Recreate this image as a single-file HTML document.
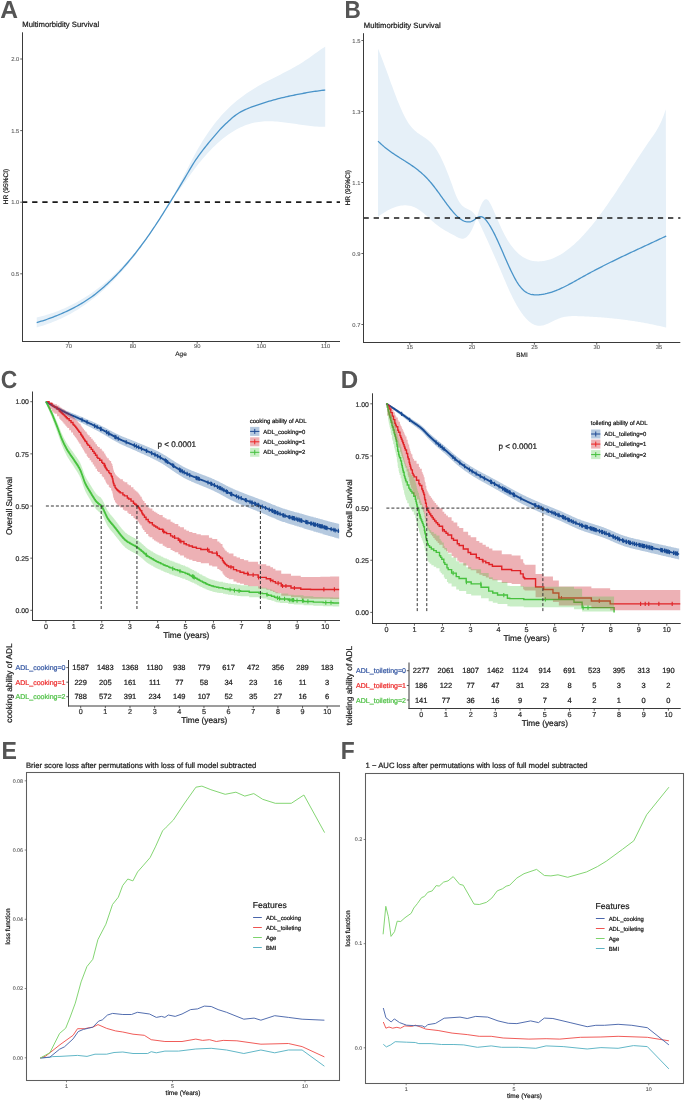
<!DOCTYPE html>
<html><head><meta charset="utf-8"><style>html,body{margin:0;padding:0;background:#fff;}svg{display:block;font-family:"Liberation Sans",sans-serif;text-rendering:geometricPrecision;will-change:transform;}</style></head><body>
<svg width="685" height="1100" viewBox="0 0 685 1100" font-family="Liberation Sans, sans-serif">
<text x="0" y="0" font-size="24.6" font-weight="bold" fill="#555555" transform="translate(0.27 18.1) scale(1 1)">A</text>
<text x="22.3" y="27.2" font-size="7.7" text-anchor="start" fill="#1a1a1a" stroke="#1a1a1a" stroke-width="0.22" >Multimorbidity Survival</text>
<path d="M36.7 317.62L38.7 317.12L40.7 316.6L42.7 316.04L44.7 315.47L46.7 314.86L48.7 314.23L50.7 313.57L52.7 312.89L54.7 312.17L56.7 311.43L58.7 310.65L60.7 309.85L62.7 309.01L64.7 308.14L66.7 307.24L68.7 306.3L70.7 305.33L72.7 304.33L74.7 303.29L76.7 302.22L78.7 301.11L80.7 299.96L82.7 298.77L84.7 297.55L86.7 296.29L88.7 294.98L90.7 293.64L92.7 292.26L94.7 290.84L96.7 289.37L98.7 287.86L100.7 286.31L102.7 284.72L104.7 283.08L106.7 281.39L108.7 279.66L110.7 277.88L112.7 276.06L114.7 274.19L116.7 272.27L118.7 270.3L120.7 268.28L122.7 266.22L124.7 264.1L126.7 261.93L128.7 259.71L130.7 257.43L132.7 255.11L134.7 252.72L136.7 250.29L138.7 247.8L140.7 245.25L142.7 242.65L144.7 239.99L146.7 237.28L148.7 234.5L150.7 231.67L152.7 228.78L154.7 225.82L156.7 222.81L158.7 219.74L160.7 216.6L162.7 213.41L164.7 210.15L166.7 206.83L168.7 203.44L170.7 200L172.7 196.48L174.7 192.91L176.7 189.27L178.7 185.57L180.7 181.8L182.7 177.96L184.7 174.07L186.7 170.15L188.7 166.23L190.7 162.34L192.7 158.5L194.7 154.74L196.7 151.08L198.7 147.55L200.7 144.14L202.7 140.86L204.7 137.7L206.7 134.66L208.7 131.73L210.7 128.91L212.7 126.2L214.7 123.59L216.7 121.08L218.7 118.67L220.7 116.35L222.7 114.12L224.7 111.98L226.7 109.93L228.7 107.95L230.7 106.06L232.7 104.24L234.7 102.48L236.7 100.8L238.7 99.18L240.7 97.63L242.7 96.13L244.7 94.68L246.7 93.29L248.7 91.95L250.7 90.65L252.7 89.39L254.7 88.17L256.7 86.99L258.7 85.84L260.7 84.72L262.7 83.62L264.7 82.55L266.7 81.49L268.7 80.46L270.7 79.43L272.7 78.41L274.7 77.41L276.7 76.4L278.7 75.39L280.7 74.38L282.7 73.37L284.7 72.34L286.7 71.31L288.7 70.25L290.7 69.18L292.7 68.08L294.7 66.96L296.7 65.81L298.7 64.63L300.7 63.41L302.7 62.15L304.7 60.85L306.7 59.51L308.7 58.13L310.7 56.72L312.7 55.29L314.7 53.86L316.7 52.43L318.7 51.01L320.7 49.61L322.7 48.25L324.7 46.94L325.2 46.62L325.2 126.67L324.7 126.69L322.7 126.71L320.7 126.69L318.7 126.63L316.7 126.53L314.7 126.39L312.7 126.22L310.7 126.03L308.7 125.8L306.7 125.56L304.7 125.3L302.7 125.02L300.7 124.73L298.7 124.43L296.7 124.12L294.7 123.82L292.7 123.52L290.7 123.22L288.7 122.93L286.7 122.65L284.7 122.39L282.7 122.14L280.7 121.92L278.7 121.73L276.7 121.56L274.7 121.43L272.7 121.33L270.7 121.27L268.7 121.25L266.7 121.28L264.7 121.36L262.7 121.49L260.7 121.67L258.7 121.92L256.7 122.23L254.7 122.6L252.7 123.05L250.7 123.56L248.7 124.16L246.7 124.83L244.7 125.58L242.7 126.4L240.7 127.3L238.7 128.28L236.7 129.34L234.7 130.47L232.7 131.67L230.7 132.96L228.7 134.32L226.7 135.75L224.7 137.26L222.7 138.84L220.7 140.5L218.7 142.23L216.7 144.04L214.7 145.92L212.7 147.87L210.7 149.9L208.7 152L206.7 154.18L204.7 156.43L202.7 158.75L200.7 161.14L198.7 163.6L196.7 166.14L194.7 168.75L192.7 171.41L190.7 174.13L188.7 176.88L186.7 179.64L184.7 182.42L182.7 185.19L180.7 187.94L178.7 190.68L176.7 193.43L174.7 196.21L172.7 199.04L170.7 201.93L168.7 204.91L166.7 207.98L164.7 211.1L162.7 214.28L160.7 217.49L158.7 220.7L156.7 223.91L154.7 227.1L152.7 230.24L150.7 233.33L148.7 236.36L146.7 239.33L144.7 242.24L142.7 245.09L140.7 247.89L138.7 250.62L136.7 253.3L134.7 255.93L132.7 258.5L130.7 261.01L128.7 263.47L126.7 265.87L124.7 268.23L122.7 270.53L120.7 272.77L118.7 274.97L116.7 277.11L114.7 279.21L112.7 281.25L110.7 283.25L108.7 285.19L106.7 287.09L104.7 288.94L102.7 290.74L100.7 292.5L98.7 294.21L96.7 295.88L94.7 297.5L92.7 299.07L90.7 300.6L88.7 302.09L86.7 303.54L84.7 304.94L82.7 306.3L80.7 307.62L78.7 308.9L76.7 310.14L74.7 311.34L72.7 312.5L70.7 313.63L68.7 314.71L66.7 315.76L64.7 316.77L62.7 317.75L60.7 318.69L58.7 319.59L56.7 320.46L54.7 321.3L52.7 322.1L50.7 322.88L48.7 323.61L46.7 324.32L44.7 325L42.7 325.64L40.7 326.26L38.7 326.84L36.7 327.4Z" fill="#e6f0f8"/>
<path d="M36.7 322.6L38.2 322.16L39.7 321.71L41.2 321.24L42.7 320.77L44.2 320.27L45.7 319.77L47.2 319.25L48.7 318.72L50.2 318.17L51.7 317.62L53.2 317.05L54.7 316.47L56.2 315.87L57.7 315.27L59.2 314.65L60.7 314.01L62.2 313.37L63.7 312.7L65.2 312.03L66.7 311.33L68.2 310.62L69.7 309.89L71.2 309.15L72.7 308.39L74.2 307.6L75.7 306.8L77.2 305.97L78.7 305.12L80.2 304.25L81.7 303.36L83.2 302.44L84.7 301.51L86.2 300.55L87.7 299.56L89.2 298.55L90.7 297.52L92.2 296.46L93.7 295.36L95.2 294.22L96.7 293.04L98.2 291.83L99.7 290.59L101.2 289.31L102.7 288.01L104.2 286.68L105.7 285.32L107.2 283.95L108.7 282.55L110.2 281.13L111.7 279.7L113.2 278.24L114.7 276.75L116.2 275.23L117.7 273.67L119.2 272.08L120.7 270.47L122.2 268.82L123.7 267.15L125.2 265.45L126.7 263.72L128.2 261.97L129.7 260.2L131.2 258.41L132.7 256.59L134.2 254.74L135.7 252.85L137.2 250.93L138.7 248.97L140.2 246.99L141.7 244.97L143.2 242.92L144.7 240.85L146.2 238.76L147.7 236.64L149.2 234.51L150.7 232.35L152.2 230.18L153.7 227.99L155.2 225.75L156.7 223.48L158.2 221.16L159.7 218.83L161.2 216.46L162.7 214.08L164.2 211.68L165.7 209.27L167.2 206.86L168.7 204.45L170.2 202.04L171.7 199.62L173.2 197.19L174.7 194.74L176.2 192.28L177.7 189.81L179.2 187.34L180.7 184.87L182.2 182.41L183.7 179.9L185.2 177.35L186.7 174.78L188.2 172.21L189.7 169.65L191.2 167.13L192.7 164.66L194.2 162.27L195.7 159.98L197.2 157.79L198.7 155.67L200.2 153.61L201.7 151.61L203.2 149.65L204.7 147.73L206.2 145.85L207.7 144L209.2 142.18L210.7 140.38L212.2 138.59L213.7 136.81L215.2 135.05L216.7 133.31L218.2 131.6L219.7 129.92L221.2 128.3L222.7 126.73L224.2 125.23L225.7 123.8L227.2 122.41L228.7 121.03L230.2 119.68L231.7 118.36L233.2 117.09L234.7 115.88L236.2 114.74L237.7 113.69L239.2 112.73L240.7 111.88L242.2 111.1L243.7 110.35L245.2 109.65L246.7 108.98L248.2 108.35L249.7 107.74L251.2 107.16L252.7 106.6L254.2 106.07L255.7 105.54L257.2 105.03L258.7 104.53L260.2 104.03L261.7 103.54L263.2 103.06L264.7 102.59L266.2 102.13L267.7 101.67L269.2 101.22L270.7 100.79L272.2 100.36L273.7 99.94L275.2 99.53L276.7 99.13L278.2 98.73L279.7 98.35L281.2 97.98L282.7 97.61L284.2 97.26L285.7 96.91L287.2 96.58L288.7 96.25L290.2 95.93L291.7 95.62L293.2 95.31L294.7 95L296.2 94.7L297.7 94.4L299.2 94.11L300.7 93.82L302.2 93.54L303.7 93.26L305.2 92.99L306.7 92.72L308.2 92.46L309.7 92.21L311.2 91.96L312.7 91.72L314.2 91.48L315.7 91.26L317.2 91.04L318.7 90.83L320.2 90.62L321.7 90.42L323.2 90.24L324.7 90.06L325.2 90" fill="none" stroke="#4a94c9" stroke-width="1.3" stroke-linejoin="round"/>
<line x1="22" y1="202.1" x2="340" y2="202.1" stroke="#1a1a1a" stroke-width="1.55" stroke-dasharray="5.3 4.85"/>
<line x1="22.5" y1="32.3" x2="22.5" y2="342" stroke="#3a3a3a" stroke-width="1" />
<line x1="22" y1="341.5" x2="340" y2="341.5" stroke="#3a3a3a" stroke-width="1" />
<line x1="20.2" y1="273.8" x2="22.5" y2="273.8" stroke="#3a3a3a" stroke-width="0.8" />
<text x="19.2" y="275.8" font-size="5.8" text-anchor="end" fill="#5a5a5a" stroke="#5a5a5a" stroke-width="0.1" >0.5</text>
<line x1="20.2" y1="202.2" x2="22.5" y2="202.2" stroke="#3a3a3a" stroke-width="0.8" />
<text x="19.2" y="204.2" font-size="5.8" text-anchor="end" fill="#5a5a5a" stroke="#5a5a5a" stroke-width="0.1" >1.0</text>
<line x1="20.2" y1="130.6" x2="22.5" y2="130.6" stroke="#3a3a3a" stroke-width="0.8" />
<text x="19.2" y="132.6" font-size="5.8" text-anchor="end" fill="#5a5a5a" stroke="#5a5a5a" stroke-width="0.1" >1.5</text>
<line x1="20.2" y1="59" x2="22.5" y2="59" stroke="#3a3a3a" stroke-width="0.8" />
<text x="19.2" y="61" font-size="5.8" text-anchor="end" fill="#5a5a5a" stroke="#5a5a5a" stroke-width="0.1" >2.0</text>
<line x1="68.7" y1="341.5" x2="68.7" y2="343.7" stroke="#3a3a3a" stroke-width="0.8" />
<text x="68.7" y="347.7" font-size="5.8" text-anchor="middle" fill="#5a5a5a" stroke="#5a5a5a" stroke-width="0.1" >70</text>
<line x1="132.95" y1="341.5" x2="132.95" y2="343.7" stroke="#3a3a3a" stroke-width="0.8" />
<text x="132.95" y="347.7" font-size="5.8" text-anchor="middle" fill="#5a5a5a" stroke="#5a5a5a" stroke-width="0.1" >80</text>
<line x1="197.2" y1="341.5" x2="197.2" y2="343.7" stroke="#3a3a3a" stroke-width="0.8" />
<text x="197.2" y="347.7" font-size="5.8" text-anchor="middle" fill="#5a5a5a" stroke="#5a5a5a" stroke-width="0.1" >90</text>
<line x1="261.45" y1="341.5" x2="261.45" y2="343.7" stroke="#3a3a3a" stroke-width="0.8" />
<text x="261.45" y="347.7" font-size="5.8" text-anchor="middle" fill="#5a5a5a" stroke="#5a5a5a" stroke-width="0.1" >100</text>
<line x1="325.7" y1="341.5" x2="325.7" y2="343.7" stroke="#3a3a3a" stroke-width="0.8" />
<text x="325.7" y="347.7" font-size="5.8" text-anchor="middle" fill="#5a5a5a" stroke="#5a5a5a" stroke-width="0.1" >110</text>
<text x="181" y="356.3" font-size="6.5" text-anchor="middle" fill="#1a1a1a" stroke="#1a1a1a" stroke-width="0.12" >Age</text>
<text x="0" y="0" font-size="6.6" text-anchor="middle" fill="#1a1a1a" stroke="#1a1a1a" stroke-width="0.22" transform="translate(8.35 186.5) rotate(-90)">HR (95%CI)</text>
<text x="0" y="0" font-size="24.6" font-weight="bold" fill="#555555" transform="translate(344.58 17.8) scale(0.92 1)">B</text>
<text x="363.8" y="27.8" font-size="7.7" text-anchor="start" fill="#1a1a1a" stroke="#1a1a1a" stroke-width="0.22" >Multimorbidity Survival</text>
<path d="M378 48.67L379 51.08L380 53.54L381 56.07L382 58.65L383 61.28L384 63.94L385 66.64L386 69.36L387 72.1L388 74.86L389 77.62L390 80.38L391 83.13L392 85.87L393 88.59L394 91.28L395 93.94L396 96.56L397 99.13L398 101.65L399 104.11L400 106.5L401 108.82L402 111.07L403 113.22L404 115.28L405 117.24L406 119.1L407 120.84L408 122.46L409 123.96L410 125.34L411 126.61L412 127.78L413 128.85L414 129.85L415 130.76L416 131.61L417 132.41L418 133.16L419 133.87L420 134.55L421 135.21L422 135.86L423 136.51L424 137.17L425 137.84L426 138.54L427 139.28L428 140.06L429 140.89L430 141.78L431 142.75L432 143.79L433 144.93L434 146.16L435 147.51L436 148.96L437 150.53L438 152.2L439 153.98L440 155.85L441 157.83L442 159.89L443 162.04L444 164.27L445 166.58L446 168.97L447 171.42L448 173.95L449 176.53L450 179.18L451 181.88L452 184.62L453 187.41L454 190.19L455 192.88L456 195.43L457 197.76L458 199.82L459 201.59L460 203.09L461 204.35L462 205.41L463 206.3L464 207.05L465 207.68L466 208.24L467 208.74L468 209.22L469 209.72L470 210.25L471 210.86L472 211.57L473 212.42L474 213.43L475 214.63L476 216.06L476.8 217.39L476.8 217.36L476 219.74L475 222.5L474 225.03L473 227.34L472 229.43L471 231.3L470 232.95L469 234.39L468 235.62L467 236.64L466 237.46L465 238.07L464 238.49L463 238.7L462 238.73L461 238.59L460 238.31L459 237.92L458 237.45L457 236.93L456 236.39L455 235.85L454 235.31L453 234.78L452 234.26L451 233.73L450 233.2L449 232.67L448 232.12L447 231.57L446 231.01L445 230.43L444 229.84L443 229.23L442 228.6L441 227.95L440 227.27L439 226.56L438 225.83L437 225.06L436 224.26L435 223.43L434 222.58L433 221.7L432 220.81L431 219.9L430 218.99L429 218.07L428 217.16L427 216.25L426 215.35L425 214.47L424 213.61L423 212.78L422 211.97L421 211.2L420 210.46L419 209.77L418 209.13L417 208.54L416 208L415 207.52L414 207.08L413 206.7L412 206.37L411 206.08L410 205.84L409 205.65L408 205.5L407 205.39L406 205.33L405 205.31L404 205.33L403 205.39L402 205.48L401 205.62L400 205.79L399 206L398 206.24L397 206.52L396 206.82L395 207.16L394 207.53L393 207.93L392 208.35L391 208.8L390 209.28L389 209.78L388 210.31L387 210.86L386 211.43L385 212.02L384 212.64L383 213.27L382 213.91L381 214.58L380 215.26L379 215.95L378 216.66Z" fill="#e6f0f8"/>
<path d="M476.8 217.73L477.8 214.32L478.8 211.16L479.8 208.29L480.8 205.74L481.8 203.56L482.8 201.77L483.8 200.41L484.8 199.53L485.8 199.14L486.8 199.3L487.8 199.99L488.8 201.12L489.8 202.63L490.8 204.44L491.8 206.47L492.8 208.64L493.8 210.88L494.8 213.18L495.8 215.52L496.8 217.87L497.8 220.22L498.8 222.55L499.8 224.84L500.8 227.07L501.8 229.22L502.8 231.29L503.8 233.27L504.8 235.17L505.8 236.99L506.8 238.73L507.8 240.38L508.8 241.97L509.8 243.47L510.8 244.91L511.8 246.27L512.8 247.56L513.8 248.78L514.8 249.93L515.8 251.02L516.8 252.04L517.8 253L518.8 253.9L519.8 254.74L520.8 255.52L521.8 256.24L522.8 256.91L523.8 257.52L524.8 258.09L525.8 258.6L526.8 259.06L527.8 259.48L528.8 259.85L529.8 260.18L530.8 260.46L531.8 260.71L532.8 260.91L533.8 261.08L534.8 261.2L535.8 261.3L536.8 261.36L537.8 261.39L538.8 261.39L539.8 261.36L540.8 261.3L541.8 261.22L542.8 261.1L543.8 260.95L544.8 260.78L545.8 260.58L546.8 260.35L547.8 260.1L548.8 259.81L549.8 259.5L550.8 259.17L551.8 258.8L552.8 258.41L553.8 258L554.8 257.56L555.8 257.09L556.8 256.6L557.8 256.08L558.8 255.54L559.8 254.98L560.8 254.39L561.8 253.77L562.8 253.13L563.8 252.47L564.8 251.79L565.8 251.08L566.8 250.35L567.8 249.6L568.8 248.82L569.8 248.03L570.8 247.21L571.8 246.37L572.8 245.51L573.8 244.63L574.8 243.72L575.8 242.8L576.8 241.86L577.8 240.89L578.8 239.91L579.8 238.91L580.8 237.89L581.8 236.84L582.8 235.78L583.8 234.71L584.8 233.61L585.8 232.5L586.8 231.36L587.8 230.21L588.8 229.05L589.8 227.86L590.8 226.66L591.8 225.45L592.8 224.21L593.8 222.96L594.8 221.7L595.8 220.42L596.8 219.12L597.8 217.81L598.8 216.49L599.8 215.15L600.8 213.79L601.8 212.43L602.8 211.05L603.8 209.65L604.8 208.25L605.8 206.83L606.8 205.41L607.8 203.97L608.8 202.52L609.8 201.06L610.8 199.6L611.8 198.12L612.8 196.64L613.8 195.15L614.8 193.65L615.8 192.14L616.8 190.63L617.8 189.12L618.8 187.59L619.8 186.07L620.8 184.54L621.8 183L622.8 181.46L623.8 179.92L624.8 178.38L625.8 176.83L626.8 175.29L627.8 173.74L628.8 172.19L629.8 170.64L630.8 169.1L631.8 167.55L632.8 166L633.8 164.46L634.8 162.92L635.8 161.38L636.8 159.85L637.8 158.32L638.8 156.79L639.8 155.27L640.8 153.75L641.8 152.24L642.8 150.74L643.8 149.24L644.8 147.75L645.8 146.27L646.8 144.8L647.8 143.33L648.8 141.87L649.8 140.43L650.8 138.99L651.8 137.56L652.8 136.14L653.8 134.69L654.8 133.21L655.8 131.67L656.8 130.06L657.8 128.36L658.8 126.54L659.8 124.6L660.8 122.51L661.8 120.25L662.8 117.81L663.8 115.17L664.8 112.31L665.8 109.2L666.2 327.6L665.8 327.5L664.8 327.26L663.8 327.01L662.8 326.78L661.8 326.54L660.8 326.31L659.8 326.08L658.8 325.85L657.8 325.63L656.8 325.41L655.8 325.19L654.8 324.98L653.8 324.76L652.8 324.56L651.8 324.35L650.8 324.15L649.8 323.95L648.8 323.75L647.8 323.55L646.8 323.36L645.8 323.17L644.8 322.99L643.8 322.8L642.8 322.62L641.8 322.45L640.8 322.27L639.8 322.1L638.8 321.93L637.8 321.76L636.8 321.6L635.8 321.44L634.8 321.28L633.8 321.12L632.8 320.97L631.8 320.82L630.8 320.67L629.8 320.52L628.8 320.38L627.8 320.24L626.8 320.1L625.8 319.96L624.8 319.83L623.8 319.7L622.8 319.57L621.8 319.45L620.8 319.32L619.8 319.2L618.8 319.09L617.8 318.97L616.8 318.86L615.8 318.74L614.8 318.64L613.8 318.53L612.8 318.43L611.8 318.32L610.8 318.22L609.8 318.13L608.8 318.03L607.8 317.94L606.8 317.85L605.8 317.76L604.8 317.68L603.8 317.59L602.8 317.51L601.8 317.43L600.8 317.35L599.8 317.28L598.8 317.21L597.8 317.14L596.8 317.07L595.8 317L594.8 316.94L593.8 316.88L592.8 316.82L591.8 316.76L590.8 316.7L589.8 316.65L588.8 316.59L587.8 316.54L586.8 316.5L585.8 316.45L584.8 316.41L583.8 316.36L582.8 316.32L581.8 316.29L580.8 316.25L579.8 316.21L578.8 316.18L577.8 316.15L576.8 316.12L575.8 316.1L574.8 316.09L573.8 316.09L572.8 316.1L571.8 316.12L570.8 316.16L569.8 316.21L568.8 316.29L567.8 316.38L566.8 316.5L565.8 316.65L564.8 316.82L563.8 317.03L562.8 317.26L561.8 317.53L560.8 317.84L559.8 318.18L558.8 318.56L557.8 318.97L556.8 319.41L555.8 319.87L554.8 320.35L553.8 320.83L552.8 321.33L551.8 321.82L550.8 322.31L549.8 322.79L548.8 323.25L547.8 323.69L546.8 324.1L545.8 324.48L544.8 324.83L543.8 325.13L542.8 325.38L541.8 325.57L540.8 325.71L539.8 325.78L538.8 325.79L537.8 325.71L536.8 325.56L535.8 325.32L534.8 324.99L533.8 324.57L532.8 324.07L531.8 323.49L530.8 322.82L529.8 322.07L528.8 321.24L527.8 320.32L526.8 319.34L525.8 318.27L524.8 317.12L523.8 315.91L522.8 314.61L521.8 313.25L520.8 311.81L519.8 310.31L518.8 308.73L517.8 307.09L516.8 305.38L515.8 303.6L514.8 301.77L513.8 299.86L512.8 297.9L511.8 295.87L510.8 293.79L509.8 291.65L508.8 289.45L507.8 287.2L506.8 284.92L505.8 282.61L504.8 280.27L503.8 277.91L502.8 275.55L501.8 273.19L500.8 270.84L499.8 268.5L498.8 266.17L497.8 263.86L496.8 261.56L495.8 259.26L494.8 256.98L493.8 254.71L492.8 252.46L491.8 250.21L490.8 247.97L489.8 245.74L488.8 243.53L487.8 241.32L486.8 239.12L485.8 236.93L484.8 234.75L483.8 232.58L482.8 230.42L481.8 228.27L480.8 226.12L479.8 223.99L478.8 221.86L477.8 219.74L476.8 217.62Z" fill="#e6f0f8"/>
<path d="M378 141.09L379 142.09L380 143.05L381 143.99L382 144.89L383 145.77L384 146.63L385 147.46L386 148.27L387 149.05L388 149.82L389 150.57L390 151.3L391 152.01L392 152.71L393 153.39L394 154.07L395 154.73L396 155.38L397 156.03L398 156.67L399 157.3L400 157.93L401 158.55L402 159.18L403 159.8L404 160.43L405 161.06L406 161.69L407 162.33L408 162.98L409 163.63L410 164.29L411 164.97L412 165.65L413 166.35L414 167.06L415 167.79L416 168.54L417 169.31L418 170.1L419 170.9L420 171.73L421 172.59L422 173.47L423 174.38L424 175.31L425 176.28L426 177.28L427 178.31L428 179.37L429 180.47L430 181.6L431 182.77L432 183.98L433 185.23L434 186.51L435 187.81L436 189.14L437 190.49L438 191.86L439 193.24L440 194.64L441 196.03L442 197.43L443 198.83L444 200.22L445 201.61L446 202.98L447 204.33L448 205.66L449 206.97L450 208.25L451 209.5L452 210.71L453 211.89L454 213.02L455 214.1L456 215.14L457 216.11L458 217.03L459 217.88L460 218.67L461 219.38L462 220.02L463 220.57L464 221.03L465 221.41L466 221.69L467 221.87L468 221.95L469 221.92L470 221.77L471 221.51L472 221.13L473 220.62L474 219.99L475 219.27L476 218.54L477 217.85L478 217.24L479 216.79L480 216.54L481 216.55L482 216.83L483 217.35L484 218.09L485 219.03L486 220.13L487 221.39L488 222.76L489 224.26L490 225.85L491 227.55L492 229.33L493 231.2L494 233.15L495 235.16L496 237.23L497 239.36L498 241.54L499 243.75L500 246L501 248.27L502 250.56L503 252.86L504 255.16L505 257.46L506 259.74L507 262.01L508 264.25L509 266.46L510 268.63L511 270.75L512 272.81L513 274.81L514 276.74L515 278.59L516 280.36L517 282.04L518 283.62L519 285.09L520 286.45L521 287.68L522 288.8L523 289.8L524 290.68L525 291.46L526 292.15L527 292.74L528 293.24L529 293.66L530 294.01L531 294.29L532 294.51L533 294.67L534 294.77L535 294.84L536 294.86L537 294.86L538 294.82L539 294.77L540 294.68L541 294.58L542 294.45L543 294.3L544 294.12L545 293.93L546 293.71L547 293.48L548 293.22L549 292.95L550 292.66L551 292.35L552 292.02L553 291.68L554 291.32L555 290.95L556 290.56L557 290.15L558 289.74L559 289.31L560 288.87L561 288.41L562 287.95L563 287.47L564 286.99L565 286.49L566 285.99L567 285.48L568 284.96L569 284.44L570 283.9L571 283.37L572 282.82L573 282.28L574 281.72L575 281.17L576 280.61L577 280.05L578 279.49L579 278.93L580 278.37L581 277.8L582 277.24L583 276.68L584 276.12L585 275.57L586 275.02L587 274.47L588 273.92L589 273.38L590 272.83L591 272.3L592 271.76L593 271.23L594 270.7L595 270.17L596 269.64L597 269.12L598 268.6L599 268.08L600 267.57L601 267.06L602 266.55L603 266.04L604 265.53L605 265.03L606 264.52L607 264.02L608 263.52L609 263.03L610 262.53L611 262.04L612 261.55L613 261.06L614 260.57L615 260.08L616 259.6L617 259.11L618 258.63L619 258.15L620 257.67L621 257.19L622 256.71L623 256.24L624 255.76L625 255.29L626 254.81L627 254.34L628 253.87L629 253.4L630 252.93L631 252.46L632 251.99L633 251.53L634 251.06L635 250.59L636 250.13L637 249.66L638 249.19L639 248.73L640 248.26L641 247.8L642 247.33L643 246.87L644 246.41L645 245.94L646 245.48L647 245.01L648 244.55L649 244.08L650 243.62L651 243.15L652 242.69L653 242.22L654 241.75L655 241.28L656 240.82L657 240.35L658 239.88L659 239.41L660 238.94L661 238.47L662 237.99L663 237.52L664 237.05L665 236.57L666 236.09L666.2 236" fill="none" stroke="#4a94c9" stroke-width="1.3" stroke-linejoin="round"/>
<line x1="363.5" y1="218" x2="680.4" y2="218" stroke="#1a1a1a" stroke-width="1.55" stroke-dasharray="5.3 4.85"/>
<line x1="363.5" y1="33.2" x2="363.5" y2="343" stroke="#3a3a3a" stroke-width="1" />
<line x1="363" y1="342.5" x2="680.3" y2="342.5" stroke="#3a3a3a" stroke-width="1" />
<line x1="361.4" y1="324.5" x2="363.5" y2="324.5" stroke="#3a3a3a" stroke-width="0.8" />
<text x="360.4" y="326.5" font-size="5.8" text-anchor="end" fill="#5a5a5a" stroke="#5a5a5a" stroke-width="0.1" >0.7</text>
<line x1="361.4" y1="253.5" x2="363.5" y2="253.5" stroke="#3a3a3a" stroke-width="0.8" />
<text x="360.4" y="255.5" font-size="5.8" text-anchor="end" fill="#5a5a5a" stroke="#5a5a5a" stroke-width="0.1" >0.9</text>
<line x1="361.4" y1="182.5" x2="363.5" y2="182.5" stroke="#3a3a3a" stroke-width="0.8" />
<text x="360.4" y="184.5" font-size="5.8" text-anchor="end" fill="#5a5a5a" stroke="#5a5a5a" stroke-width="0.1" >1.1</text>
<line x1="361.4" y1="111.5" x2="363.5" y2="111.5" stroke="#3a3a3a" stroke-width="0.8" />
<text x="360.4" y="113.5" font-size="5.8" text-anchor="end" fill="#5a5a5a" stroke="#5a5a5a" stroke-width="0.1" >1.3</text>
<line x1="361.4" y1="40.5" x2="363.5" y2="40.5" stroke="#3a3a3a" stroke-width="0.8" />
<text x="360.4" y="42.5" font-size="5.8" text-anchor="end" fill="#5a5a5a" stroke="#5a5a5a" stroke-width="0.1" >1.5</text>
<line x1="409.8" y1="342.5" x2="409.8" y2="344.7" stroke="#3a3a3a" stroke-width="0.8" />
<text x="409.8" y="348.7" font-size="5.8" text-anchor="middle" fill="#5a5a5a" stroke="#5a5a5a" stroke-width="0.1" >15</text>
<line x1="472.1" y1="342.5" x2="472.1" y2="344.7" stroke="#3a3a3a" stroke-width="0.8" />
<text x="472.1" y="348.7" font-size="5.8" text-anchor="middle" fill="#5a5a5a" stroke="#5a5a5a" stroke-width="0.1" >20</text>
<line x1="534.4" y1="342.5" x2="534.4" y2="344.7" stroke="#3a3a3a" stroke-width="0.8" />
<text x="534.4" y="348.7" font-size="5.8" text-anchor="middle" fill="#5a5a5a" stroke="#5a5a5a" stroke-width="0.1" >25</text>
<line x1="596.7" y1="342.5" x2="596.7" y2="344.7" stroke="#3a3a3a" stroke-width="0.8" />
<text x="596.7" y="348.7" font-size="5.8" text-anchor="middle" fill="#5a5a5a" stroke="#5a5a5a" stroke-width="0.1" >30</text>
<line x1="659" y1="342.5" x2="659" y2="344.7" stroke="#3a3a3a" stroke-width="0.8" />
<text x="659" y="348.7" font-size="5.8" text-anchor="middle" fill="#5a5a5a" stroke="#5a5a5a" stroke-width="0.1" >35</text>
<text x="522" y="357.3" font-size="6.5" text-anchor="middle" fill="#1a1a1a" stroke="#1a1a1a" stroke-width="0.12" >BMI</text>
<text x="0" y="0" font-size="6.6" text-anchor="middle" fill="#1a1a1a" stroke="#1a1a1a" stroke-width="0.22" transform="translate(349.7 187.8) rotate(-90)">HR (95%CI)</text>
<text x="0" y="0" font-size="24.6" font-weight="bold" fill="#555555" transform="translate(0.81 387.9) scale(0.93 1)">C</text>
<path d="M45.9 401.7H46.12V401.84H46.57V402.11H47.02V402.38H47.24V402.52H47.46V402.65H47.69V402.79H47.91V402.92H48.36V403.19H48.58V403.32H48.8V403.46H49.25V403.72H49.48V403.86H49.92V404.12H50.2V404.29H50.48V404.45H50.98V404.74H51.26V404.91H51.77V405.2H52.27V405.49H52.55V405.65H52.83V405.81H53.11V405.97H53.61V406.26H53.89V406.41H54.17V406.57H54.45V406.73H54.73V406.89H55.01V407.04H55.28V407.2H55.56V407.35H55.84V407.51H56.12V407.66H56.4V407.82H56.68V407.97H56.96V408.12H57.24V408.28H57.74V408.55H58.02V408.7H58.3V408.85H58.58V409H59.08V409.27H59.64V409.56H59.92V409.71H60.2V409.86H60.76V410.15H61.32V410.44H61.88V410.73H62.16V410.87H62.71V411.15H62.99V411.29H63.27V411.43H63.55V411.57H64.11V411.85H64.67V412.12H64.95V412.26H65.28V412.42H65.62V412.58H65.95V412.74H66.57V413.03H66.9V413.19H67.24V413.34H67.57V413.5H68.19V413.78H68.52V413.93H68.86V414.08H69.19V414.23H69.53V414.38H70.14V414.66H70.48V414.81H70.81V414.96H71.15V415.1H71.48V415.25H71.82V415.4H72.49V415.69H73.16V415.99H73.49V416.13H73.83V416.28H74.17V416.43H74.5V416.57H75.17V416.87H75.84V417.16H76.18V417.31H76.85V417.6H77.18V417.75H77.52V417.9H78.19V418.2H78.52V418.35H78.86V418.5H79.19V418.65H79.53V418.8H80.14V419.08H80.48V419.24H81.09V419.52H81.71V419.81H82.32V420.09H82.94V420.38H83.55V420.66H83.88V420.82H84.22V420.97H84.56V421.13H84.89V421.28H85.5V421.57H85.84V421.73H86.18V421.88H86.51V422.04H86.85V422.19H87.18V422.35H87.52V422.51H87.85V422.66H88.19V422.82H88.52V422.98H88.86V423.14H89.19V423.29H89.53V423.45H89.86V423.61H90.2V423.77H90.81V424.06H91.43V424.35H92.04V424.65H92.65V424.94H92.99V425.1H93.6V425.4H93.94V425.56H94.27V425.72H94.61V425.89H94.95V426.05H95.56V426.35H95.89V426.52H96.23V426.68H96.57V426.85H96.9V427.02H97.24V427.18H97.57V427.35H97.91V427.52H98.24V427.69H98.58V427.86H99.13V428.15H99.41V428.29H99.69V428.44H99.97V428.58H100.25V428.73H100.53V428.88H100.81V429.03H101.09V429.18H101.37V429.33H101.93V429.63H102.21V429.78H102.49V429.93H102.77V430.09H103.32V430.4H103.6V430.55H103.88V430.71H104.16V430.86H104.72V431.18H105V431.33H105.56V431.65H105.84V431.81H106.12V431.97H106.4V432.12H106.95V432.44H107.51V432.76H107.79V432.92H108.07V433.08H108.35V433.24H108.63V433.4H108.91V433.55H109.19V433.71H109.47V433.87H109.75V434.03H110.03V434.19H110.59V434.51H111.14V434.82H111.42V434.98H111.98V435.29H112.26V435.45H112.82V435.76H113.38V436.07H113.66V436.22H113.94V436.38H114.22V436.53H114.78V436.83H115.05V436.98H115.61V437.28H116.17V437.58H116.45V437.72H116.79V437.9H117.4V438.21H118.02V438.53H118.63V438.83H118.96V439H119.3V439.16H119.64V439.32H119.97V439.48H120.31V439.64H120.64V439.8H120.98V439.95H121.31V440.11H121.65V440.26H121.98V440.41H122.32V440.56H122.65V440.71H123.38V441.03H124.1V441.35H124.5V441.51H124.89V441.68H125.28V441.85H126V442.15H126.73V442.46H127.12V442.62H127.51V442.78H127.9V442.94H128.63V443.24H129.35V443.54H129.75V443.7H130.47V444H130.86V444.17H131.25V444.33H131.98V444.63H132.37V444.8H133.1V445.1H133.49V445.27H133.88V445.44H134.61V445.75H135V445.92H135.72V446.24H136.11V446.41H136.84V446.73H137.23V446.9H137.62V447.07H138.01V447.24H138.74V447.55H139.13V447.72H139.86V448.03H140.58V448.34H140.97V448.51H141.36V448.68H141.76V448.85H142.15V449.02H142.54V449.19H143.26V449.5H143.99V449.81H144.72V450.13H145.11V450.3H145.5V450.47H146.22V450.79H146.62V450.96H147.01V451.13H147.4V451.3H147.79V451.48H148.18V451.65H148.91V451.97H149.3V452.15H150.02V452.48H150.41V452.66H150.81V452.84H151.53V453.17H152.2V453.48H152.54V453.64H152.87V453.8H153.21V453.96H153.54V454.12H154.21V454.44H154.55V454.6H154.88V454.76H155.55V455.09H155.89V455.26H156.22V455.42H156.56V455.59H156.89V455.76H157.56V456.1H157.9V456.27H158.51V456.59H158.85V456.77H159.46V457.1H160.08V457.43H160.41V457.62H160.69V457.78H160.97V457.94H161.25V458.1H161.53V458.26H161.81V458.42H162.09V458.59H162.65V458.92H162.93V459.09H163.21V459.26H163.49V459.43H163.76V459.6H164.04V459.77H164.6V460.12H165.11V460.44H165.61V460.76H165.89V460.94H166.17V461.12H166.45V461.3H166.95V461.62H167.23V461.81H167.51V461.99H167.79V462.17H168.07V462.36H168.35V462.54H168.62V462.72H168.9V462.91H169.18V463.1H169.46V463.28H169.97V463.62H170.24V463.8H170.52V463.99H170.8V464.18H171.31V464.51H171.58V464.7H171.86V464.89H172.14V465.07H172.42V465.26H172.93V465.6H173.43V465.93H173.71V466.12H173.99V466.3H174.27V466.49H174.55V466.67H174.82V466.86H175.1V467.04H175.38V467.23H175.66V467.41H175.94V467.59H176.22V467.77H176.5V467.95H176.78V468.13H177.06V468.31H177.34V468.49H177.9V468.85H178.18V469.03H178.74V469.38H179.01V469.55H179.29V469.72H179.85V470.07H180.13V470.24H180.69V470.57H180.97V470.74H181.53V471.07H182.14V471.42H182.76V471.77H183.09V471.95H183.43V472.14H183.76V472.32H184.43V472.68H184.77V472.85H185.44V473.19H185.77V473.36H186.44V473.69H186.83V473.88H187.23V474.07H187.95V474.41H188.68V474.74H189.46V475.1H190.24V475.44H191.02V475.79H191.42V475.95H191.86V476.15H192.31V476.33H192.76V476.52H193.59V476.87H194.04V477.05H194.49V477.23H194.93V477.41H195.83V477.77H196.72V478.13H197.17V478.3H197.62V478.48H198.51V478.83H198.96V479H199.4V479.17H199.85V479.35H200.3V479.52H200.74V479.69H201.19V479.86H201.64V480.04H202.08V480.21H202.53V480.38H202.98V480.56H203.43V480.73H203.87V480.9H204.32V481.08H205.21V481.43H205.66V481.61H206.11V481.79H206.55V481.96H207V482.14H207.45V482.33H207.89V482.51H208.34V482.69H208.79V482.88H209.23V483.06H209.68V483.25H210.52V483.61H210.97V483.8H211.41V484H211.86V484.2H212.31V484.4H212.75V484.6H213.14V484.78H213.93V485.14H214.71V485.51H215.1V485.7H215.49V485.89H215.88V486.08H216.27V486.28H216.66V486.47H217.39V486.84H217.78V487.04H218.51V487.42H219.23V487.8H219.62V488.01H220.02V488.21H220.74V488.6H221.13V488.81H221.86V489.2H222.59V489.59H222.98V489.8H223.7V490.19H224.43V490.58H225.15V490.97H225.55V491.18H225.94V491.39H226.33V491.6H226.72V491.8H227.11V492.01H227.84V492.39H228.23V492.6H228.62V492.8H229.4V493.2H229.79V493.4H230.18V493.6H230.57V493.79H231.36V494.18H231.75V494.37H232.58V494.77H233.42V495.16H233.87V495.36H234.32V495.56H235.21V495.96H236.1V496.35H236.55V496.55H237.5V496.95H238.45V497.36H238.95V497.57H239.9V497.96H240.4V498.17H241.41V498.58H242.42V498.98H242.92V499.19H243.92V499.58H244.43V499.78H244.93V499.98H245.49V500.2H246.05V500.42H247.11V500.83H248.17V501.24H248.73V501.46H249.29V501.67H249.84V501.89H250.4V502.1H250.96V502.32H251.52V502.53H252.58V502.94H253.14V503.15H253.7V503.37H254.26V503.58H254.82V503.8H255.37V504.02H255.93V504.23H256.99V504.65H257.55V504.87H258.11V505.09H258.67V505.31H259.23V505.53H259.79V505.75H260.35V505.98H260.91V506.2H261.97V506.64H263.03V507.08H264.09V507.52H264.65V507.75H265.21V507.99H266.21V508.41H267.22V508.84H267.78V509.08H268.33V509.32H268.89V509.55H269.45V509.79H270.51V510.24H271.07V510.48H272.13V510.93H272.69V511.16H273.75V511.6H274.87V512.06H275.99V512.52H276.55V512.74H277.1V512.96H277.72V513.21H278.33V513.45H278.95V513.68H279.56V513.92H280.18V514.15H280.79V514.38H281.46V514.62H282.13V514.86H282.8V515.1H283.47V515.33H284.87V515.81H285.6V516.05H286.32V516.29H287.05V516.52H287.77V516.75H288.56V517H289.34V517.25H290.12V517.49H290.9V517.73H292.47V518.2H294.09V518.68H294.92V518.93H296.6V519.41H297.44V519.66H299.11V520.14H300.01V520.39H301.74V520.89H303.47V521.39H304.36V521.65H305.26V521.91H306.15V522.17H307.05V522.44H307.94V522.7H308.83V522.96H309.73V523.22H310.62V523.49H311.51V523.75H313.3V524.27H314.2V524.53H315.98V525.05H317.83V525.59H319.67V526.12H320.62V526.4H322.52V526.94H323.47V527.22H324.42V527.49H325.37V527.76H326.37V528.05H327.38V528.34H328.38V528.62H330.34V529.18H332.35V529.75H334.36V530.31H336.43V530.89H338.49V531.47H339.16V531.47" fill="none" stroke="#1f4a94" stroke-width="1.4"/><path d="M219.26 485.7v4.2M196.75 476.03v4.2M292.66 516.1v4.2M320.06 524.02v4.2M262.25 504.54v4.2M160.26 455.33v4.2M313.56 522.17v4.2M250.04 499.79v4.2M246.33 498.32v4.2M108.38 431.14v4.2M255.39 501.92v4.2M298.98 517.56v4.2M236.54 494.25v4.2M220.68 486.11v4.2M283.58 513.23v4.2M87.1 420.09v4.2M254.75 501.48v4.2M331.16 527.08v4.2M289.58 515.15v4.2M231.82 492.27v4.2M289.31 514.9v4.2M274.01 509.5v4.2M179.94 467.97v4.2M179.56 467.62v4.2M321.95 524.3v4.2M198.02 476.38v4.2M126.15 440.05v4.2M313.19 521.65v4.2M258.03 502.77v4.2M223.85 488.09v4.2M255.64 501.92v4.2M297.62 517.56v4.2M166.3 459.02v4.2M282.89 513v4.2M293.61 516.1v4.2M310.65 521.39v4.2M198.22 476.38v4.2M274.88 509.96v4.2M187.19 471.78v4.2M265.56 505.89v4.2M167.65 459.89v4.2M306.52 520.07v4.2M318.92 523.49v4.2M214.28 483.04v4.2M184.18 470.22v4.2M333.81 527.65v4.2M292.43 515.63v4.2M315.29 522.43v4.2M97.15 424.92v4.2M324.02 525.12v4.2M277.27 510.86v4.2M210.89 481.51v4.2M238.6 495.26v4.2M301.83 518.79v4.2M305.8 519.81v4.2M173.7 463.83v4.2M277.91 511.11v4.2M165.25 458.34v4.2M335.19 528.21v4.2M241.22 496.07v4.2M326.14 525.66v4.2M296.16 516.83v4.2M274.24 509.5v4.2M196.01 475.67v4.2M258.71 503.21v4.2M155.09 452.66v4.2M154.88 452.5v4.2M294.01 516.1v4.2M222.13 487.1v4.2M300.11 518.29v4.2M189.72 473v4.2M294.43 516.58v4.2M294.48 516.58v4.2M207.99 480.41v4.2M141.55 446.58v4.2M230.68 491.69v4.2M251.68 500.43v4.2M138.63 445.14v4.2M172.64 463.16v4.2M114.89 434.73v4.2M272.59 508.83v4.2M322.39 524.3v4.2M182.37 469.32v4.2M100.54 426.78v4.2M291.95 515.63v4.2M310.64 521.39v4.2M333.86 527.65v4.2M275.54 509.96v4.2M217.51 484.74v4.2M314.34 522.43v4.2M146.67 448.86v4.2M289.97 515.15v4.2M136.4 444.31v4.2M231.31 491.69v4.2M252.23 500.43v4.2M226.18 489.29v4.2M166.32 459.02v4.2M187.07 471.78v4.2M311.49 521.39v4.2M245.36 497.88v4.2M269.23 507.45v4.2M180.9 468.47v4.2M293.87 516.1v4.2M214.4 483.04v4.2M271.85 508.38v4.2M325.58 525.66v4.2M338.34 528.79v4.2M108.95 431.45v4.2M307.78 520.34v4.2M317.48 522.95v4.2M211.69 481.9v4.2M227.43 489.91v4.2M269.29 507.45v4.2M327.01 525.95v4.2M231.36 492.08v4.2M321.01 524.3v4.2M301.32 518.29v4.2M160.34 455.33v4.2M326.22 525.66v4.2M82.03 417.71v4.2M157.64 454v4.2M285.02 513.71v4.2M115.99 435.18v4.2M226.56 489.5v4.2M151.63 451.07v4.2M245.43 497.88v4.2M314.68 522.43v4.2M325.05 525.39v4.2M101.13 427.08v4.2M118.24 436.43v4.2M314.78 522.43v4.2M106.58 430.02v4.2M199.29 476.9v4.2M146.4 448.69v4.2M134.39 443.34v4.2M94.64 423.79v4.2M280.06 511.82v4.2M298.96 517.56v4.2M288.93 514.9v4.2M315.58 522.43v4.2" stroke="#1f4a94" stroke-width="1.1" fill="none"/>
<path d="M45.9 401.7H49.08V403.55H51.93V405.41H53.27V406.35H54.56V407.27H57.02V409.16H59.25V411.05H60.31V411.99H61.37V412.95H62.43V413.93H63.44V414.87H64.45V415.83H65.4V416.78H66.34V417.74H67.29V418.73H69.14V420.65H71.04V422.57H72.99V424.46H73.94V425.42H74.84V426.4H75.67V427.39H76.46V428.39H77.18V429.36H77.91V430.36H78.63V431.39H79.3V432.35H80.64V434.3H81.32V435.27H81.99V436.27H82.66V437.3H83.33V438.34H84V439.39H84.67V440.43H85.34V441.45H86.68V443.42H87.4V444.43H88.13V445.4H89.64V447.36H91.2V449.37H92.71V451.36H94.11V453.32H95.5V455.3H97.01V457.33H97.85V458.35H99.75V460.32H101.76V462.34H102.65V463.37H104.11V465.43H105.34V467.47H105.95V468.51H106.56V469.53H107.23V470.58H108.8V472.6H109.69V473.64H111.14V475.73H111.7V476.8H112.37V478.9H112.88V481.05H113.16V482.3H113.43V483.52H113.99V485.57H115.05V487.62H115.78V488.65H116.67V489.72H117.74V490.77H118.91V491.79H120.14V492.84H122.88V494.89H124.44V495.92H127.34V498.01H128.63V499.07H131.03V501.16H133.43V503.26H134.72V504.32H136.17V505.37H137.4V506.44H138.29V507.49H139.07V508.56H139.8V509.65H140.47V510.72H141.76V512.88H142.43V514.02H143.1V515.14H144.44V517.28H146.06V519.46H148.24V521.59H149.52V522.69H152.37V524.87H153.99V525.98H155.66V527.06H157.4V528.15H159.18V529.25H162.7V531.44H164.6V532.56H166.56V533.67H170.58V535.88H172.59V537H174.6V538.14H178.29V540.38H180.08V541.51H183.93V543.78H186.28V544.92H189.07V546.07H192.42V547.23H196.39V548.4H200.8V549.57H208.96V551.95H212.2V553.17H217.28V555.63H219.35V556.88H220.63V558.14H222.47V560.64H223.37V561.94H224.26V563.2H225.32V564.51H226.77V565.78H228.67V567.06H233.48V569.63H236.55V570.92H240.07V572.24H243.92V573.56H248.28V574.9H258.11V577.35H266.27V578.74H270.29V580.18H272.97V581.63H275.43V583.09H281.24V586.02H291.01V588.01H300.79V589.22H310.56V589.44H320.34V589.44H330.12V589.44H339.16V589.44" fill="none" stroke="#ec2424" stroke-width="1.4"/><path d="M207.54 547.47v4.2M294.38 585.91v4.2M230.96 564.96v4.2M163.6 529.34v4.2M258.57 575.25v4.2M323.88 587.34v4.2M174.58 534.9v4.2M282.55 583.92v4.2M247.73 571.46v4.2M270.76 578.08v4.2M180.92 539.41v4.2M334.38 587.34v4.2M216.76 551.07v4.2M285.93 583.92v4.2M253.13 572.8v4.2M104.74 463.33v4.2M278.12 580.99v4.2M179.69 538.28v4.2" stroke="#ec2424" stroke-width="1.1" fill="none"/>
<path d="M45.9 401.7H46.07V402H46.24V402.31H46.4V402.62H46.57V402.93H46.74V403.24H46.91V403.55H47.07V403.87H47.35V404.4H47.52V404.72H47.69V405.05H47.97V405.6H48.13V405.93H48.41V406.48H48.58V406.82H48.75V407.16H48.92V407.5H49.08V407.84H49.36V408.42H49.53V408.77H49.81V409.35H49.98V409.7H50.15V410.06H50.42V410.66H50.59V411.02H50.76V411.38H50.93V411.74H51.21V412.35H51.37V412.72H51.65V413.34H51.93V413.97H52.21V414.6H52.49V415.25H52.66V415.64H52.94V416.3H53.11V416.7H53.33V417.24H53.55V417.78H53.66V418.06H53.78V418.33H53.89V418.61H54.11V419.16H54.22V419.44H54.33V419.72H54.45V420H54.56V420.28H54.67V420.56H54.78V420.85H54.89V421.13H55.01V421.41H55.23V421.98H55.34V422.27H55.56V422.84H55.79V423.41H56.01V423.98H56.12V424.27H56.23V424.56H56.46V425.13H56.68V425.71H56.9V426.28H57.02V426.56H57.24V427.13H57.35V427.42H57.57V427.99H57.69V428.28H57.8V428.57H57.91V428.86H58.13V429.45H58.36V430.04H58.47V430.34H58.69V430.94H58.8V431.24H58.92V431.55H59.03V431.85H59.25V432.46H59.47V433.07H59.59V433.37H59.7V433.68H59.81V433.98H60.03V434.58H60.14V434.89H60.37V435.48H60.59V436.08H60.7V436.37H60.93V436.95H61.04V437.24H61.15V437.52H61.26V437.81H61.37V438.09H61.48V438.36H61.6V438.64H61.76V439.04H61.93V439.44H62.1V439.83H62.38V440.46H62.55V440.83H62.83V441.45H63.1V442.06H63.27V442.42H63.44V442.78H63.61V443.14H63.78V443.49H63.94V443.84H64.11V444.18H64.28V444.53H64.56V445.09H64.72V445.43H64.89V445.76H65.23V446.41H65.4V446.73H65.56V447.05H65.9V447.68H66.07V447.99H66.23V448.29H66.4V448.6H66.57V448.9H66.74V449.19H66.9V449.48H67.07V449.77H67.24V450.06H67.41V450.34H67.57V450.62H67.8V450.98H68.02V451.34H68.24V451.7H68.64V452.3H69.03V452.89H69.25V453.23H69.47V453.56H69.7V453.88H70.09V454.45H70.31V454.77H70.53V455.08H70.76V455.4H70.98V455.72H71.2V456.03H71.43V456.35H71.65V456.66H71.87V456.98H72.1V457.3H72.32V457.62H72.71V458.18H72.94V458.51H73.16V458.84H73.55V459.42H73.77V459.76H74V460.11H74.39V460.71H74.61V461.05H74.84V461.38H75.06V461.71H75.28V462.04H75.51V462.37H75.73V462.7H75.95V463.03H76.34V463.61H76.57V463.94H76.96V464.53H77.18V464.87H77.41V465.22H77.63V465.57H78.02V466.2H78.24V466.56H78.47V466.94H78.63V467.22H78.8V467.51H78.97V467.81H79.3V468.41H79.64V469.04H79.81V469.36H79.97V469.69H80.31V470.38H80.48V470.75H80.76V471.4H80.92V471.81H81.09V472.23H81.2V472.52H81.43V473.11H81.54V473.42H81.65V473.72H81.76V474.03H81.87V474.35H81.99V474.66H82.21V475.3H82.32V475.63H82.43V475.95H82.66V476.6H82.88V477.26H83.1V477.91H83.21V478.23H83.44V478.88H83.66V479.52H83.77V479.83H84V480.45H84.22V481.06H84.33V481.36H84.44V481.65H84.61V482.08H84.78V482.49H84.95V482.89H85.11V483.28H85.28V483.65H85.45V484H85.78V484.69H85.95V485.02H86.29V485.66H86.45V485.97H86.79V486.59H87.12V487.18H87.52V487.85H87.74V488.23H87.96V488.61H88.35V489.25H88.58V489.61H88.8V489.98H89.02V490.34H89.25V490.7H89.47V491.06H89.86V491.7H90.09V492.07H90.31V492.44H90.53V492.81H90.92V493.47H91.15V493.84H91.54V494.5H91.76V494.88H91.98V495.26H92.21V495.63H92.6V496.28H92.82V496.65H93.21V497.29H93.6V497.91H94V498.52H94.39V499.12H94.61V499.45H94.83V499.77H95.28V500.4H95.5V500.7H95.78V501.06H96.06V501.41H96.34V501.75H96.62V502.06H96.9V502.36H97.57V502.99H97.96V503.31H98.35V503.61H98.8V503.94H99.25V504.26H99.69V504.6H100.42V505.2H101.03V505.81H101.31V506.13H101.59V506.49H101.82V506.8H102.04V507.14H102.26V507.5H102.49V507.88H102.71V508.28H102.88V508.59H103.04V508.91H103.21V509.23H103.38V509.57H103.55V509.91H103.88V510.61H104.05V510.97H104.22V511.33H104.39V511.69H104.55V512.06H104.72V512.43H105V513.05H105.17V513.42H105.45V514.03H105.61V514.4H105.78V514.77H105.95V515.13H106.12V515.49H106.45V516.2H106.62V516.54H106.79V516.88H106.95V517.21H107.12V517.53H107.29V517.85H107.46V518.15H107.68V518.54H107.9V518.91H108.13V519.27H108.57V519.92H109.02V520.55H109.3V520.93H109.8V521.59H110.31V522.22H110.59V522.57H110.87V522.9H111.14V523.24H111.7V523.89H111.98V524.22H112.54V524.87H113.1V525.52H113.38V525.85H113.94V526.52H114.22V526.86H114.5V527.2H114.78V527.55H115.05V527.9H115.33V528.26H115.84V528.91H116.12V529.27H116.4V529.64H116.67V530H117.18V530.67H117.46V531.03H117.74V531.4H118.24V532.07H118.52V532.44H119.02V533.1H119.3V533.46H119.8V534.11H120.31V534.75H120.58V535.1H121.14V535.8H121.42V536.14H121.98V536.8H122.26V537.13H122.88V537.82H123.21V538.19H123.82V538.83H124.5V539.5H124.89V539.86H125.28V540.21H125.67V540.54H126.51V541.19H126.95V541.51H127.46V541.87H127.96V542.2H128.52V542.56H129.63V543.22H130.25V543.57H130.86V543.91H131.48V544.24H132.09V544.57H132.71V544.89H133.32V545.22H133.94V545.55H135.11V546.21H135.67V546.53H136.73V547.19H137.23V547.53H137.73V547.88H138.63V548.54H139.07V548.89H139.52V549.25H139.97V549.62H140.42V550H141.2V550.68H141.59V551.02H141.98V551.37H142.76V552.07H143.54V552.77H143.93V553.12H144.33V553.47H145.11V554.15H145.55V554.53H146V554.91H146.45V555.27H146.89V555.63H147.34V555.97H147.84V556.34H148.35V556.7H149.41V557.39H149.97V557.74H151.14V558.45H151.75V558.82H152.98V559.53H153.6V559.88H154.27V560.25H154.94V560.62H155.61V560.98H156.28V561.34H156.95V561.69H157.68V562.06H158.4V562.42H159.13V562.78H160.58V563.49H161.36V563.86H162.93V564.58H163.71V564.94H164.55V565.31H165.38V565.69H167.06V566.42H168.74V567.13H169.63V567.51H170.52V567.89H172.37V568.62H174.38V569.37H175.44V569.74H177.56V570.48H179.74V571.23H180.86V571.62H181.92V572H182.98V572.38H184.99V573.15H185.94V573.54H187.73V574.32H189.35V575.08H190.13V575.47H190.91V575.86H191.69V576.26H192.48V576.67H193.98V577.47H195.44V578.26H196.89V579.05H197.62V579.45H199.07V580.24H199.85V580.66H200.63V581.08H202.2V581.9H202.98V582.3H203.82V582.72H205.49V583.54H206.39V583.95H207.34V584.37H208.34V584.79H209.4V585.21H210.58V585.64H211.86V586.06H213.31V586.48H214.99V586.89H216.78V587.32H218.73V587.75H222.98V588.6H225.38V589.03H228V589.48H230.85V589.92H233.92V590.37H237.16V590.82H240.57V591.28H249.23V592.2H258.84V593.16H262.41V593.67H266.71V594.69H268.39V595.21H271.46V596.26H274.48V597.31H276.1V597.84H277.89V598.39H280.01V598.93H288.22V600.03H293.81V600.6H303.58V601.47H313.36V602.17H323.13V602.67H332.91V602.95H339.16V602.95" fill="none" stroke="#44bf3c" stroke-width="1.4"/><path d="M267.06 592.59v4.2M239.08 588.72v4.2M302.78 598.5v4.2M297.03 598.5v4.2M279.52 596.29v4.2M194.24 575.37v4.2M292.09 597.93v4.2M289.82 597.93v4.2M193.3 574.57v4.2M325.8 600.57v4.2M293.56 597.93v4.2M172.78 566.52v4.2M331 600.57v4.2M180 569.13v4.2M234.47 588.27v4.2M303.12 598.5v4.2M284.56 596.83v4.2M277.61 595.74v4.2M292.36 597.93v4.2M260.43 591.06v4.2M230.05 587.38v4.2M192.4 574.16v4.2M146.31 552.81v4.2M302.46 598.5v4.2M307.91 599.37v4.2" stroke="#44bf3c" stroke-width="1.1" fill="none"/>
<path d="M45.9 401.7H46.12V401.72H46.57V401.84H47.02V401.99H47.24V402.07H47.46V402.16H47.69V402.25H47.91V402.34H48.36V402.53H48.58V402.63H48.8V402.73H49.25V402.93H49.48V403.03H49.92V403.23H50.2V403.36H50.48V403.49H50.98V403.73H51.26V403.86H51.77V404.1H52.27V404.33H52.55V404.47H52.83V404.6H53.11V404.73H53.61V404.97H53.89V405.1H54.17V405.24H54.45V405.37H54.73V405.5H55.01V405.63H55.28V405.77H55.56V405.9H55.84V406.03H56.12V406.16H56.4V406.3H56.68V406.43H56.96V406.56H57.24V406.69H57.74V406.93H58.02V407.06H58.3V407.19H58.58V407.32H59.08V407.56H59.64V407.81H59.92V407.94H60.2V408.07H60.76V408.33H61.32V408.58H61.88V408.84H62.16V408.96H62.71V409.22H62.99V409.34H63.27V409.47H63.55V409.59H64.11V409.84H64.67V410.08H64.95V410.2H65.28V410.35H65.62V410.49H65.95V410.63H66.57V410.89H66.9V411.03H67.24V411.17H67.57V411.31H68.19V411.57H68.52V411.7H68.86V411.84H69.19V411.98H69.53V412.11H70.14V412.36H70.48V412.5H70.81V412.63H71.15V412.76H71.48V412.9H71.82V413.03H72.49V413.3H73.16V413.57H73.49V413.7H73.83V413.83H74.17V413.97H74.5V414.1H75.17V414.37H75.84V414.63H76.18V414.77H76.85V415.04H77.18V415.17H77.52V415.31H78.19V415.58H78.52V415.72H78.86V415.86H79.19V416H79.53V416.14H80.14V416.4H80.48V416.54H81.09V416.8H81.71V417.06H82.32V417.32H82.94V417.59H83.55V417.85H83.88V417.99H84.22V418.14H84.56V418.28H84.89V418.42H85.5V418.69H85.84V418.83H86.18V418.98H86.51V419.12H86.85V419.27H87.18V419.41H87.52V419.56H87.85V419.7H88.19V419.85H88.52V419.99H88.86V420.14H89.19V420.28H89.53V420.43H89.86V420.58H90.2V420.72H90.81V421H91.43V421.27H92.04V421.54H92.65V421.81H92.99V421.96H93.6V422.24H93.94V422.39H94.27V422.54H94.61V422.7H94.95V422.85H95.56V423.13H95.89V423.28H96.23V423.44H96.57V423.59H96.9V423.75H97.24V423.91H97.57V424.06H97.91V424.22H98.24V424.38H98.58V424.54H99.13V424.81H99.41V424.94H99.69V425.08H99.97V425.22H100.25V425.35H100.53V425.49H100.81V425.63H101.09V425.77H101.37V425.91H101.93V426.2H102.21V426.34H102.49V426.48H102.77V426.63H103.32V426.92H103.6V427.06H103.88V427.21H104.16V427.36H104.72V427.65H105V427.8H105.56V428.1H105.84V428.24H106.12V428.39H106.4V428.54H106.95V428.84H107.51V429.14H107.79V429.29H108.07V429.44H108.35V429.59H108.63V429.74H108.91V429.89H109.19V430.04H109.47V430.19H109.75V430.34H110.03V430.49H110.59V430.79H111.14V431.09H111.42V431.24H111.98V431.53H112.26V431.68H112.82V431.98H113.38V432.27H113.66V432.41H113.94V432.56H114.22V432.7H114.78V432.99H115.05V433.13H115.61V433.41H116.17V433.69H116.45V433.83H116.79V434H117.4V434.3H118.02V434.59H118.63V434.89H118.96V435.04H119.3V435.2H119.64V435.35H119.97V435.5H120.31V435.65H120.64V435.8H120.98V435.95H121.31V436.1H121.65V436.24H121.98V436.38H122.32V436.53H122.65V436.67H123.38V436.97H124.1V437.27H124.5V437.43H124.89V437.59H125.28V437.75H126V438.04H126.73V438.33H127.12V438.48H127.51V438.63H127.9V438.79H128.63V439.07H129.35V439.36H129.75V439.51H130.47V439.8H130.86V439.95H131.25V440.11H131.98V440.39H132.37V440.55H133.1V440.84H133.49V441H133.88V441.16H134.61V441.46H135V441.62H135.72V441.93H136.11V442.09H136.84V442.39H137.23V442.55H137.62V442.72H138.01V442.88H138.74V443.18H139.13V443.34H139.86V443.64H140.58V443.93H140.97V444.09H141.36V444.26H141.76V444.42H142.15V444.58H142.54V444.74H143.26V445.04H143.99V445.34H144.72V445.64H145.11V445.8H145.5V445.96H146.22V446.27H146.62V446.43H147.01V446.6H147.4V446.76H147.79V446.93H148.18V447.09H148.91V447.4H149.3V447.57H150.02V447.89H150.41V448.06H150.81V448.23H151.53V448.55H152.2V448.85H152.54V449H152.87V449.15H153.21V449.3H153.54V449.46H154.21V449.77H154.55V449.92H154.88V450.08H155.55V450.39H155.89V450.55H156.22V450.71H156.56V450.87H156.89V451.04H157.56V451.36H157.9V451.53H158.51V451.83H158.85V452H159.46V452.32H160.08V452.65H160.41V452.83H160.69V452.98H160.97V453.13H161.25V453.28H161.53V453.44H161.81V453.6H162.09V453.76H162.65V454.08H162.93V454.24H163.21V454.4H163.49V454.57H163.76V454.73H164.04V454.9H164.6V455.24H165.11V455.54H165.61V455.85H165.89V456.02H166.17V456.2H166.45V456.37H166.95V456.69H167.23V456.86H167.51V457.04H167.79V457.22H168.07V457.39H168.35V457.57H168.62V457.75H168.9V457.93H169.18V458.11H169.46V458.29H169.97V458.61H170.24V458.79H170.52V458.97H170.8V459.15H171.31V459.48H171.58V459.66H171.86V459.84H172.14V460.02H172.42V460.2H172.93V460.53H173.43V460.85H173.71V461.03H173.99V461.21H174.27V461.39H174.55V461.57H174.82V461.75H175.1V461.93H175.38V462.11H175.66V462.29H175.94V462.46H176.22V462.64H176.5V462.81H176.78V462.99H177.06V463.16H177.34V463.34H177.9V463.68H178.18V463.85H178.74V464.19H179.01V464.36H179.29V464.53H179.85V464.86H180.13V465.03H180.69V465.35H180.97V465.51H181.53V465.83H182.14V466.18H182.76V466.51H183.09V466.7H183.43V466.87H183.76V467.05H184.43V467.4H184.77V467.57H185.44V467.9H185.77V468.06H186.44V468.38H186.83V468.56H187.23V468.74H187.95V469.07H188.68V469.39H189.46V469.73H190.24V470.07H191.02V470.4H191.42V470.56H191.86V470.74H192.31V470.93H192.76V471.11H193.59V471.44H194.04V471.62H194.49V471.79H194.93V471.97H195.83V472.31H196.72V472.65H197.17V472.82H197.62V472.99H198.51V473.32H198.96V473.49H199.4V473.66H199.85V473.82H200.3V473.99H200.74V474.16H201.19V474.32H201.64V474.49H202.08V474.66H202.53V474.82H202.98V474.99H203.43V475.16H203.87V475.32H204.32V475.49H205.21V475.83H205.66V476H206.11V476.17H206.55V476.35H207V476.52H207.45V476.69H207.89V476.87H208.34V477.05H208.79V477.23H209.23V477.41H209.68V477.59H210.52V477.93H210.97V478.12H211.41V478.31H211.86V478.5H212.31V478.69H212.75V478.89H213.14V479.06H213.93V479.41H214.71V479.77H215.1V479.95H215.49V480.14H215.88V480.32H216.27V480.51H216.66V480.7H217.39V481.06H217.78V481.25H218.51V481.62H219.23V481.99H219.62V482.19H220.02V482.39H220.74V482.76H221.13V482.96H221.86V483.34H222.59V483.72H222.98V483.93H223.7V484.31H224.43V484.69H225.15V485.07H225.55V485.27H225.94V485.47H226.33V485.67H226.72V485.88H227.11V486.08H227.84V486.45H228.23V486.65H228.62V486.84H229.4V487.23H229.79V487.43H230.18V487.62H230.57V487.81H231.36V488.18H231.75V488.37H232.58V488.75H233.42V489.13H233.87V489.33H234.32V489.53H235.21V489.91H236.1V490.29H236.55V490.48H237.5V490.87H238.45V491.26H238.95V491.47H239.9V491.85H240.4V492.05H241.41V492.45H242.42V492.84H242.92V493.03H243.92V493.42H244.43V493.61H244.93V493.8H245.49V494.02H246.05V494.23H247.11V494.63H248.17V495.02H248.73V495.23H249.29V495.44H249.84V495.65H250.4V495.85H250.96V496.06H251.52V496.27H252.58V496.66H253.14V496.87H253.7V497.08H254.26V497.29H254.82V497.5H255.37V497.7H255.93V497.91H256.99V498.32H257.55V498.53H258.11V498.74H258.67V498.95H259.23V499.17H259.79V499.39H260.35V499.6H260.91V499.82H261.97V500.24H263.03V500.67H264.09V501.1H264.65V501.33H265.21V501.55H266.21V501.97H267.22V502.38H267.78V502.61H268.33V502.84H268.89V503.07H269.45V503.3H270.51V503.74H271.07V503.97H272.13V504.41H272.69V504.63H273.75V505.06H274.87V505.51H275.99V505.95H276.55V506.17H277.1V506.38H277.72V506.62H278.33V506.85H278.95V507.08H279.56V507.31H280.18V507.53H280.79V507.75H281.46V507.99H282.13V508.22H282.8V508.45H283.47V508.67H284.87V509.13H285.6V509.36H286.32V509.59H287.05V509.82H287.77V510.04H288.56V510.28H289.34V510.52H290.12V510.75H290.9V510.98H292.47V511.43H294.09V511.89H294.92V512.13H296.6V512.59H297.44V512.82H299.11V513.29H300.01V513.53H301.74V514.01H303.47V514.48H304.36V514.73H305.26V514.98H306.15V515.23H307.05V515.48H307.94V515.73H308.83V515.98H309.73V516.24H310.62V516.49H311.51V516.74H313.3V517.24H314.2V517.48H315.98V517.98H317.83V518.49H319.67V519H320.62V519.26H322.52V519.78H323.47V520.04H324.42V520.3H325.37V520.56H326.37V520.84H327.38V521.11H328.38V521.38H330.34V521.91H332.35V522.45H334.36V522.99H336.43V523.54H338.49V524.09H339.16V524.07L339.16 538.89V538.87H338.49V538.27H336.43V537.67H334.36V537.08H332.35V536.48H330.34V535.9H328.38V535.61H327.38V535.31H326.37V535.01H325.37V534.73H324.42V534.44H323.47V534.16H322.52V533.59H320.62V533.3H319.67V532.75H317.83V532.19H315.98V531.65H314.2V531.38H313.3V530.84H311.51V530.57H310.62V530.29H309.73V530.02H308.83V529.75H307.94V529.48H307.05V529.2H306.15V528.93H305.26V528.66H304.36V528.39H303.47V527.87H301.74V527.36H300.01V527.09H299.11V526.59H297.44V526.34H296.6V525.83H294.92V525.58H294.09V525.08H292.47V524.59H290.9V524.34H290.12V524.09H289.34V523.84H288.56V523.59H287.77V523.34H287.05V523.1H286.32V522.86H285.6V522.61H284.87V522.12H283.47V521.88H282.8V521.64H282.13V521.39H281.46V521.14H280.79V520.9H280.18V520.67H279.56V520.42H278.95V520.18H278.33V519.94H277.72V519.69H277.1V519.46H276.55V519.23H275.99V518.76H274.87V518.29H273.75V517.84H272.69V517.6H272.13V517.14H271.07V516.9H270.51V516.44H269.45V516.19H268.89V515.95H268.33V515.71H267.78V515.46H267.22V515.03H266.21V514.59H265.21V514.35H264.65V514.11H264.09V513.66H263.03V513.21H261.97V512.76H260.91V512.53H260.35V512.3H259.79V512.07H259.23V511.84H258.67V511.61H258.11V511.39H257.55V511.16H256.99V510.74H255.93V510.51H255.37V510.29H254.82V510.07H254.26V509.85H253.7V509.63H253.14V509.4H252.58V508.98H251.52V508.76H250.96V508.54H250.4V508.32H249.84V508.1H249.29V507.88H248.73V507.66H248.17V507.24H247.11V506.81H246.05V506.59H245.49V506.36H244.93V506.16H244.43V505.95H243.92V505.54H242.92V505.34H242.42V504.92H241.41V504.5H240.4V504.29H239.9V503.88H238.95V503.66H238.45V503.25H237.5V502.83H236.55V502.63H236.1V502.23H235.21V501.82H234.32V501.61H233.87V501.41H233.42V501.01H232.58V500.6H231.75V500.4H231.36V500.01H230.57V499.8H230.18V499.6H229.79V499.4H229.4V498.99H228.62V498.78H228.23V498.57H227.84V498.18H227.11V497.97H226.72V497.76H226.33V497.54H225.94V497.33H225.55V497.11H225.15V496.71H224.43V496.31H223.7V495.91H222.98V495.7H222.59V495.3H221.86V494.9H221.13V494.68H220.74V494.29H220.02V494.08H219.62V493.86H219.23V493.47H218.51V493.09H217.78V492.88H217.39V492.5H216.66V492.3H216.27V492.1H215.88V491.9H215.49V491.71H215.1V491.51H214.71V491.13H213.93V490.76H213.14V490.57H212.75V490.37H212.31V490.16H211.86V489.96H211.41V489.76H210.97V489.56H210.52V489.19H209.68V488.99H209.23V488.8H208.79V488.61H208.34V488.42H207.89V488.23H207.45V488.04H207V487.86H206.55V487.67H206.11V487.49H205.66V487.3H205.21V486.94H204.32V486.76H203.87V486.58H203.43V486.4H202.98V486.22H202.53V486.04H202.08V485.86H201.64V485.68H201.19V485.51H200.74V485.33H200.3V485.15H199.85V484.97H199.4V484.79H198.96V484.61H198.51V484.25H197.62V484.07H197.17V483.89H196.72V483.52H195.83V483.15H194.93V482.96H194.49V482.77H194.04V482.58H193.59V482.23H192.76V482.03H192.31V481.84H191.86V481.64H191.42V481.46H191.02V481.11H190.24V480.75H189.46V480.39H188.68V480.04H187.95V479.69H187.23V479.49H186.83V479.3H186.44V478.96H185.77V478.79H185.44V478.44H184.77V478.26H184.43V477.89H183.76V477.71H183.43V477.52H183.09V477.33H182.76V476.97H182.14V476.61H181.53V476.27H180.97V476.1H180.69V475.75H180.13V475.58H179.85V475.23H179.29V475.05H179.01V474.87H178.74V474.51H178.18V474.33H177.9V473.97H177.34V473.78H177.06V473.6H176.78V473.41H176.5V473.23H176.22V473.04H175.94V472.85H175.66V472.66H175.38V472.48H175.1V472.29H174.82V472.1H174.55V471.91H174.27V471.72H173.99V471.53H173.71V471.33H173.43V470.99H172.93V470.65H172.42V470.45H172.14V470.26H171.86V470.07H171.58V469.88H171.31V469.53H170.8V469.34H170.52V469.15H170.24V468.95H169.97V468.61H169.46V468.42H169.18V468.23H168.9V468.04H168.62V467.85H168.35V467.66H168.07V467.47H167.79V467.28H167.51V467.09H167.23V466.9H166.95V466.57H166.45V466.38H166.17V466.2H165.89V466.01H165.61V465.68H165.11V465.36H164.6V465H164.04V464.82H163.76V464.64H163.49V464.46H163.21V464.29H162.93V464.12H162.65V463.77H162.09V463.6H161.81V463.43H161.53V463.27H161.25V463.1H160.97V462.94H160.69V462.77H160.41V462.58H160.08V462.23H159.46V461.89H158.85V461.71H158.51V461.38H157.9V461.2H157.56V460.85H156.89V460.67H156.56V460.5H156.22V460.33H155.89V460.15H155.55V459.81H154.88V459.64H154.55V459.48H154.21V459.14H153.54V458.98H153.21V458.81H152.87V458.65H152.54V458.49H152.2V458.16H151.53V457.81H150.81V457.63H150.41V457.44H150.02V457.1H149.3V456.92H148.91V456.58H148.18V456.4H147.79V456.22H147.4V456.04H147.01V455.86H146.62V455.68H146.22V455.35H145.5V455.17H145.11V455H144.72V454.67H143.99V454.34H143.26V454.02H142.54V453.84H142.15V453.66H141.76V453.49H141.36V453.31H140.97V453.14H140.58V452.81H139.86V452.49H139.13V452.31H138.74V451.98H138.01V451.81H137.62V451.63H137.23V451.45H136.84V451.12H136.11V450.95H135.72V450.61H135V450.43H134.61V450.11H133.88V449.93H133.49V449.76H133.1V449.44H132.37V449.26H131.98V448.95H131.25V448.78H130.86V448.61H130.47V448.29H129.75V448.12H129.35V447.81H128.63V447.5H127.9V447.33H127.51V447.16H127.12V446.99H126.73V446.67H126V446.35H125.28V446.18H124.89V446H124.5V445.83H124.1V445.5H123.38V445.16H122.65V445.01H122.32V444.85H121.98V444.69H121.65V444.53H121.31V444.37H120.98V444.2H120.64V444.04H120.31V443.87H119.97V443.71H119.64V443.54H119.3V443.36H118.96V443.19H118.63V442.87H118.02V442.54H117.4V442.21H116.79V442.03H116.45V441.87H116.17V441.56H115.61V441.25H115.05V441.09H114.78V440.77H114.22V440.61H113.94V440.45H113.66V440.29H113.38V439.96H112.82V439.64H112.26V439.47H111.98V439.14H111.42V438.98H111.14V438.65H110.59V438.31H110.03V438.15H109.75V437.98H109.47V437.81H109.19V437.64H108.91V437.48H108.63V437.31H108.35V437.14H108.07V436.97H107.79V436.81H107.51V436.47H106.95V436.14H106.4V435.97H106.12V435.8H105.84V435.63H105.56V435.3H105V435.14H104.72V434.8H104.16V434.64H103.88V434.47H103.6V434.31H103.32V433.98H102.77V433.82H102.49V433.66H102.21V433.5H101.93V433.18H101.37V433.02H101.09V432.86H100.81V432.7H100.53V432.55H100.25V432.39H99.97V432.24H99.69V432.08H99.41V431.93H99.13V431.62H98.58V431.44H98.24V431.26H97.91V431.08H97.57V430.91H97.24V430.73H96.9V430.55H96.57V430.37H96.23V430.2H95.89V430.02H95.56V429.7H94.95V429.53H94.61V429.35H94.27V429.18H93.94V429.01H93.6V428.69H92.99V428.52H92.65V428.2H92.04V427.89H91.43V427.58H90.81V427.27H90.2V427.1H89.86V426.93H89.53V426.76H89.19V426.59H88.86V426.42H88.52V426.25H88.19V426.09H87.85V425.92H87.52V425.75H87.18V425.58H86.85V425.41H86.51V425.25H86.18V425.08H85.84V424.91H85.5V424.61H84.89V424.44H84.56V424.27H84.22V424.1H83.88V423.94H83.55V423.63H82.94V423.32H82.32V423.02H81.71V422.71H81.09V422.4H80.48V422.24H80.14V421.93H79.53V421.77H79.19V421.6H78.86V421.44H78.52V421.28H78.19V420.96H77.52V420.79H77.18V420.63H76.85V420.31H76.18V420.15H75.84V419.84H75.17V419.52H74.5V419.36H74.17V419.2H73.83V419.04H73.49V418.88H73.16V418.56H72.49V418.24H71.82V418.08H71.48V417.92H71.15V417.76H70.81V417.59H70.48V417.43H70.14V417.13H69.53V416.97H69.19V416.8H68.86V416.64H68.52V416.47H68.19V416.16H67.57V415.99H67.24V415.82H66.9V415.65H66.57V415.33H65.95V415.15H65.62V414.98H65.28V414.8H64.95V414.65H64.67V414.35H64.11V414.04H63.55V413.88H63.27V413.73H62.99V413.57H62.71V413.26H62.16V413.1H61.88V412.78H61.32V412.46H60.76V412.13H60.2V411.97H59.92V411.8H59.64V411.47H59.08V411.17H58.58V411H58.3V410.83H58.02V410.66H57.74V410.35H57.24V410.18H56.96V410.01H56.68V409.83H56.4V409.66H56.12V409.48H55.84V409.3H55.56V409.13H55.28V408.95H55.01V408.77H54.73V408.59H54.45V408.41H54.17V408.22H53.89V408.04H53.61V407.71H53.11V407.52H52.83V407.33H52.55V407.15H52.27V406.8H51.77V406.46H51.26V406.26H50.98V405.91H50.48V405.71H50.2V405.51H49.92V405.19H49.48V405.03H49.25V404.7H48.8V404.53H48.58V404.36H48.36V404.02H47.91V403.85H47.69V403.67H47.46V403.49H47.24V403.31H47.02V402.94H46.57V402.63H46.12V401.7H45.9Z" fill="#0a4b94" fill-opacity="0.3"/>
<path d="M45.9 401.7H49.08V402.17H51.93V403.11H53.27V403.65H54.56V404.23H57.02V405.48H59.25V406.79H60.31V407.47H61.37V408.18H62.43V408.91H63.44V409.61H64.45V410.35H65.4V411.08H66.34V411.84H67.29V412.61H69.14V414.14H71.04V415.7H72.99V417.24H73.94V418.04H74.84V418.84H75.67V419.67H76.46V420.51H77.18V421.33H77.91V422.18H78.63V423.05H79.3V423.87H80.64V425.54H81.32V426.38H81.99V427.25H82.66V428.14H83.33V429.05H84V429.96H84.67V430.87H85.34V431.78H86.68V433.51H87.4V434.4H88.13V435.27H89.64V437.02H91.2V438.81H92.71V440.6H94.11V442.37H95.5V444.17H97.01V446.01H97.85V446.94H99.75V448.74H101.76V450.59H102.65V451.54H104.11V453.44H105.34V455.32H105.95V456.29H106.56V457.24H107.23V458.22H108.8V460.1H109.69V461.08H111.14V463.04H111.7V464.04H112.37V466.03H112.88V468.07H113.16V469.27H113.43V470.43H113.99V472.39H115.05V474.34H115.78V475.33H116.67V476.35H117.74V477.36H118.91V478.33H120.14V479.34H122.88V481.29H124.44V482.28H127.34V484.28H128.63V485.3H131.03V487.32H133.43V489.35H134.72V490.38H136.17V491.4H137.4V492.44H138.29V493.47H139.07V494.51H139.8V495.59H140.47V496.64H141.76V498.76H142.43V499.89H143.1V501H144.44V503.12H146.06V505.29H148.24V507.4H149.52V508.49H152.37V510.65H153.99V511.76H155.66V512.84H157.4V513.91H159.18V515.01H162.7V517.2H164.6V518.31H166.56V519.42H170.58V521.64H172.59V522.76H174.6V523.91H178.29V526.18H180.08V527.32H183.93V529.62H186.28V530.78H189.07V531.93H192.42V533.08H196.39V534.22H200.8V535.37H208.96V537.72H212.2V538.95H217.28V541.45H219.35V542.75H220.63V544.06H222.47V546.69H223.37V548.08H224.26V549.42H225.32V550.81H226.77V552.15H228.67V553.51H233.48V556.21H236.55V557.58H240.07V558.96H243.92V560.34H248.28V561.74H258.11V564.28H266.27V565.67H270.29V567.22H272.97V568.81H275.43V570.42H281.24V573.68H291.01V575.81H300.79V577.01H310.56V577.04H320.34V576.8H330.12V576.54H339.16V576.29L339.16 599.09V598.95H330.12V598.81H320.34V598.68H310.56V598.39H300.79V597.35H291.01V595.68H281.24V593.3H275.43V592.1H272.97V590.89H270.29V589.65H266.27V588.39H258.11V586.2H248.28V585.01H243.92V583.83H240.07V582.65H236.55V581.5H233.48V579.2H228.67V578.06H226.77V576.93H225.32V575.76H224.26V574.64H223.37V573.47H222.47V571.22H220.63V570.07H219.35V568.91H217.28V566.61H212.2V565.45H208.96V563.15H200.8V562.01H196.39V560.88H192.42V559.75H189.07V558.65H186.28V557.56H183.93V555.41H180.08V554.34H178.29V552.2H174.6V551.11H172.59V550.04H170.58V547.9H166.56V546.83H164.6V545.75H162.7V543.63H159.18V542.56H157.4V541.5H155.66V540.45H153.99V539.36H152.37V537.25H149.52V536.17H148.24V534.1H146.06V531.96H144.44V529.88H143.1V528.78H142.43V527.66H141.76V525.54H140.47V524.49H139.8V523.41H139.07V522.35H138.29V521.31H137.4V520.24H136.17V519.18H134.72V518.12H133.43V516.02H131.03V513.91H128.63V512.85H127.34V510.74H124.44V509.69H122.88V507.61H120.14V506.54H118.91V505.5H117.74V504.43H116.67V503.34H115.78V502.29H115.05V500.22H113.99V498.13H113.43V496.89H113.16V495.62H112.88V493.42H112.37V491.26H111.7V490.16H111.14V488H109.69V486.92H108.8V484.82H107.23V483.72H106.56V482.66H105.95V481.57H105.34V479.45H104.11V477.28H102.65V476.19H101.76V474.06H99.75V471.96H97.85V470.88H97.01V468.72H95.5V466.6H94.11V464.51H92.71V462.37H91.2V460.19H89.64V458.06H88.13V457H87.4V455.91H86.68V453.76H85.34V452.64H84.67V451.5H84V450.34H83.33V449.19H82.66V448.06H81.99V446.95H81.32V445.86H80.64V443.69H79.3V442.61H78.63V441.45H77.91V440.32H77.18V439.22H76.46V438.09H75.67V436.95H74.84V435.84H73.94V434.73H72.99V432.54H71.04V430.3H69.14V428.04H67.29V426.87H66.34V425.71H65.4V424.58H64.45V423.41H63.44V422.27H62.43V421.07H61.37V419.88H60.31V418.71H59.25V416.32H57.02V413.87H54.56V412.65H53.27V411.4H51.93V408.94H49.08V401.7H45.9Z" fill="#cc1f2a" fill-opacity="0.35"/>
<path d="M45.9 401.7H46.07V401.75H46.24V401.87H46.4V402.02H46.57V402.19H46.74V402.38H46.91V402.58H47.07V402.8H47.35V403.17H47.52V403.4H47.69V403.64H47.97V404.04H48.13V404.3H48.41V404.73H48.58V404.99H48.75V405.26H48.92V405.53H49.08V405.8H49.36V406.27H49.53V406.55H49.81V407.04H49.98V407.33H50.15V407.62H50.42V408.12H50.59V408.43H50.76V408.73H50.93V409.04H51.21V409.56H51.37V409.88H51.65V410.41H51.93V410.95H52.21V411.5H52.49V412.06H52.66V412.41H52.94V412.99H53.11V413.34H53.33V413.81H53.55V414.29H53.66V414.54H53.78V414.78H53.89V415.02H54.11V415.52H54.22V415.77H54.33V416.01H54.45V416.26H54.56V416.52H54.67V416.77H54.78V417.02H54.89V417.28H55.01V417.53H55.23V418.04H55.34V418.3H55.56V418.81H55.79V419.33H56.01V419.85H56.12V420.11H56.23V420.37H56.46V420.89H56.68V421.41H56.9V421.93H57.02V422.19H57.24V422.71H57.35V422.98H57.57V423.5H57.69V423.76H57.8V424.02H57.91V424.29H58.13V424.83H58.36V425.38H58.47V425.65H58.69V426.21H58.8V426.49H58.92V426.77H59.03V427.05H59.25V427.61H59.47V428.17H59.59V428.46H59.7V428.74H59.81V429.02H60.03V429.58H60.14V429.86H60.37V430.41H60.59V430.97H60.7V431.24H60.93V431.78H61.04V432.05H61.15V432.31H61.26V432.58H61.37V432.84H61.48V433.1H61.6V433.35H61.76V433.73H61.93V434.1H62.1V434.47H62.38V435.06H62.55V435.41H62.83V435.99H63.1V436.56H63.27V436.9H63.44V437.24H63.61V437.57H63.78V437.9H63.94V438.23H64.11V438.56H64.28V438.88H64.56V439.41H64.72V439.73H64.89V440.04H65.23V440.66H65.4V440.96H65.56V441.26H65.9V441.85H66.07V442.14H66.23V442.43H66.4V442.72H66.57V443H66.74V443.28H66.9V443.56H67.07V443.83H67.24V444.11H67.41V444.37H67.57V444.64H67.8V444.98H68.02V445.32H68.24V445.66H68.64V446.23H69.03V446.79H69.25V447.11H69.47V447.42H69.7V447.73H70.09V448.27H70.31V448.57H70.53V448.88H70.76V449.18H70.98V449.48H71.2V449.78H71.43V450.08H71.65V450.38H71.87V450.68H72.1V450.99H72.32V451.29H72.71V451.83H72.94V452.14H73.16V452.46H73.55V453.01H73.77V453.34H74V453.67H74.39V454.24H74.61V454.57H74.84V454.89H75.06V455.2H75.28V455.52H75.51V455.84H75.73V456.15H75.95V456.47H76.34V457.02H76.57V457.34H76.96V457.91H77.18V458.24H77.41V458.57H77.63V458.9H78.02V459.51H78.24V459.86H78.47V460.22H78.63V460.49H78.8V460.77H78.97V461.06H79.3V461.64H79.64V462.24H79.81V462.55H79.97V462.87H80.31V463.54H80.48V463.89H80.76V464.52H80.92V464.92H81.09V465.33H81.2V465.61H81.43V466.18H81.54V466.48H81.65V466.78H81.76V467.08H81.87V467.38H81.99V467.69H82.21V468.31H82.32V468.62H82.43V468.94H82.66V469.57H82.88V470.21H83.1V470.84H83.21V471.16H83.44V471.79H83.66V472.41H83.77V472.72H84V473.32H84.22V473.91H84.33V474.2H84.44V474.49H84.61V474.9H84.78V475.31H84.95V475.7H85.11V476.08H85.28V476.44H85.45V476.78H85.78V477.45H85.95V477.77H86.29V478.4H86.45V478.71H86.79V479.31H87.12V479.89H87.52V480.55H87.74V480.92H87.96V481.28H88.35V481.91H88.58V482.27H88.8V482.62H89.02V482.98H89.25V483.33H89.47V483.68H89.86V484.31H90.09V484.67H90.31V485.03H90.53V485.4H90.92V486.04H91.15V486.41H91.54V487.06H91.76V487.43H91.98V487.8H92.21V488.17H92.6V488.81H92.82V489.17H93.21V489.8H93.6V490.42H94V491.02H94.39V491.6H94.61V491.93H94.83V492.25H95.28V492.86H95.5V493.16H95.78V493.52H96.06V493.86H96.34V494.19H96.62V494.51H96.9V494.8H97.57V495.42H97.96V495.74H98.35V496.03H98.8V496.35H99.25V496.67H99.69V497H100.42V497.59H101.03V498.19H101.31V498.51H101.59V498.86H101.82V499.17H102.04V499.51H102.26V499.86H102.49V500.24H102.71V500.63H102.88V500.94H103.04V501.26H103.21V501.58H103.38V501.91H103.55V502.25H103.88V502.95H104.05V503.3H104.22V503.66H104.39V504.03H104.55V504.39H104.72V504.76H105V505.38H105.17V505.75H105.45V506.36H105.61V506.73H105.78V507.09H105.95V507.46H106.12V507.81H106.45V508.52H106.62V508.86H106.79V509.2H106.95V509.53H107.12V509.85H107.29V510.17H107.46V510.47H107.68V510.86H107.9V511.23H108.13V511.58H108.57V512.24H109.02V512.87H109.3V513.25H109.8V513.91H110.31V514.54H110.59V514.88H110.87V515.22H111.14V515.55H111.7V516.21H111.98V516.53H112.54V517.18H113.1V517.83H113.38V518.16H113.94V518.83H114.22V519.18H114.5V519.52H114.78V519.87H115.05V520.23H115.33V520.59H115.84V521.24H116.12V521.6H116.4V521.97H116.67V522.34H117.18V523H117.46V523.37H117.74V523.75H118.24V524.41H118.52V524.79H119.02V525.45H119.3V525.82H119.8V526.47H120.31V527.12H120.58V527.48H121.14V528.18H121.42V528.52H121.98V529.19H122.26V529.52H122.88V530.22H123.21V530.59H123.82V531.25H124.5V531.92H124.89V532.28H125.28V532.63H125.67V532.97H126.51V533.62H126.95V533.95H127.46V534.31H127.96V534.64H128.52V535H129.63V535.67H130.25V536.03H130.86V536.37H131.48V536.7H132.09V537.03H132.71V537.35H133.32V537.68H133.94V538.02H135.11V538.68H135.67V539.01H136.73V539.68H137.23V540.02H137.73V540.37H138.63V541.05H139.07V541.4H139.52V541.77H139.97V542.15H140.42V542.53H141.2V543.22H141.59V543.57H141.98V543.93H142.76V544.64H143.54V545.36H143.93V545.72H144.33V546.07H145.11V546.77H145.55V547.16H146V547.54H146.45V547.92H146.89V548.28H147.34V548.64H147.84V549.02H148.35V549.38H149.41V550.09H149.97V550.44H151.14V551.17H151.75V551.55H152.98V552.28H153.6V552.63H154.27V553.02H154.94V553.39H155.61V553.76H156.28V554.13H156.95V554.48H157.68V554.86H158.4V555.24H159.13V555.61H160.58V556.33H161.36V556.71H162.93V557.45H163.71V557.82H164.55V558.2H165.38V558.58H167.06V559.33H168.74V560.07H169.63V560.46H170.52V560.84H172.37V561.6H174.38V562.37H175.44V562.75H177.56V563.51H179.74V564.28H180.86V564.68H181.92V565.07H182.98V565.47H184.99V566.26H185.94V566.66H187.73V567.47H189.35V568.27H190.13V568.67H190.91V569.08H191.69V569.5H192.48V569.92H193.98V570.77H195.44V571.59H196.89V572.43H197.62V572.85H199.07V573.68H199.85V574.13H200.63V574.57H202.2V575.45H202.98V575.87H203.82V576.32H205.49V577.18H206.39V577.62H207.34V578.06H208.34V578.51H209.4V578.96H210.58V579.41H211.86V579.86H213.31V580.3H214.99V580.74H216.78V581.18H218.73V581.64H222.98V582.52H225.38V582.98H228V583.43H230.85V583.9H233.92V584.36H237.16V584.82H240.57V585.29H249.23V586.21H258.84V587.16H262.41V587.69H266.71V588.79H268.39V589.37H271.46V590.53H274.48V591.7H276.1V592.3H277.89V592.91H280.01V593.52H288.22V594.7H293.81V595.3H303.58V596.21H313.36V596.9H323.13V597.35H332.91V597.51H339.16V597.38L339.16 606.57V606.51H332.91V606.23H323.13V605.79H313.36V605.2H303.58V604.46H293.81V603.97H288.22V603.04H280.01V602.59H277.89V602.14H276.1V601.7H274.48V600.81H271.46V599.92H268.39V599.47H266.71V598.57H262.41V598.11H258.84V597.21H249.23V596.34H240.57V595.91H237.16V595.5H233.92V595.08H230.85V594.66H228V594.25H225.38V593.85H222.98V593.06H218.73V592.67H216.78V592.28H214.99V591.89H213.31V591.51H211.86V591.12H210.58V590.73H209.4V590.35H208.34V589.96H207.34V589.58H206.39V589.2H205.49V588.45H203.82V588.07H202.98V587.7H202.2V586.94H200.63V586.56H199.85V586.16H199.07V585.43H197.62V585.06H196.89V584.33H195.44V583.6H193.98V582.85H192.48V582.47H191.69V582.09H190.91V581.72H190.13V581.36H189.35V580.65H187.73V579.91H185.94V579.54H184.99V578.81H182.98V578.44H181.92V578.09H180.86V577.71H179.74V577H177.56V576.29H175.44V575.93H174.38V575.22H172.37V574.52H170.52V574.16H169.63V573.8H168.74V573.11H167.06V572.41H165.38V572.05H164.55V571.69H163.71V571.35H162.93V570.66H161.36V570.3H160.58V569.62H159.13V569.28H158.4V568.93H157.68V568.57H156.95V568.23H156.28V567.89H155.61V567.54H154.94V567.19H154.27V566.83H153.6V566.49H152.98V565.81H151.75V565.46H151.14V564.77H149.97V564.43H149.41V563.76H148.35V563.42H147.84V563.06H147.34V562.73H146.89V562.39H146.45V562.04H146V561.67H145.55V561.31H145.11V560.65H144.33V560.31H143.93V559.98H143.54V559.3H142.76V558.62H141.98V558.29H141.59V557.95H141.2V557.3H140.42V556.93H139.97V556.57H139.52V556.22H139.07V555.88H138.63V555.23H137.73V554.89H137.23V554.57H136.73V553.92H135.67V553.6H135.11V552.96H133.94V552.63H133.32V552.31H132.71V551.99H132.09V551.67H131.48V551.35H130.86V551.01H130.25V550.67H129.63V550.02H128.52V549.67H127.96V549.34H127.46V549H126.95V548.68H126.51V548.04H125.67V547.71H125.28V547.38H124.89V547.02H124.5V546.37H123.82V545.74H123.21V545.38H122.88V544.7H122.26V544.38H121.98V543.73H121.42V543.39H121.14V542.71H120.58V542.37H120.31V541.74H119.8V541.1H119.3V540.74H119.02V540.1H118.52V539.73H118.24V539.08H117.74V538.72H117.46V538.36H117.18V537.7H116.67V537.34H116.4V536.98H116.12V536.63H115.84V535.99H115.33V535.64H115.05V535.29H114.78V534.94H114.5V534.6H114.22V534.26H113.94V533.6H113.38V533.28H113.1V532.63H112.54V531.99H111.98V531.67H111.7V531.02H111.14V530.69H110.87V530.36H110.59V530.02H110.31V529.39H109.8V528.73H109.3V528.36H109.02V527.74H108.57V527.08H108.13V526.73H107.9V526.37H107.68V525.98H107.46V525.67H107.29V525.36H107.12V525.04H106.95V524.71H106.79V524.38H106.62V524.04H106.45V523.34H106.12V522.98H105.95V522.62H105.78V522.26H105.61V521.89H105.45V521.28H105.17V520.91H105V520.29H104.72V519.93H104.55V519.56H104.39V519.2H104.22V518.84H104.05V518.48H103.88V517.78H103.55V517.44H103.38V517.11H103.21V516.78H103.04V516.47H102.88V516.16H102.71V515.76H102.49V515.38H102.26V515.02H102.04V514.68H101.82V514.37H101.59V514.01H101.31V513.69H101.03V513.08H100.42V512.47H99.69V512.13H99.25V511.8H98.8V511.47H98.35V511.17H97.96V510.84H97.57V510.21H96.9V509.91H96.62V509.59H96.34V509.25H96.06V508.9H95.78V508.53H95.5V508.23H95.28V507.6H94.83V507.28H94.61V506.94H94.39V506.34H94V505.73H93.6V505.1H93.21V504.46H92.82V504.09H92.6V503.43H92.21V503.05H91.98V502.67H91.76V502.29H91.54V501.63H91.15V501.25H90.92V500.58H90.53V500.21H90.31V499.83H90.09V499.46H89.86V498.81H89.47V498.45H89.25V498.08H89.02V497.72H88.8V497.35H88.58V496.98H88.35V496.33H87.96V495.95H87.74V495.57H87.52V494.88H87.12V494.28H86.79V493.66H86.45V493.34H86.29V492.69H85.95V492.35H85.78V491.66H85.45V491.3H85.28V490.92H85.11V490.53H84.95V490.12H84.78V489.7H84.61V489.27H84.44V488.97H84.33V488.67H84.22V488.05H84V487.42H83.77V487.1H83.66V486.45H83.44V485.79H83.21V485.46H83.1V484.79H82.88V484.13H82.66V483.46H82.43V483.13H82.32V482.8H82.21V482.15H81.99V481.82H81.87V481.5H81.76V481.19H81.65V480.87H81.54V480.56H81.43V479.96H81.2V479.66H81.09V479.23H80.92V478.81H80.76V478.14H80.48V477.76H80.31V477.05H79.97V476.72H79.81V476.38H79.64V475.74H79.3V475.12H78.97V474.81H78.8V474.52H78.63V474.22H78.47V473.84H78.24V473.46H78.02V472.81H77.63V472.45H77.41V472.1H77.18V471.74H76.96V471.14H76.57V470.79H76.34V470.19H75.95V469.85H75.73V469.51H75.51V469.17H75.28V468.83H75.06V468.48H74.84V468.14H74.61V467.79H74.39V467.17H74V466.81H73.77V466.46H73.55V465.85H73.16V465.51H72.94V465.17H72.71V464.58H72.32V464.25H72.1V463.92H71.87V463.59H71.65V463.26H71.43V462.93H71.2V462.61H70.98V462.28H70.76V461.95H70.53V461.61H70.31V461.28H70.09V460.69H69.7V460.35H69.47V460.01H69.25V459.66H69.03V459.05H68.64V458.41H68.24V458.04H68.02V457.67H67.8V457.29H67.57V457H67.41V456.7H67.24V456.4H67.07V456.1H66.9V455.8H66.74V455.49H66.57V455.17H66.4V454.85H66.23V454.53H66.07V454.21H65.9V453.55H65.56V453.22H65.4V452.88H65.23V452.2H64.89V451.85H64.72V451.5H64.56V450.9H64.28V450.54H64.11V450.18H63.94V449.81H63.78V449.44H63.61V449.07H63.44V448.69H63.27V448.31H63.1V447.67H62.83V447.01H62.55V446.62H62.38V445.95H62.1V445.54H61.93V445.12H61.76V444.69H61.6V444.4H61.48V444.11H61.37V443.81H61.26V443.51H61.15V443.21H61.04V442.9H60.93V442.29H60.7V441.97H60.59V441.34H60.37V440.71H60.14V440.39H60.03V439.74H59.81V439.42H59.7V439.1H59.59V438.77H59.47V438.12H59.25V437.47H59.03V437.15H58.92V436.82H58.8V436.5H58.69V435.85H58.47V435.53H58.36V434.89H58.13V434.26H57.91V433.95H57.8V433.64H57.69V433.33H57.57V432.71H57.35V432.41H57.24V431.79H57.02V431.48H56.9V430.86H56.68V430.24H56.46V429.62H56.23V429.31H56.12V428.99H56.01V428.37H55.79V427.75H55.56V427.12H55.34V426.81H55.23V426.19H55.01V425.88H54.89V425.57H54.78V425.26H54.67V424.95H54.56V424.64H54.45V424.33H54.33V424.02H54.22V423.72H54.11V423.11H53.89V422.8H53.78V422.5H53.66V422.19H53.55V421.59H53.33V420.99H53.11V420.54H52.94V419.81H52.66V419.37H52.49V418.64H52.21V417.93H51.93V417.22H51.65V416.52H51.37V416.1H51.21V415.4H50.93V414.99H50.76V414.57H50.59V414.16H50.42V413.47H50.15V413.06H49.98V412.64H49.81V411.96H49.53V411.55H49.36V410.87H49.08V410.46H48.92V410.06H48.75V409.65H48.58V409.24H48.41V408.57H48.13V408.16H47.97V407.48H47.69V407.08H47.52V406.67H47.35V405.98H47.07V405.57H46.91V405.15H46.74V404.74H46.57V404.32H46.4V403.91H46.24V403.59H46.07V401.7H45.9Z" fill="#4bc641" fill-opacity="0.3"/>
<path d="M45.9 506H260.4" stroke="#2a2a2a" stroke-width="0.95" stroke-dasharray="3 2" fill="none"/>
<path d="M101.2 506V610.3" stroke="#2a2a2a" stroke-width="0.95" stroke-dasharray="3 2" fill="none"/>
<path d="M136.95 506V610.3" stroke="#2a2a2a" stroke-width="0.95" stroke-dasharray="3 2" fill="none"/>
<path d="M260.4 506V610.3" stroke="#2a2a2a" stroke-width="0.95" stroke-dasharray="3 2" fill="none"/>
<line x1="32.5" y1="391.5" x2="32.5" y2="621" stroke="#3a3a3a" stroke-width="1" />
<line x1="32" y1="620.5" x2="340" y2="620.5" stroke="#3a3a3a" stroke-width="1" />
<line x1="30.3" y1="610.3" x2="32.5" y2="610.3" stroke="#3a3a3a" stroke-width="0.8" />
<text x="28.9" y="613" font-size="6.9" text-anchor="end" fill="#333" stroke="#333" stroke-width="0.22" >0.00</text>
<line x1="30.3" y1="558.15" x2="32.5" y2="558.15" stroke="#3a3a3a" stroke-width="0.8" />
<text x="28.9" y="560.85" font-size="6.9" text-anchor="end" fill="#333" stroke="#333" stroke-width="0.22" >0.25</text>
<line x1="30.3" y1="506" x2="32.5" y2="506" stroke="#3a3a3a" stroke-width="0.8" />
<text x="28.9" y="508.7" font-size="6.9" text-anchor="end" fill="#333" stroke="#333" stroke-width="0.22" >0.50</text>
<line x1="30.3" y1="453.85" x2="32.5" y2="453.85" stroke="#3a3a3a" stroke-width="0.8" />
<text x="28.9" y="456.55" font-size="6.9" text-anchor="end" fill="#333" stroke="#333" stroke-width="0.22" >0.75</text>
<line x1="30.3" y1="401.7" x2="32.5" y2="401.7" stroke="#3a3a3a" stroke-width="0.8" />
<text x="28.9" y="404.4" font-size="6.9" text-anchor="end" fill="#333" stroke="#333" stroke-width="0.22" >1.00</text>
<line x1="45.9" y1="620.5" x2="45.9" y2="622.7" stroke="#3a3a3a" stroke-width="0.8" />
<text x="45.9" y="629.1" font-size="7.2" text-anchor="middle" fill="#333" stroke="#333" stroke-width="0.22" >0</text>
<line x1="73.83" y1="620.5" x2="73.83" y2="622.7" stroke="#3a3a3a" stroke-width="0.8" />
<text x="73.83" y="629.1" font-size="7.2" text-anchor="middle" fill="#333" stroke="#333" stroke-width="0.22" >1</text>
<line x1="101.76" y1="620.5" x2="101.76" y2="622.7" stroke="#3a3a3a" stroke-width="0.8" />
<text x="101.76" y="629.1" font-size="7.2" text-anchor="middle" fill="#333" stroke="#333" stroke-width="0.22" >2</text>
<line x1="129.69" y1="620.5" x2="129.69" y2="622.7" stroke="#3a3a3a" stroke-width="0.8" />
<text x="129.69" y="629.1" font-size="7.2" text-anchor="middle" fill="#333" stroke="#333" stroke-width="0.22" >3</text>
<line x1="157.62" y1="620.5" x2="157.62" y2="622.7" stroke="#3a3a3a" stroke-width="0.8" />
<text x="157.62" y="629.1" font-size="7.2" text-anchor="middle" fill="#333" stroke="#333" stroke-width="0.22" >4</text>
<line x1="185.55" y1="620.5" x2="185.55" y2="622.7" stroke="#3a3a3a" stroke-width="0.8" />
<text x="185.55" y="629.1" font-size="7.2" text-anchor="middle" fill="#333" stroke="#333" stroke-width="0.22" >5</text>
<line x1="213.48" y1="620.5" x2="213.48" y2="622.7" stroke="#3a3a3a" stroke-width="0.8" />
<text x="213.48" y="629.1" font-size="7.2" text-anchor="middle" fill="#333" stroke="#333" stroke-width="0.22" >6</text>
<line x1="241.41" y1="620.5" x2="241.41" y2="622.7" stroke="#3a3a3a" stroke-width="0.8" />
<text x="241.41" y="629.1" font-size="7.2" text-anchor="middle" fill="#333" stroke="#333" stroke-width="0.22" >7</text>
<line x1="269.34" y1="620.5" x2="269.34" y2="622.7" stroke="#3a3a3a" stroke-width="0.8" />
<text x="269.34" y="629.1" font-size="7.2" text-anchor="middle" fill="#333" stroke="#333" stroke-width="0.22" >8</text>
<line x1="297.27" y1="620.5" x2="297.27" y2="622.7" stroke="#3a3a3a" stroke-width="0.8" />
<text x="297.27" y="629.1" font-size="7.2" text-anchor="middle" fill="#333" stroke="#333" stroke-width="0.22" >9</text>
<line x1="325.2" y1="620.5" x2="325.2" y2="622.7" stroke="#3a3a3a" stroke-width="0.8" />
<text x="325.2" y="629.1" font-size="7.2" text-anchor="middle" fill="#333" stroke="#333" stroke-width="0.22" >10</text>
<text x="186.25" y="637.5" font-size="8.3" text-anchor="middle" fill="#1a1a1a" stroke="#1a1a1a" stroke-width="0.22" >Time (years)</text>
<text x="0" y="0" font-size="8.3" text-anchor="middle" fill="#1a1a1a" stroke="#1a1a1a" stroke-width="0.22" transform="translate(11.5 506) rotate(-90)">Overall Survival</text>
<text x="157.5" y="446.9" font-size="8.1" text-anchor="start" fill="#1a1a1a" stroke="#1a1a1a" stroke-width="0.22" >p &lt; 0.0001</text>
<text x="249.8" y="423" font-size="5.95" text-anchor="start" fill="#1a1a1a" stroke="#1a1a1a" stroke-width="0.22" >cooking ability of ADL</text>
<rect x="250.1" y="426.9" width="9.3" height="9" fill="#0a4b94" fill-opacity="0.3"/>
<path d="M250.1 431.4h9.3M254.75 428.9v5" stroke="#1f4a94" stroke-width="1.0" fill="none"/>
<text x="263.2" y="433.5" font-size="5.95" text-anchor="start" fill="#1a1a1a" stroke="#1a1a1a" stroke-width="0.22" >ADL_cooking=0</text>
<rect x="250.1" y="437.3" width="9.3" height="9" fill="#cc1f2a" fill-opacity="0.35"/>
<path d="M250.1 441.8h9.3M254.75 439.3v5" stroke="#ec2424" stroke-width="1.0" fill="none"/>
<text x="263.2" y="443.9" font-size="5.95" text-anchor="start" fill="#1a1a1a" stroke="#1a1a1a" stroke-width="0.22" >ADL_cooking=1</text>
<rect x="250.1" y="447.8" width="9.3" height="9" fill="#4bc641" fill-opacity="0.3"/>
<path d="M250.1 452.3h9.3M254.75 449.8v5" stroke="#44bf3c" stroke-width="1.0" fill="none"/>
<text x="263.2" y="454.4" font-size="5.95" text-anchor="start" fill="#1a1a1a" stroke="#1a1a1a" stroke-width="0.22" >ADL_cooking=2</text>
<line x1="68.5" y1="660" x2="68.5" y2="706.5" stroke="#3a3a3a" stroke-width="1" />
<line x1="68" y1="706" x2="340" y2="706" stroke="#3a3a3a" stroke-width="1" />
<line x1="66.3" y1="667.6" x2="68.5" y2="667.6" stroke="#3a3a3a" stroke-width="0.8" />
<text x="65.5" y="670.1" font-size="7.05" text-anchor="end" fill="#3557a2" stroke="#3557a2" stroke-width="0.22" >ADL_cooking=0</text>
<text x="80.7" y="670.3" font-size="7.5" text-anchor="middle" fill="#1a1a1a" stroke="#1a1a1a" stroke-width="0.22" >1587</text>
<text x="105.35" y="670.3" font-size="7.5" text-anchor="middle" fill="#1a1a1a" stroke="#1a1a1a" stroke-width="0.22" >1483</text>
<text x="130" y="670.3" font-size="7.5" text-anchor="middle" fill="#1a1a1a" stroke="#1a1a1a" stroke-width="0.22" >1368</text>
<text x="154.65" y="670.3" font-size="7.5" text-anchor="middle" fill="#1a1a1a" stroke="#1a1a1a" stroke-width="0.22" >1180</text>
<text x="179.3" y="670.3" font-size="7.5" text-anchor="middle" fill="#1a1a1a" stroke="#1a1a1a" stroke-width="0.22" >938</text>
<text x="203.95" y="670.3" font-size="7.5" text-anchor="middle" fill="#1a1a1a" stroke="#1a1a1a" stroke-width="0.22" >779</text>
<text x="228.6" y="670.3" font-size="7.5" text-anchor="middle" fill="#1a1a1a" stroke="#1a1a1a" stroke-width="0.22" >617</text>
<text x="253.25" y="670.3" font-size="7.5" text-anchor="middle" fill="#1a1a1a" stroke="#1a1a1a" stroke-width="0.22" >472</text>
<text x="277.9" y="670.3" font-size="7.5" text-anchor="middle" fill="#1a1a1a" stroke="#1a1a1a" stroke-width="0.22" >356</text>
<text x="302.55" y="670.3" font-size="7.5" text-anchor="middle" fill="#1a1a1a" stroke="#1a1a1a" stroke-width="0.22" >289</text>
<text x="327.2" y="670.3" font-size="7.5" text-anchor="middle" fill="#1a1a1a" stroke="#1a1a1a" stroke-width="0.22" >183</text>
<line x1="66.3" y1="682.2" x2="68.5" y2="682.2" stroke="#3a3a3a" stroke-width="0.8" />
<text x="65.5" y="684.7" font-size="7.05" text-anchor="end" fill="#ec2a2a" stroke="#ec2a2a" stroke-width="0.22" >ADL_cooking=1</text>
<text x="80.7" y="684.9" font-size="7.5" text-anchor="middle" fill="#1a1a1a" stroke="#1a1a1a" stroke-width="0.22" >229</text>
<text x="105.35" y="684.9" font-size="7.5" text-anchor="middle" fill="#1a1a1a" stroke="#1a1a1a" stroke-width="0.22" >205</text>
<text x="130" y="684.9" font-size="7.5" text-anchor="middle" fill="#1a1a1a" stroke="#1a1a1a" stroke-width="0.22" >161</text>
<text x="154.65" y="684.9" font-size="7.5" text-anchor="middle" fill="#1a1a1a" stroke="#1a1a1a" stroke-width="0.22" >111</text>
<text x="179.3" y="684.9" font-size="7.5" text-anchor="middle" fill="#1a1a1a" stroke="#1a1a1a" stroke-width="0.22" >77</text>
<text x="203.95" y="684.9" font-size="7.5" text-anchor="middle" fill="#1a1a1a" stroke="#1a1a1a" stroke-width="0.22" >58</text>
<text x="228.6" y="684.9" font-size="7.5" text-anchor="middle" fill="#1a1a1a" stroke="#1a1a1a" stroke-width="0.22" >34</text>
<text x="253.25" y="684.9" font-size="7.5" text-anchor="middle" fill="#1a1a1a" stroke="#1a1a1a" stroke-width="0.22" >23</text>
<text x="277.9" y="684.9" font-size="7.5" text-anchor="middle" fill="#1a1a1a" stroke="#1a1a1a" stroke-width="0.22" >16</text>
<text x="302.55" y="684.9" font-size="7.5" text-anchor="middle" fill="#1a1a1a" stroke="#1a1a1a" stroke-width="0.22" >11</text>
<text x="327.2" y="684.9" font-size="7.5" text-anchor="middle" fill="#1a1a1a" stroke="#1a1a1a" stroke-width="0.22" >3</text>
<line x1="66.3" y1="696.7" x2="68.5" y2="696.7" stroke="#3a3a3a" stroke-width="0.8" />
<text x="65.5" y="699.2" font-size="7.05" text-anchor="end" fill="#4fc046" stroke="#4fc046" stroke-width="0.22" >ADL_cooking=2</text>
<text x="80.7" y="699.4" font-size="7.5" text-anchor="middle" fill="#1a1a1a" stroke="#1a1a1a" stroke-width="0.22" >788</text>
<text x="105.35" y="699.4" font-size="7.5" text-anchor="middle" fill="#1a1a1a" stroke="#1a1a1a" stroke-width="0.22" >572</text>
<text x="130" y="699.4" font-size="7.5" text-anchor="middle" fill="#1a1a1a" stroke="#1a1a1a" stroke-width="0.22" >391</text>
<text x="154.65" y="699.4" font-size="7.5" text-anchor="middle" fill="#1a1a1a" stroke="#1a1a1a" stroke-width="0.22" >234</text>
<text x="179.3" y="699.4" font-size="7.5" text-anchor="middle" fill="#1a1a1a" stroke="#1a1a1a" stroke-width="0.22" >149</text>
<text x="203.95" y="699.4" font-size="7.5" text-anchor="middle" fill="#1a1a1a" stroke="#1a1a1a" stroke-width="0.22" >107</text>
<text x="228.6" y="699.4" font-size="7.5" text-anchor="middle" fill="#1a1a1a" stroke="#1a1a1a" stroke-width="0.22" >52</text>
<text x="253.25" y="699.4" font-size="7.5" text-anchor="middle" fill="#1a1a1a" stroke="#1a1a1a" stroke-width="0.22" >35</text>
<text x="277.9" y="699.4" font-size="7.5" text-anchor="middle" fill="#1a1a1a" stroke="#1a1a1a" stroke-width="0.22" >27</text>
<text x="302.55" y="699.4" font-size="7.5" text-anchor="middle" fill="#1a1a1a" stroke="#1a1a1a" stroke-width="0.22" >16</text>
<text x="327.2" y="699.4" font-size="7.5" text-anchor="middle" fill="#1a1a1a" stroke="#1a1a1a" stroke-width="0.22" >6</text>
<line x1="80.7" y1="706" x2="80.7" y2="708.2" stroke="#3a3a3a" stroke-width="0.8" />
<text x="80.7" y="714.4" font-size="7.2" text-anchor="middle" fill="#333" stroke="#333" stroke-width="0.22" >0</text>
<line x1="105.35" y1="706" x2="105.35" y2="708.2" stroke="#3a3a3a" stroke-width="0.8" />
<text x="105.35" y="714.4" font-size="7.2" text-anchor="middle" fill="#333" stroke="#333" stroke-width="0.22" >1</text>
<line x1="130" y1="706" x2="130" y2="708.2" stroke="#3a3a3a" stroke-width="0.8" />
<text x="130" y="714.4" font-size="7.2" text-anchor="middle" fill="#333" stroke="#333" stroke-width="0.22" >2</text>
<line x1="154.65" y1="706" x2="154.65" y2="708.2" stroke="#3a3a3a" stroke-width="0.8" />
<text x="154.65" y="714.4" font-size="7.2" text-anchor="middle" fill="#333" stroke="#333" stroke-width="0.22" >3</text>
<line x1="179.3" y1="706" x2="179.3" y2="708.2" stroke="#3a3a3a" stroke-width="0.8" />
<text x="179.3" y="714.4" font-size="7.2" text-anchor="middle" fill="#333" stroke="#333" stroke-width="0.22" >4</text>
<line x1="203.95" y1="706" x2="203.95" y2="708.2" stroke="#3a3a3a" stroke-width="0.8" />
<text x="203.95" y="714.4" font-size="7.2" text-anchor="middle" fill="#333" stroke="#333" stroke-width="0.22" >5</text>
<line x1="228.6" y1="706" x2="228.6" y2="708.2" stroke="#3a3a3a" stroke-width="0.8" />
<text x="228.6" y="714.4" font-size="7.2" text-anchor="middle" fill="#333" stroke="#333" stroke-width="0.22" >6</text>
<line x1="253.25" y1="706" x2="253.25" y2="708.2" stroke="#3a3a3a" stroke-width="0.8" />
<text x="253.25" y="714.4" font-size="7.2" text-anchor="middle" fill="#333" stroke="#333" stroke-width="0.22" >7</text>
<line x1="277.9" y1="706" x2="277.9" y2="708.2" stroke="#3a3a3a" stroke-width="0.8" />
<text x="277.9" y="714.4" font-size="7.2" text-anchor="middle" fill="#333" stroke="#333" stroke-width="0.22" >8</text>
<line x1="302.55" y1="706" x2="302.55" y2="708.2" stroke="#3a3a3a" stroke-width="0.8" />
<text x="302.55" y="714.4" font-size="7.2" text-anchor="middle" fill="#333" stroke="#333" stroke-width="0.22" >9</text>
<line x1="327.2" y1="706" x2="327.2" y2="708.2" stroke="#3a3a3a" stroke-width="0.8" />
<text x="327.2" y="714.4" font-size="7.2" text-anchor="middle" fill="#333" stroke="#333" stroke-width="0.22" >10</text>
<text x="204.25" y="723" font-size="8.3" text-anchor="middle" fill="#1a1a1a" stroke="#1a1a1a" stroke-width="0.22" >Time (years)</text>
<text x="0" y="0" font-size="8.3" text-anchor="middle" fill="#1a1a1a" stroke="#1a1a1a" stroke-width="0.22" transform="translate(11.8 683) rotate(-90)">cooking ability of ADL</text>
<text x="0" y="0" font-size="24.6" font-weight="bold" fill="#555555" transform="translate(340.68 388.1) scale(0.98 1)">D</text>
<path d="M386.4 403.8H386.57V403.91H386.74V404.01H386.9V404.12H387.07V404.23H387.24V404.33H387.41V404.44H387.75V404.66H388.08V404.87H388.42V405.09H388.59V405.2H388.76V405.3H388.92V405.41H389.09V405.52H389.26V405.63H389.43V405.74H389.76V405.96H390.1V406.18H390.44V406.4H390.77V406.62H390.94V406.73H391.11V406.84H391.28V406.95H391.62V407.17H391.9V407.35H392.18V407.54H392.34V407.65H392.51V407.76H392.68V407.87H392.85V407.98H393.02V408.1H393.19V408.21H393.35V408.32H393.63V408.51H393.91V408.7H394.08V408.81H394.25V408.92H394.53V409.11H394.7V409.22H394.98V409.41H395.26V409.6H395.43V409.72H395.6V409.83H395.77V409.94H395.93V410.06H396.1V410.17H396.27V410.29H396.55V410.48H396.72V410.59H396.89V410.71H397.06V410.82H397.22V410.94H397.39V411.05H397.56V411.17H397.73V411.28H398.01V411.48H398.18V411.59H398.35V411.71H398.51V411.82H398.68V411.94H398.85V412.06H399.02V412.17H399.3V412.37H399.47V412.48H399.63V412.6H399.92V412.8H400.08V412.91H400.25V413.03H400.42V413.15H400.7V413.35H400.87V413.47H401.04V413.59H401.21V413.7H401.37V413.82H401.54V413.94H401.71V414.06H401.88V414.18H402.16V414.39H402.44V414.59H402.72V414.79H403V414.99H403.17V415.11H403.34V415.24H403.62V415.44H403.9V415.64H404.07V415.77H404.35V415.97H404.51V416.09H404.79V416.3H404.96V416.42H405.13V416.55H405.3V416.67H405.47V416.79H405.64V416.92H405.92V417.12H406.08V417.25H406.25V417.37H406.42V417.49H406.59V417.62H406.87V417.82H407.04V417.95H407.21V418.07H407.37V418.2H407.65V418.4H407.82V418.53H407.99V418.65H408.16V418.78H408.33V418.9H408.5V419.02H408.66V419.15H408.83V419.27H409V419.39H409.17V419.52H409.34V419.64H409.62V419.85H409.79V419.97H409.95V420.09H410.23V420.3H410.4V420.42H410.68V420.62H410.85V420.75H411.02V420.87H411.19V420.99H411.36V421.11H411.52V421.24H411.69V421.36H411.97V421.56H412.25V421.75H412.42V421.87H412.59V421.99H412.76V422.11H412.93V422.23H413.09V422.34H413.26V422.46H413.54V422.65H413.71V422.77H413.88V422.88H414.16V423.07H414.33V423.19H414.61V423.38H414.78V423.5H415.06V423.69H415.23V423.8H415.51V423.99H415.79V424.18H415.95V424.3H416.12V424.42H416.29V424.53H416.57V424.73H416.85V424.92H417.13V425.12H417.3V425.24H417.47V425.36H417.75V425.55H417.92V425.68H418.2V425.88H418.37V426H418.53V426.12H418.7V426.25H418.87V426.37H419.15V426.58H419.43V426.79H419.6V426.92H419.88V427.14H420.16V427.36H420.33V427.49H420.5V427.63H420.78V427.86H420.95V427.99H421.23V428.23H421.39V428.37H421.56V428.51H421.67V428.61H421.79V428.71H421.9V428.8H422.12V429.01H422.35V429.21H422.46V429.32H422.57V429.42H422.8V429.63H422.91V429.74H423.13V429.96H423.24V430.07H423.47V430.29H423.69V430.52H423.92V430.75H424.03V430.86H424.25V431.09H424.37V431.21H424.48V431.32H424.59V431.44H424.81V431.67H425.04V431.91H425.15V432.03H425.26V432.15H425.38V432.26H425.49V432.38H425.6V432.5H425.71V432.62H425.94V432.86H426.05V432.97H426.16V433.09H426.27V433.21H426.5V433.45H426.61V433.57H426.72V433.68H426.95V433.92H427.17V434.15H427.28V434.26H427.39V434.38H427.51V434.49H427.73V434.72H427.84V434.84H427.96V434.95H428.07V435.06H428.29V435.28H428.4V435.39H428.52V435.5H428.63V435.61H428.85V435.82H428.96V435.93H429.08V436.04H429.3V436.25H429.53V436.46H429.64V436.57H429.86V436.78H429.97V436.88H430.09V436.99H430.31V437.2H430.42V437.3H430.65V437.51H430.76V437.62H430.98V437.82H431.1V437.93H431.21V438.03H431.32V438.13H431.43V438.24H431.54V438.34H431.77V438.55H431.99V438.75H432.11V438.86H432.22V438.96H432.33V439.06H432.44V439.16H432.67V439.37H432.78V439.47H432.89V439.57H433V439.67H433.23V439.87H433.34V439.98H433.56V440.18H433.79V440.38H433.9V440.48H434.01V440.58H434.12V440.68H434.24V440.78H434.46V440.98H434.57V441.08H434.8V441.28H434.91V441.38H435.13V441.58H435.36V441.78H435.47V441.88H435.58V441.98H435.69V442.08H435.92V442.28H436.03V442.38H436.14V442.48H436.26V442.57H436.37V442.67H436.54V442.82H436.82V443.07H436.98V443.21H437.26V443.46H437.43V443.61H437.6V443.75H437.77V443.9H437.94V444.05H438.11V444.19H438.27V444.34H438.55V444.58H438.72V444.72H438.89V444.87H439.06V445.01H439.23V445.15H439.4V445.29H439.56V445.44H439.84V445.67H440.12V445.91H440.41V446.14H440.69V446.37H440.97V446.61H441.13V446.75H441.3V446.89H441.47V447.02H441.64V447.16H441.92V447.4H442.2V447.63H442.48V447.86H442.65V448H442.82V448.14H442.98V448.28H443.27V448.51H443.43V448.65H443.71V448.88H443.88V449.02H444.16V449.25H444.33V449.39H444.5V449.53H444.78V449.77H445.06V450.01H445.23V450.15H445.4V450.29H445.56V450.43H445.73V450.58H446.01V450.81H446.29V451.06H446.46V451.2H446.63V451.35H446.91V451.59H447.08V451.74H447.25V451.89H447.42V452.04H447.58V452.19H447.75V452.34H447.92V452.49H448.03V452.59H448.14V452.69H448.37V452.89H448.48V452.99H448.59V453.09H448.7V453.19H448.93V453.4H449.15V453.6H449.38V453.81H449.49V453.91H449.6V454.02H449.71V454.12H449.83V454.22H449.94V454.32H450.16V454.53H450.39V454.74H450.61V454.95H450.72V455.05H450.84V455.15H450.95V455.26H451.17V455.46H451.28V455.57H451.51V455.78H451.62V455.88H451.73V455.98H451.96V456.19H452.07V456.29H452.18V456.4H452.29V456.5H452.41V456.6H452.52V456.71H452.63V456.81H452.74V456.91H452.85V457.01H453.08V457.22H453.19V457.32H453.42V457.53H453.64V457.73H453.92V457.98H454.09V458.13H454.37V458.38H454.65V458.63H454.93V458.88H455.1V459.03H455.27V459.18H455.55V459.42H455.71V459.57H455.88V459.71H456.05V459.85H456.33V460.09H456.5V460.23H456.67V460.37H456.84V460.51H457.12V460.74H457.29V460.88H457.45V461.02H457.62V461.15H457.9V461.37H458.07V461.51H458.24V461.64H458.41V461.77H458.57V461.9H458.86V462.12H459.02V462.25H459.3V462.46H459.47V462.59H459.64V462.72H459.92V462.94H460.2V463.15H460.37V463.28H460.54V463.4H460.71V463.53H460.99V463.74H461.15V463.87H461.44V464.08H461.72V464.28H462V464.49H462.28V464.7H462.61V464.94H462.78V465.06H463.12V465.31H463.45V465.55H463.62V465.67H463.79V465.79H463.96V465.91H464.3V466.15H464.46V466.27H464.63V466.39H464.97V466.62H465.14V466.74H465.3V466.86H465.47V466.98H465.64V467.09H465.98V467.33H466.15V467.44H466.31V467.56H466.65V467.79H466.82V467.9H466.99V468.02H467.32V468.25H467.66V468.47H468V468.7H468.33V468.92H468.5V469.03H468.67V469.14H468.84V469.26H469.01V469.37H469.34V469.59H469.51V469.7H469.68V469.81H470.02V470.03H470.18V470.13H470.35V470.24H470.52V470.35H470.69V470.46H470.86V470.57H471.02V470.67H471.36V470.89H471.7V471.1H471.87V471.21H472.03V471.31H472.37V471.52H472.71V471.73H472.93V471.87H473.16V472.01H473.55V472.25H473.77V472.39H474V472.53H474.22V472.66H474.61V472.9H474.84V473.03H475.06V473.16H475.29V473.3H475.51V473.43H475.9V473.66H476.3V473.89H476.69V474.11H476.91V474.24H477.14V474.37H477.36V474.5H477.59V474.63H477.81V474.76H478.2V474.98H478.6V475.2H478.99V475.42H479.21V475.54H479.44V475.67H479.83V475.88H480.22V476.1H480.45V476.22H480.67V476.35H480.89V476.47H481.29V476.69H481.68V476.9H481.9V477.02H482.3V477.23H482.52V477.35H482.75V477.48H483.19V477.72H483.42V477.84H483.64V477.96H483.87V478.08H484.09V478.2H484.32V478.32H484.54V478.44H484.76V478.56H485.21V478.8H485.44V478.92H485.89V479.16H486.11V479.28H486.56V479.52H486.78V479.64H487.01V479.76H487.23V479.88H487.68V480.13H487.9V480.25H488.35V480.49H488.58V480.61H488.8V480.73H489.03V480.85H489.25V480.97H489.7V481.22H489.92V481.34H490.15V481.46H490.6V481.71H490.82V481.83H491.21V482.05H491.44V482.17H491.66V482.3H491.89V482.42H492.28V482.64H492.5V482.76H492.9V482.98H493.12V483.11H493.51V483.33H493.74V483.45H494.13V483.67H494.35V483.8H494.58V483.92H494.8V484.05H495.03V484.18H495.25V484.3H495.64V484.52H495.87V484.65H496.09V484.78H496.49V485H496.71V485.13H496.93V485.25H497.33V485.48H497.72V485.7H497.94V485.83H498.34V486.05H498.56V486.18H498.95V486.4H499.35V486.62H499.57V486.75H499.96V486.97H500.19V487.1H500.41V487.23H500.63V487.36H500.86V487.48H501.08V487.61H501.31V487.74H501.53V487.87H501.92V488.09H502.32V488.31H502.71V488.54H502.93V488.67H503.16V488.79H503.38V488.92H503.61V489.05H503.83V489.18H504.06V489.3H504.28V489.43H504.5V489.56H504.73V489.69H505.12V489.91H505.51V490.13H505.74V490.26H505.96V490.39H506.36V490.61H506.58V490.74H506.8V490.86H507.03V490.99H507.42V491.21H507.81V491.43H508.26V491.69H508.49V491.81H508.71V491.94H508.93V492.07H509.38V492.32H509.61V492.44H509.83V492.57H510.06V492.69H510.28V492.82H510.51V492.95H510.73V493.07H510.95V493.2H511.18V493.32H511.63V493.57H512.08V493.82H512.3V493.94H512.52V494.07H512.75V494.19H512.97V494.32H513.42V494.56H513.65V494.69H514.09V494.93H514.32V495.05H514.54V495.18H514.77V495.3H514.99V495.42H515.22V495.54H515.66V495.79H515.89V495.91H516.11V496.03H516.56V496.27H516.79V496.39H517.01V496.51H517.23V496.63H517.46V496.75H517.68V496.87H517.91V496.99H518.13V497.11H518.36V497.23H518.58V497.35H518.8V497.47H519.03V497.59H519.48V497.82H519.93V498.06H520.15V498.17H520.38V498.29H520.6V498.41H520.82V498.52H521.05V498.64H521.5V498.87H521.72V498.98H521.95V499.1H522.17V499.21H522.62V499.44H522.9V499.58H523.4V499.84H523.68V499.98H524.19V500.23H524.47V500.37H524.75V500.51H525.25V500.76H525.76V501H526.04V501.14H526.54V501.38H527.05V501.63H527.33V501.76H527.61V501.89H527.89V502.03H528.17V502.16H528.45V502.29H528.96V502.53H529.24V502.66H529.52V502.79H529.8V502.92H530.08V503.05H530.58V503.29H531.09V503.52H531.37V503.65H531.65V503.78H531.93V503.9H532.21V504.03H532.77V504.29H533.33V504.54H533.61V504.67H533.89V504.79H534.17V504.92H534.45V505.04H535.01V505.29H535.29V505.42H535.85V505.67H536.41V505.91H536.97V506.16H537.26V506.28H537.82V506.53H538.38V506.78H538.94V507.02H539.22V507.14H539.5V507.27H539.78V507.39H540.06V507.51H540.34V507.63H540.62V507.75H540.9V507.88H541.18V508H541.46V508.12H541.74V508.24H542.02V508.36H542.3V508.48H542.58V508.6H542.86V508.73H543.14V508.85H543.42V508.97H543.98V509.21H544.32V509.35H544.66V509.49H544.99V509.64H545.33V509.78H545.67V509.92H546V510.06H546.34V510.2H546.96V510.46H547.29V510.59H547.91V510.85H548.25V510.99H548.58V511.13H548.92V511.26H549.26V511.4H549.87V511.65H550.21V511.79H550.55V511.93H550.88V512.06H551.22V512.2H551.56V512.34H551.89V512.47H552.23V512.61H552.57V512.75H552.9V512.88H553.24V513.02H553.57V513.16H554.19V513.41H554.53V513.55H555.14V513.8H555.76V514.05H556.1V514.19H556.43V514.33H556.77V514.47H557.11V514.61H557.44V514.75H557.78V514.89H558.12V515.03H558.45V515.17H558.79V515.32H559.13V515.46H559.46V515.6H559.8V515.75H560.42V516.01H561.03V516.28H561.37V516.43H561.99V516.7H562.27V516.83H562.55V516.96H563.11V517.21H563.39V517.34H563.67V517.46H564.23V517.72H564.51V517.85H564.79V517.98H565.07V518.11H565.35V518.24H565.63V518.37H566.19V518.63H566.47V518.76H566.75V518.9H567.03V519.03H567.59V519.29H567.87V519.42H568.16V519.55H568.72V519.82H569V519.95H569.28V520.08H569.56V520.21H570.12V520.48H570.4V520.61H570.96V520.87H571.24V521H571.8V521.26H572.08V521.39H572.36V521.52H572.64V521.65H572.98V521.8H573.31V521.96H573.93V522.24H574.27V522.39H574.6V522.54H575.22V522.82H575.56V522.96H576.17V523.23H576.51V523.38H576.85V523.53H577.18V523.67H577.52V523.81H577.86V523.95H578.19V524.09H578.53V524.23H578.87V524.37H579.54V524.64H580.21V524.9H580.94V525.18H581.33V525.33H581.73V525.48H582.46V525.74H582.85V525.88H583.63V526.16H584.03V526.3H584.81V526.56H585.65V526.84H586.49V527.12H587.33V527.39H588.23V527.68H588.68V527.82H589.58V528.1H590.48V528.37H590.92V528.51H591.37V528.65H592.27V528.92H592.72V529.06H593.17V529.2H593.62V529.34H594.51V529.61H594.96V529.75H595.41V529.89H595.86V530.03H596.31V530.17H596.76V530.31H597.65V530.6H598.1V530.75H598.55V530.89H599V531.04H599.84V531.32H600.29V531.48H601.13V531.77H601.58V531.93H601.97V532.07H602.76V532.36H603.15V532.5H603.93V532.8H604.33V532.96H604.72V533.11H605.11V533.27H605.5V533.43H606.23V533.73H606.63V533.89H607.02V534.05H607.75V534.36H608.42V534.65H609.09V534.94H609.77V535.23H610.44V535.52H611.11V535.82H611.45V535.96H611.79V536.11H612.46V536.41H613.13V536.7H613.8V537H614.48V537.29H614.81V537.44H615.15V537.59H615.54V537.76H615.94V537.92H616.33V538.09H616.72V538.26H617.11V538.42H617.84V538.73H618.57V539.03H618.96V539.19H619.36V539.35H620.14V539.66H620.93V539.96H621.38V540.13H622.22V540.44H623.06V540.74H623.51V540.89H623.95V541.04H624.46V541.21H624.96V541.37H625.47V541.53H626.48V541.83H627.04V542H627.6V542.16H628.72V542.48H629.28V542.63H629.84V542.79H630.46V542.95H631.08V543.11H631.69V543.28H632.93V543.59H633.54V543.75H634.22V543.91H634.89V544.08H635.56V544.24H636.24V544.4H636.91V544.56H638.26V544.88H639.66V545.2H640.39V545.37H641.12V545.54H641.84V545.7H642.57V545.87H643.3V546.03H644.76V546.37H645.49V546.53H646.89V546.86H648.29V547.18H649.02V547.36H649.75V547.53H650.48V547.7H651.21V547.87H651.94V548.05H652.67V548.22H654.13V548.56H654.85V548.73H656.31V549.07H657.77V549.41H659.23V549.75H660.74V550.1H662.26V550.44H663.04V550.62H664.56V550.97H666.13V551.33H666.91V551.5H667.7V551.68H668.48V551.86H669.27V552.03H670.89V552.39H671.74V552.58H673.36V552.94H674.2V553.13H675.04V553.31H675.88V553.49H676.73V553.68H677.57V553.86H678.41V554.04H679.14V554.04" fill="none" stroke="#1f4a94" stroke-width="1.4"/><path d="M606.17 531.33v4.2M661.19 548v4.2M543.06 506.63v4.2M668.21 549.58v4.2M650.13 545.43v4.2M502.59 486.21v4.2M644.72 543.93v4.2M669.53 549.93v4.2M673.53 550.84v4.2M629.9 540.69v4.2M569.31 517.98v4.2M602.27 529.97v4.2M622.55 538.34v4.2M615.61 535.66v4.2M513.7 492.59v4.2M661.73 548v4.2M601.66 529.83v4.2M464.57 464.17v4.2M548.4 508.89v4.2M469.51 467.6v4.2M585.13 524.46v4.2M476.15 471.56v4.2M599.46 528.94v4.2M540.93 505.78v4.2M652.64 545.95v4.2M643.07 543.77v4.2M513.2 492.22v4.2M650.11 545.43v4.2M609.74 532.84v4.2M538.47 504.68v4.2M665.83 548.87v4.2M409.68 417.75v4.2M571.31 518.9v4.2M612.91 534.31v4.2M504.46 487.33v4.2M591.62 526.55v4.2M661.67 548v4.2M557.99 512.79v4.2M632.83 541.18v4.2M514.12 492.83v4.2M675.53 551.21v4.2M673.83 550.84v4.2M505.29 487.81v4.2M642.37 543.6v4.2M555.53 511.7v4.2M438.68 442.48v4.2M520.84 496.42v4.2M636.31 542.3v4.2M586.06 524.74v4.2M599.43 528.94v4.2M491.09 479.73v4.2M507.7 489.11v4.2M563.31 515.11v4.2M596.21 527.93v4.2M651.55 545.77v4.2M582.61 523.64v4.2M554.04 511.06v4.2M666.21 549.23v4.2M629.63 540.53v4.2M640.92 543.27v4.2M649.14 545.26v4.2M590.19 526v4.2M535.71 503.32v4.2M484.37 476.22v4.2M623.76 538.79v4.2M639.67 543.1v4.2M664.46 548.52v4.2M667.08 549.4v4.2M594.15 527.24v4.2M591.08 526.41v4.2M673.95 550.84v4.2M472.13 469.21v4.2M565.61 516.14v4.2M602.61 529.97v4.2M613.46 534.6v4.2M615.24 535.49v4.2M502.89 486.44v4.2M595.09 527.65v4.2M509.18 489.97v4.2M567.79 517.19v4.2M510.26 490.59v4.2M551.94 510.37v4.2M618.18 536.63v4.2M571.28 518.9v4.2M506.37 488.51v4.2M586.83 525.02v4.2M626 539.43v4.2M547.08 508.36v4.2M539.07 504.92v4.2M579.73 522.54v4.2M630.56 540.85v4.2M442.24 445.53v4.2M626.54 539.73v4.2M455.05 456.78v4.2M662.55 548.34v4.2M514.39 492.95v4.2M652.19 545.95v4.2M440.34 443.81v4.2M592.01 526.55v4.2M534.76 502.94v4.2M644.28 543.93v4.2M643.45 543.93v4.2M490.62 479.61v4.2M452.86 454.91v4.2M636.57 542.3v4.2M575.89 520.86v4.2M565.13 516.01v4.2M559.2 513.36v4.2M563.7 515.36v4.2M608.68 532.55v4.2M568.8 517.72v4.2M491.49 480.07v4.2M587.4 525.29v4.2M677.45 551.58v4.2M642.72 543.77v4.2M634.51 541.81v4.2M668.34 549.58v4.2M581.6 523.23v4.2M562.6 514.86v4.2M647.06 544.76v4.2M480.24 474v4.2M642.7 543.77v4.2M499.06 484.3v4.2M617.52 536.32v4.2M596.24 527.93v4.2M643.59 543.93v4.2M459.79 460.62v4.2M626.29 539.43v4.2M652.62 545.95v4.2M444.07 446.92v4.2M628.44 540.06v4.2M541.3 505.9v4.2M638.96 542.78v4.2M676 551.39v4.2M401.67 411.84v4.2M573.11 519.7v4.2M593.26 527.1v4.2M676.38 551.39v4.2M667.81 549.58v4.2M436.04 440.28v4.2M494.54 481.7v4.2M573.3 519.7v4.2M648.89 545.08v4.2M646.54 544.43v4.2M604.62 530.86v4.2M667.39 549.4v4.2M651.53 545.77v4.2M660.68 547.65v4.2M619.55 537.25v4.2M535.46 503.32v4.2" stroke="#1f4a94" stroke-width="1.1" fill="none"/>
<path d="M386.4 403.8H387.41V405.6H389.15V409.06H390.77V412.64H392.23V416.11H393.52V419.64H394.81V423.23H395.54V425.08H396.27V426.82H397.78V430.32H398.57V432.18H399.97V435.63H400.7V437.45H401.43V439.3H402.1V441.03H402.78V442.8H403.45V444.61H404.12V446.46H404.74V448.2H405.36V449.99H406.53V453.53H407.65V457.02H408.22V458.93H409.17V462.43H409.67V464.35H410.18V466.25H410.68V468.11H411.19V469.87H412.37V473.39H413.15V475.12H414.1V476.84H416.51V480.31H418.87V483.8H419.88V485.54H421.79V489.02H422.57V490.77H423.24V492.51H423.81V494.43H424.53V497.9H424.87V499.68H425.54V503.27H426.33V506.86H426.89V508.59H427.67V510.43H428.57V512.23H429.58V513.96H430.76V515.71H432.05V517.48H433.28V519.22H434.63V521.01H436.09V522.77H437.66V524.55H439.23V526.28H442.54V529.75H444.27V531.5H446.07V533.26H447.92V535.03H451.62V538.51H453.53V540.28H457.29V543.78H459.19V545.53H463.29V549.01H468.11V552.5H470.69V554.22H476.3V557.69H479.32V559.41H482.52V561.12H485.77V562.82H489.03V564.52H492.39V566.2H501.76V569.51H511.63V570.65H520.54V573.91H523.18V577.05H523.8V577.05H523.8V577.77H524.64V578.82H535.57V586.95H543.7V589.45H552.96V593H558.85V598.01H591.37V600.93H610.16V603.85H680.26V603.85" fill="none" stroke="#ec2424" stroke-width="1.4"/><path d="M558.85 595.91v4.2M561.44 595.91v4.2M599.26 598.83v4.2M645.2 601.75v4.2M483 559.02v4.2M640.62 601.75v4.2M648.78 601.75v4.2M658.87 601.75v4.2M442.64 527.65v4.2M672.18 601.75v4.2" stroke="#ec2424" stroke-width="1.1" fill="none"/>
<path d="M386.4 403.8H387.24V406.94H388.03V409.91H388.42V411.41H388.81V412.91H389.2V414.42H389.6V415.95H389.99V417.51H390.77V420.67H391.17V422.26H391.95V425.4H392.34V426.93H393.19V430.03H394.14V433.1H394.64V434.69H395.15V436.37H395.6V438.01H395.99V439.61H396.33V441.19H396.89V444.54H397.17V446.39H397.67V449.68H397.95V451.34H398.63V454.43H399.07V456.08H399.58V457.74H400.59V460.86H401.49V463.99H401.88V465.62H402.27V467.37H402.61V468.92H402.94V470.47H403.34V472.23H404.12V475.33H404.57V476.92H405.07V478.65H405.58V480.29H406.08V481.84H407.26V485H408.83V488.12H409.84V489.75H410.91V491.34H411.97V492.98H413.82V496.21H415.34V499.4H415.9V501.18H416.35V502.99H416.74V504.7H417.13V506.41H417.58V508.21H418.03V509.83H418.98V513.22H419.49V514.94H419.99V516.6H420.55V518.35H421.11V519.99H421.79V521.68H422.52V523.35H423.13V525H423.64V526.76H424.42V530.27H424.76V531.95H425.1V533.68H425.77V537.15H426.1V538.81H426.5V540.61H427.39V543.9H428.29V545.62H429.58V547.29H431.32V548.97H433.73V550.66H436.26V552.35H439.51V555.72H440.69V557.42H441.81V559.2H443.83V562.63H444.84V564.37H446.97V567.84H448.2V569.6H451.62V573.13H456.22V576.65H459.08V578.46H466.2V582.07H471.19V583.91H481.06V587.25H488.69V591.1H492.78V593.07H497.55V595.07H507.42V598.29H509.78V598.29H509.78V598.63H523.8V599.47H573.99V602.18H582.12V607.6H614.08V607.6V612.4" fill="none" stroke="#44bf3c" stroke-width="1.4"/><path d="M453.14 571.03v4.2M583.12 605.5v4.2M503.79 592.97v4.2M545.4 597.37v4.2M588 605.5v4.2M480.86 581.81v4.2M420.07 514.5v4.2M466.41 579.97v4.2" stroke="#44bf3c" stroke-width="1.1" fill="none"/>
<path d="M386.4 403.8H386.57V403.82H386.74V403.86H386.9V403.91H387.07V403.97H387.24V404.04H387.41V404.11H387.75V404.25H388.08V404.4H388.42V404.56H388.59V404.65H388.76V404.73H388.92V404.81H389.09V404.9H389.26V404.98H389.43V405.07H389.76V405.24H390.1V405.42H390.44V405.6H390.77V405.78H390.94V405.87H391.11V405.96H391.28V406.05H391.62V406.24H391.9V406.4H392.18V406.55H392.34V406.65H392.51V406.74H392.68V406.84H392.85V406.93H393.02V407.03H393.19V407.13H393.35V407.22H393.63V407.39H393.91V407.55H394.08V407.65H394.25V407.75H394.53V407.91H394.7V408.01H394.98V408.18H395.26V408.34H395.43V408.44H395.6V408.54H395.77V408.64H395.93V408.74H396.1V408.85H396.27V408.95H396.55V409.12H396.72V409.22H396.89V409.32H397.06V409.42H397.22V409.53H397.39V409.63H397.56V409.73H397.73V409.83H398.01V410.01H398.18V410.11H398.35V410.22H398.51V410.32H398.68V410.42H398.85V410.53H399.02V410.63H399.3V410.81H399.47V410.91H399.63V411.02H399.92V411.2H400.08V411.3H400.25V411.41H400.42V411.52H400.7V411.7H400.87V411.8H401.04V411.91H401.21V412.02H401.37V412.13H401.54V412.24H401.71V412.35H401.88V412.46H402.16V412.64H402.44V412.83H402.72V413.01H403V413.2H403.17V413.31H403.34V413.42H403.62V413.61H403.9V413.79H404.07V413.91H404.35V414.09H404.51V414.21H404.79V414.4H404.96V414.51H405.13V414.62H405.3V414.74H405.47V414.85H405.64V414.96H405.92V415.15H406.08V415.27H406.25V415.38H406.42V415.5H406.59V415.61H406.87V415.8H407.04V415.92H407.21V416.03H407.37V416.15H407.65V416.34H407.82V416.45H407.99V416.57H408.16V416.68H408.33V416.8H408.5V416.91H408.66V417.03H408.83V417.14H409V417.26H409.17V417.37H409.34V417.49H409.62V417.68H409.79V417.79H409.95V417.91H410.23V418.1H410.4V418.21H410.68V418.4H410.85V418.52H411.02V418.63H411.19V418.75H411.36V418.86H411.52V418.97H411.69V419.09H411.97V419.27H412.25V419.46H412.42V419.57H412.59V419.68H412.76V419.79H412.93V419.9H413.09V420.01H413.26V420.12H413.54V420.3H413.71V420.41H413.88V420.51H414.16V420.69H414.33V420.8H414.61V420.98H414.78V421.09H415.06V421.27H415.23V421.38H415.51V421.56H415.79V421.74H415.95V421.85H416.12V421.95H416.29V422.06H416.57V422.25H416.85V422.43H417.13V422.61H417.3V422.73H417.47V422.84H417.75V423.03H417.92V423.14H418.2V423.33H418.37V423.45H418.53V423.56H418.7V423.68H418.87V423.8H419.15V423.99H419.43V424.2H419.6V424.32H419.88V424.52H420.16V424.73H420.33V424.86H420.5V424.98H420.78V425.2H420.95V425.33H421.23V425.55H421.39V425.68H421.56V425.82H421.67V425.91H421.79V426H421.9V426.1H422.12V426.29H422.35V426.48H422.46V426.58H422.57V426.68H422.8V426.88H422.91V426.98H423.13V427.19H423.24V427.3H423.47V427.51H423.69V427.72H423.92V427.94H424.03V428.05H424.25V428.27H424.37V428.38H424.48V428.49H424.59V428.6H424.81V428.82H425.04V429.04H425.15V429.16H425.26V429.27H425.38V429.38H425.49V429.49H425.6V429.61H425.71V429.72H425.94V429.95H426.05V430.06H426.16V430.17H426.27V430.28H426.5V430.51H426.61V430.62H426.72V430.73H426.95V430.96H427.17V431.18H427.28V431.29H427.39V431.4H427.51V431.51H427.73V431.73H427.84V431.83H427.96V431.94H428.07V432.05H428.29V432.26H428.4V432.36H428.52V432.47H428.63V432.57H428.85V432.78H428.96V432.88H429.08V432.98H429.3V433.18H429.53V433.39H429.64V433.49H429.86V433.69H429.97V433.79H430.09V433.89H430.31V434.09H430.42V434.19H430.65V434.39H430.76V434.49H430.98V434.69H431.1V434.79H431.21V434.89H431.32V434.99H431.43V435.09H431.54V435.19H431.77V435.38H431.99V435.58H432.11V435.68H432.22V435.78H432.33V435.88H432.44V435.97H432.67V436.17H432.78V436.27H432.89V436.36H433V436.46H433.23V436.66H433.34V436.75H433.56V436.95H433.79V437.14H433.9V437.24H434.01V437.34H434.12V437.43H434.24V437.53H434.46V437.72H434.57V437.82H434.8V438.01H434.91V438.1H435.13V438.3H435.36V438.49H435.47V438.58H435.58V438.68H435.69V438.77H435.92V438.96H436.03V439.06H436.14V439.15H436.26V439.25H436.37V439.34H436.54V439.49H436.82V439.72H436.98V439.86H437.26V440.1H437.43V440.24H437.6V440.38H437.77V440.52H437.94V440.67H438.11V440.81H438.27V440.95H438.55V441.18H438.72V441.32H438.89V441.45H439.06V441.59H439.23V441.73H439.4V441.87H439.56V442H439.84V442.23H440.12V442.46H440.41V442.68H440.69V442.91H440.97V443.13H441.13V443.27H441.3V443.4H441.47V443.54H441.64V443.67H441.92V443.89H442.2V444.12H442.48V444.34H442.65V444.48H442.82V444.61H442.98V444.74H443.27V444.97H443.43V445.1H443.71V445.33H443.88V445.46H444.16V445.69H444.33V445.82H444.5V445.96H444.78V446.19H445.06V446.41H445.23V446.55H445.4V446.69H445.56V446.83H445.73V446.97H446.01V447.2H446.29V447.43H446.46V447.57H446.63V447.71H446.91V447.95H447.08V448.09H447.25V448.23H447.42V448.38H447.58V448.52H447.75V448.67H447.92V448.81H448.03V448.91H448.14V449.01H448.37V449.21H448.48V449.3H448.59V449.4H448.7V449.5H448.93V449.7H449.15V449.9H449.38V450.1H449.49V450.2H449.6V450.3H449.71V450.4H449.83V450.5H449.94V450.6H450.16V450.8H450.39V451H450.61V451.2H450.72V451.3H450.84V451.4H450.95V451.5H451.17V451.7H451.28V451.8H451.51V452H451.62V452.1H451.73V452.2H451.96V452.41H452.07V452.51H452.18V452.61H452.29V452.71H452.41V452.81H452.52V452.91H452.63V453.01H452.74V453.11H452.85V453.21H453.08V453.41H453.19V453.5H453.42V453.7H453.64V453.9H453.92V454.15H454.09V454.29H454.37V454.54H454.65V454.78H454.93V455.02H455.1V455.16H455.27V455.31H455.55V455.54H455.71V455.69H455.88V455.83H456.05V455.97H456.33V456.2H456.5V456.33H456.67V456.47H456.84V456.61H457.12V456.83H457.29V456.96H457.45V457.1H457.62V457.23H457.9V457.44H458.07V457.57H458.24V457.7H458.41V457.83H458.57V457.96H458.86V458.17H459.02V458.3H459.3V458.51H459.47V458.63H459.64V458.76H459.92V458.97H460.2V459.17H460.37V459.3H460.54V459.42H460.71V459.54H460.99V459.75H461.15V459.87H461.44V460.08H461.72V460.28H462V460.48H462.28V460.68H462.61V460.92H462.78V461.04H463.12V461.28H463.45V461.51H463.62V461.63H463.79V461.75H463.96V461.86H464.3V462.1H464.46V462.21H464.63V462.33H464.97V462.56H465.14V462.67H465.3V462.79H465.47V462.9H465.64V463.02H465.98V463.24H466.15V463.36H466.31V463.47H466.65V463.69H466.82V463.81H466.99V463.92H467.32V464.14H467.66V464.36H468V464.58H468.33V464.8H468.5V464.91H468.67V465.02H468.84V465.13H469.01V465.23H469.34V465.45H469.51V465.56H469.68V465.66H470.02V465.88H470.18V465.98H470.35V466.09H470.52V466.2H470.69V466.3H470.86V466.41H471.02V466.51H471.36V466.72H471.7V466.93H471.87V467.03H472.03V467.14H472.37V467.34H472.71V467.55H472.93V467.68H473.16V467.82H473.55V468.05H473.77V468.19H474V468.32H474.22V468.45H474.61V468.68H474.84V468.81H475.06V468.94H475.29V469.07H475.51V469.2H475.9V469.43H476.3V469.65H476.69V469.87H476.91V470H477.14V470.12H477.36V470.25H477.59V470.37H477.81V470.5H478.2V470.72H478.6V470.93H478.99V471.15H479.21V471.27H479.44V471.39H479.83V471.6H480.22V471.82H480.45V471.94H480.67V472.06H480.89V472.18H481.29V472.39H481.68V472.6H481.9V472.71H482.3V472.92H482.52V473.04H482.75V473.16H483.19V473.4H483.42V473.51H483.64V473.63H483.87V473.75H484.09V473.87H484.32V473.99H484.54V474.1H484.76V474.22H485.21V474.46H485.44V474.58H485.89V474.81H486.11V474.93H486.56V475.16H486.78V475.28H487.01V475.4H487.23V475.52H487.68V475.75H487.9V475.87H488.35V476.11H488.58V476.23H488.8V476.35H489.03V476.47H489.25V476.58H489.7V476.82H489.92V476.94H490.15V477.06H490.6V477.3H490.82V477.43H491.21V477.64H491.44V477.76H491.66V477.88H491.89V478H492.28V478.22H492.5V478.34H492.9V478.55H493.12V478.68H493.51V478.89H493.74V479.02H494.13V479.23H494.35V479.36H494.58V479.48H494.8V479.6H495.03V479.73H495.25V479.85H495.64V480.07H495.87V480.19H496.09V480.32H496.49V480.53H496.71V480.66H496.93V480.78H497.33V481H497.72V481.22H497.94V481.34H498.34V481.56H498.56V481.69H498.95V481.91H499.35V482.13H499.57V482.25H499.96V482.47H500.19V482.6H500.41V482.72H500.63V482.85H500.86V482.97H501.08V483.1H501.31V483.22H501.53V483.35H501.92V483.57H502.32V483.79H502.71V484.01H502.93V484.14H503.16V484.26H503.38V484.39H503.61V484.51H503.83V484.64H504.06V484.76H504.28V484.89H504.5V485.01H504.73V485.14H505.12V485.36H505.51V485.58H505.74V485.7H505.96V485.83H506.36V486.05H506.58V486.17H506.8V486.3H507.03V486.42H507.42V486.64H507.81V486.86H508.26V487.11H508.49V487.23H508.71V487.36H508.93V487.48H509.38V487.73H509.61V487.85H509.83V487.98H510.06V488.1H510.28V488.22H510.51V488.35H510.73V488.47H510.95V488.59H511.18V488.72H511.63V488.96H512.08V489.21H512.3V489.33H512.52V489.45H512.75V489.57H512.97V489.7H513.42V489.94H513.65V490.06H514.09V490.3H514.32V490.42H514.54V490.55H514.77V490.67H514.99V490.79H515.22V490.91H515.66V491.15H515.89V491.27H516.11V491.39H516.56V491.62H516.79V491.74H517.01V491.86H517.23V491.98H517.46V492.1H517.68V492.22H517.91V492.33H518.13V492.45H518.36V492.57H518.58V492.69H518.8V492.8H519.03V492.92H519.48V493.15H519.93V493.38H520.15V493.5H520.38V493.61H520.6V493.73H520.82V493.84H521.05V493.96H521.5V494.19H521.72V494.3H521.95V494.41H522.17V494.52H522.62V494.75H522.9V494.89H523.4V495.14H523.68V495.28H524.19V495.53H524.47V495.66H524.75V495.8H525.25V496.05H525.76V496.29H526.04V496.42H526.54V496.67H527.05V496.9H527.33V497.04H527.61V497.17H527.89V497.3H528.17V497.43H528.45V497.56H528.96V497.79H529.24V497.92H529.52V498.05H529.8V498.18H530.08V498.31H530.58V498.54H531.09V498.77H531.37V498.89H531.65V499.02H531.93V499.15H532.21V499.27H532.77V499.52H533.33V499.77H533.61V499.89H533.89V500.02H534.17V500.14H534.45V500.27H535.01V500.51H535.29V500.63H535.85V500.88H536.41V501.12H536.97V501.37H537.26V501.49H537.82V501.73H538.38V501.97H538.94V502.21H539.22V502.33H539.5V502.45H539.78V502.57H540.06V502.69H540.34V502.81H540.62V502.93H540.9V503.05H541.18V503.17H541.46V503.29H541.74V503.41H542.02V503.53H542.3V503.65H542.58V503.77H542.86V503.89H543.14V504.01H543.42V504.13H543.98V504.36H544.32V504.51H544.66V504.65H544.99V504.79H545.33V504.93H545.67V505.06H546V505.2H546.34V505.34H546.96V505.59H547.29V505.73H547.91V505.98H548.25V506.12H548.58V506.25H548.92V506.39H549.26V506.52H549.87V506.77H550.21V506.91H550.55V507.04H550.88V507.18H551.22V507.31H551.56V507.45H551.89V507.58H552.23V507.71H552.57V507.85H552.9V507.98H553.24V508.12H553.57V508.25H554.19V508.5H554.53V508.64H555.14V508.89H555.76V509.14H556.1V509.27H556.43V509.41H556.77V509.55H557.11V509.68H557.44V509.82H557.78V509.96H558.12V510.1H558.45V510.24H558.79V510.38H559.13V510.52H559.46V510.66H559.8V510.8H560.42V511.07H561.03V511.33H561.37V511.48H561.99V511.75H562.27V511.87H562.55V512H563.11V512.25H563.39V512.38H563.67V512.5H564.23V512.76H564.51V512.88H564.79V513.01H565.07V513.14H565.35V513.27H565.63V513.4H566.19V513.66H566.47V513.79H566.75V513.92H567.03V514.05H567.59V514.31H567.87V514.44H568.16V514.57H568.72V514.83H569V514.96H569.28V515.09H569.56V515.22H570.12V515.48H570.4V515.61H570.96V515.87H571.24V516H571.8V516.26H572.08V516.39H572.36V516.51H572.64V516.64H572.98V516.79H573.31V516.95H573.93V517.22H574.27V517.37H574.6V517.52H575.22V517.8H575.56V517.94H576.17V518.21H576.51V518.35H576.85V518.5H577.18V518.64H577.52V518.78H577.86V518.92H578.19V519.06H578.53V519.2H578.87V519.33H579.54V519.6H580.21V519.86H580.94V520.14H581.33V520.28H581.73V520.43H582.46V520.69H582.85V520.83H583.63V521.1H584.03V521.23H584.81V521.5H585.65V521.77H586.49V522.05H587.33V522.31H588.23V522.59H588.68V522.73H589.58V523.01H590.48V523.28H590.92V523.42H591.37V523.55H592.27V523.82H592.72V523.96H593.17V524.09H593.62V524.23H594.51V524.5H594.96V524.64H595.41V524.77H595.86V524.91H596.31V525.05H596.76V525.19H597.65V525.47H598.1V525.62H598.55V525.76H599V525.91H599.84V526.19H600.29V526.34H601.13V526.63H601.58V526.78H601.97V526.92H602.76V527.21H603.15V527.35H603.93V527.65H604.33V527.8H604.72V527.95H605.11V528.11H605.5V528.27H606.23V528.56H606.63V528.72H607.02V528.89H607.75V529.19H608.42V529.48H609.09V529.77H609.77V530.06H610.44V530.35H611.11V530.64H611.45V530.79H611.79V530.93H612.46V531.23H613.13V531.52H613.8V531.82H614.48V532.11H614.81V532.25H615.15V532.4H615.54V532.57H615.94V532.74H616.33V532.9H616.72V533.07H617.11V533.23H617.84V533.54H618.57V533.83H618.96V533.99H619.36V534.15H620.14V534.46H620.93V534.76H621.38V534.93H622.22V535.23H623.06V535.53H623.51V535.68H623.95V535.83H624.46V536H624.96V536.16H625.47V536.31H626.48V536.61H627.04V536.78H627.6V536.94H628.72V537.25H629.28V537.4H629.84V537.55H630.46V537.72H631.08V537.88H631.69V538.04H632.93V538.35H633.54V538.5H634.22V538.66H634.89V538.82H635.56V538.98H636.24V539.14H636.91V539.3H638.26V539.61H639.66V539.92H640.39V540.09H641.12V540.25H641.84V540.41H642.57V540.58H643.3V540.74H644.76V541.06H645.49V541.23H646.89V541.55H648.29V541.87H649.02V542.04H649.75V542.21H650.48V542.37H651.21V542.54H651.94V542.71H652.67V542.88H654.13V543.22H654.85V543.38H656.31V543.72H657.77V544.05H659.23V544.38H660.74V544.72H662.26V545.06H663.04V545.24H664.56V545.58H666.13V545.92H666.91V546.1H667.7V546.27H668.48V546.44H669.27V546.62H670.89V546.97H671.74V547.15H673.36V547.5H674.2V547.69H675.04V547.87H675.88V548.05H676.73V548.22H677.57V548.4H678.41V548.58H679.14V548.57L679.14 559.4V559.4H678.41V559.21H677.57V559.03H676.73V558.84H675.88V558.65H675.04V558.47H674.2V558.28H673.36V557.91H671.74V557.72H670.89V557.36H669.27V557.18H668.48V557H667.7V556.82H666.91V556.64H666.13V556.28H664.56V555.93H663.04V555.75H662.26V555.39H660.74V555.04H659.23V554.7H657.77V554.35H656.31V554.01H654.85V553.84H654.13V553.49H652.67V553.32H651.94V553.14H651.21V552.97H650.48V552.79H649.75V552.62H649.02V552.44H648.29V552.11H646.89V551.78H645.49V551.61H644.76V551.27H643.3V551.11H642.57V550.94H641.84V550.77H641.12V550.6H640.39V550.43H639.66V550.1H638.26V549.78H636.91V549.62H636.24V549.46H635.56V549.29H634.89V549.12H634.22V548.95H633.54V548.8H632.93V548.48H631.69V548.32H631.08V548.15H630.46V547.98H629.84V547.83H629.28V547.67H628.72V547.35H627.6V547.19H627.04V547.02H626.48V546.71H625.47V546.56H624.96V546.4H624.46V546.23H623.95V546.08H623.51V545.92H623.06V545.62H622.22V545.31H621.38V545.14H620.93V544.84H620.14V544.53H619.36V544.37H618.96V544.21H618.57V543.91H617.84V543.6H617.11V543.44H616.72V543.27H616.33V543.1H615.94V542.93H615.54V542.76H615.15V542.62H614.81V542.47H614.48V542.18H613.8V541.88H613.13V541.59H612.46V541.29H611.79V541.14H611.45V540.99H611.11V540.7H610.44V540.4H609.77V540.11H609.09V539.82H608.42V539.53H607.75V539.22H607.02V539.06H606.63V538.9H606.23V538.6H605.5V538.44H605.11V538.28H604.72V538.12H604.33V537.97H603.93V537.67H603.15V537.52H602.76V537.23H601.97V537.09H601.58V536.93H601.13V536.64H600.29V536.48H599.84V536.2H599V536.05H598.55V535.9H598.1V535.75H597.65V535.46H596.76V535.32H596.31V535.17H595.86V535.03H595.41V534.89H594.96V534.75H594.51V534.47H593.62V534.33H593.17V534.19H592.72V534.05H592.27V533.78H591.37V533.64H590.92V533.5H590.48V533.22H589.58V532.93H588.68V532.79H588.23V532.5H587.33V532.23H586.49V531.95H585.65V531.67H584.81V531.4H584.03V531.26H583.63V530.98H582.85V530.84H582.46V530.57H581.73V530.42H581.33V530.27H580.94V529.99H580.21V529.73H579.54V529.45H578.87V529.31H578.53V529.17H578.19V529.03H577.86V528.89H577.52V528.75H577.18V528.6H576.85V528.46H576.51V528.31H576.17V528.04H575.56V527.89H575.22V527.61H574.6V527.46H574.27V527.31H573.93V527.02H573.31V526.87H572.98V526.71H572.64V526.58H572.36V526.45H572.08V526.32H571.8V526.06H571.24V525.93H570.96V525.67H570.4V525.53H570.12V525.27H569.56V525.14H569.28V525H569V524.87H568.72V524.6H568.16V524.47H567.87V524.34H567.59V524.07H567.03V523.94H566.75V523.81H566.47V523.68H566.19V523.41H565.63V523.28H565.35V523.15H565.07V523.02H564.79V522.89H564.51V522.76H564.23V522.5H563.67V522.37H563.39V522.24H563.11V521.98H562.55V521.86H562.27V521.73H561.99V521.45H561.37V521.3H561.03V521.03H560.42V520.76H559.8V520.62H559.46V520.47H559.13V520.33H558.79V520.19H558.45V520.04H558.12V519.9H557.78V519.76H557.44V519.62H557.11V519.47H556.77V519.33H556.43V519.19H556.1V519.05H555.76V518.8H555.14V518.54H554.53V518.4H554.19V518.15H553.57V518.01H553.24V517.87H552.9V517.73H552.57V517.59H552.23V517.45H551.89V517.32H551.56V517.18H551.22V517.04H550.88V516.9H550.55V516.76H550.21V516.62H549.87V516.37H549.26V516.23H548.92V516.09H548.58V515.95H548.25V515.81H547.91V515.55H547.29V515.41H546.96V515.15H546.34V515.01H546V514.87H545.67V514.73H545.33V514.58H544.99V514.44H544.66V514.29H544.32V514.15H543.98V513.91H543.42V513.78H543.14V513.66H542.86V513.54H542.58V513.41H542.3V513.29H542.02V513.17H541.74V513.05H541.46V512.92H541.18V512.8H540.9V512.68H540.62V512.55H540.34V512.43H540.06V512.31H539.78V512.18H539.5V512.06H539.22V511.93H538.94V511.69H538.38V511.44H537.82V511.19H537.26V511.06H536.97V510.81H536.41V510.56H535.85V510.31H535.29V510.18H535.01V509.93H534.45V509.8H534.17V509.67H533.89V509.55H533.61V509.42H533.33V509.16H532.77V508.9H532.21V508.78H531.93V508.65H531.65V508.52H531.37V508.39H531.09V508.15H530.58V507.91H530.08V507.78H529.8V507.65H529.52V507.52H529.24V507.38H528.96V507.14H528.45V507.01H528.17V506.87H527.89V506.74H527.61V506.6H527.33V506.47H527.05V506.22H526.54V505.97H526.04V505.84H525.76V505.59H525.25V505.34H524.75V505.2H524.47V505.06H524.19V504.8H523.68V504.66H523.4V504.4H522.9V504.26H522.62V504.03H522.17V503.91H521.95V503.8H521.72V503.68H521.5V503.45H521.05V503.33H520.82V503.21H520.6V503.1H520.38V502.98H520.15V502.86H519.93V502.62H519.48V502.38H519.03V502.26H518.8V502.14H518.58V502.02H518.36V501.9H518.13V501.78H517.91V501.66H517.68V501.54H517.46V501.42H517.23V501.3H517.01V501.18H516.79V501.05H516.56V500.81H516.11V500.69H515.89V500.56H515.66V500.32H515.22V500.19H514.99V500.07H514.77V499.95H514.54V499.82H514.32V499.7H514.09V499.45H513.65V499.33H513.42V499.08H512.97V498.95H512.75V498.82H512.52V498.7H512.3V498.57H512.08V498.32H511.63V498.07H511.18V497.94H510.95V497.82H510.73V497.69H510.51V497.56H510.28V497.43H510.06V497.31H509.83V497.18H509.61V497.05H509.38V496.8H508.93V496.67H508.71V496.54H508.49V496.41H508.26V496.16H507.81V495.93H507.42V495.71H507.03V495.58H506.8V495.45H506.58V495.32H506.36V495.1H505.96V494.97H505.74V494.84H505.51V494.61H505.12V494.39H504.73V494.26H504.5V494.13H504.28V494H504.06V493.87H503.83V493.74H503.61V493.61H503.38V493.48H503.16V493.35H502.93V493.22H502.71V493H502.32V492.77H501.92V492.54H501.53V492.41H501.31V492.28H501.08V492.15H500.86V492.02H500.63V491.89H500.41V491.77H500.19V491.64H499.96V491.41H499.57V491.28H499.35V491.05H498.95V490.83H498.56V490.7H498.34V490.47H497.94V490.34H497.72V490.12H497.33V489.89H496.93V489.76H496.71V489.63H496.49V489.41H496.09V489.28H495.87V489.15H495.64V488.93H495.25V488.8H495.03V488.67H494.8V488.54H494.58V488.41H494.35V488.28H494.13V488.06H493.74V487.93H493.51V487.71H493.12V487.58H492.9V487.36H492.5V487.23H492.28V487.01H491.89V486.88H491.66V486.76H491.44V486.63H491.21V486.41H490.82V486.29H490.6V486.04H490.15V485.91H489.92V485.79H489.7V485.54H489.25V485.42H489.03V485.29H488.8V485.17H488.58V485.05H488.35V484.8H487.9V484.68H487.68V484.43H487.23V484.31H487.01V484.19H486.78V484.06H486.56V483.82H486.11V483.7H485.89V483.45H485.44V483.33H485.21V483.08H484.76V482.96H484.54V482.84H484.32V482.72H484.09V482.59H483.87V482.47H483.64V482.35H483.42V482.22H483.19V481.98H482.75V481.85H482.52V481.73H482.3V481.51H481.9V481.39H481.68V481.17H481.29V480.95H480.89V480.83H480.67V480.7H480.45V480.58H480.22V480.36H479.83V480.13H479.44V480.01H479.21V479.88H478.99V479.66H478.6V479.43H478.2V479.2H477.81V479.07H477.59V478.94H477.36V478.81H477.14V478.68H476.91V478.55H476.69V478.32H476.3V478.09H475.9V477.85H475.51V477.72H475.29V477.58H475.06V477.45H474.84V477.31H474.61V477.07H474.22V476.93H474V476.79H473.77V476.65H473.55V476.41H473.16V476.26H472.93V476.12H472.71V475.91H472.37V475.69H472.03V475.59H471.87V475.48H471.7V475.26H471.36V475.04H471.02V474.93H470.86V474.82H470.69V474.71H470.52V474.6H470.35V474.49H470.18V474.38H470.02V474.15H469.68V474.04H469.51V473.93H469.34V473.71H469.01V473.59H468.84V473.48H468.67V473.36H468.5V473.25H468.33V473.02H468V472.79H467.66V472.56H467.32V472.33H466.99V472.21H466.82V472.09H466.65V471.86H466.31V471.74H466.15V471.62H465.98V471.38H465.64V471.26H465.47V471.14H465.3V471.02H465.14V470.9H464.97V470.66H464.63V470.54H464.46V470.42H464.3V470.17H463.96V470.05H463.79V469.93H463.62V469.8H463.45V469.56H463.12V469.31H462.78V469.18H462.61V468.93H462.28V468.72H462V468.51H461.72V468.3H461.44V468.08H461.15V467.95H460.99V467.74H460.71V467.61H460.54V467.48H460.37V467.35H460.2V467.13H459.92V466.91H459.64V466.78H459.47V466.65H459.3V466.43H459.02V466.29H458.86V466.07H458.57V465.93H458.41V465.8H458.24V465.66H458.07V465.53H457.9V465.3H457.62V465.16H457.45V465.02H457.29V464.88H457.12V464.65H456.84V464.5H456.67V464.36H456.5V464.22H456.33V463.97H456.05V463.82H455.88V463.68H455.71V463.53H455.55V463.28H455.27V463.13H455.1V462.98H454.93V462.72H454.65V462.47H454.37V462.21H454.09V462.05H453.92V461.79H453.64V461.58H453.42V461.38H453.19V461.27H453.08V461.06H452.85V460.95H452.74V460.85H452.63V460.74H452.52V460.64H452.41V460.53H452.29V460.43H452.18V460.32H452.07V460.21H451.96V460H451.73V459.89H451.62V459.79H451.51V459.58H451.28V459.47H451.17V459.26H450.95V459.15H450.84V459.04H450.72V458.94H450.61V458.72H450.39V458.51H450.16V458.3H449.94V458.19H449.83V458.09H449.71V457.98H449.6V457.87H449.49V457.77H449.38V457.56H449.15V457.35H448.93V457.14H448.7V457.03H448.59V456.93H448.48V456.82H448.37V456.61H448.14V456.51H448.03V456.41H447.92V456.25H447.75V456.1H447.58V455.94H447.42V455.79H447.25V455.64H447.08V455.48H446.91V455.23H446.63V455.08H446.46V454.93H446.29V454.69H446.01V454.44H445.73V454.29H445.56V454.14H445.4V454H445.23V453.85H445.06V453.61H444.78V453.37H444.5V453.22H444.33V453.08H444.16V452.84H443.88V452.69H443.71V452.45H443.43V452.31H443.27V452.07H442.98V451.92H442.82V451.78H442.65V451.64H442.48V451.4H442.2V451.16H441.92V450.92H441.64V450.78H441.47V450.63H441.3V450.49H441.13V450.34H440.97V450.1H440.69V449.86H440.41V449.62H440.12V449.38H439.84V449.13H439.56V448.99H439.4V448.84H439.23V448.69H439.06V448.54H438.89V448.39H438.72V448.25H438.55V448H438.27V447.85H438.11V447.7H437.94V447.54H437.77V447.39H437.6V447.24H437.43V447.09H437.26V446.83H436.98V446.68H436.82V446.43H436.54V446.27H436.37V446.17H436.26V446.07H436.14V445.97H436.03V445.86H435.92V445.66H435.69V445.56H435.58V445.45H435.47V445.35H435.36V445.14H435.13V444.94H434.91V444.83H434.8V444.63H434.57V444.52H434.46V444.31H434.24V444.21H434.12V444.1H434.01V444H433.9V443.9H433.79V443.69H433.56V443.48H433.34V443.37H433.23V443.16H433V443.05H432.89V442.95H432.78V442.84H432.67V442.63H432.44V442.53H432.33V442.42H432.22V442.31H432.11V442.21H431.99V441.99H431.77V441.78H431.54V441.67H431.43V441.56H431.32V441.45H431.21V441.35H431.1V441.24H430.98V441.02H430.76V440.91H430.65V440.7H430.42V440.59H430.31V440.37H430.09V440.26H429.97V440.15H429.86V439.93H429.64V439.82H429.53V439.6H429.3V439.38H429.08V439.27H428.96V439.16H428.85V438.93H428.63V438.82H428.52V438.71H428.4V438.59H428.29V438.36H428.07V438.24H427.96V438.13H427.84V438.01H427.73V437.77H427.51V437.65H427.39V437.53H427.28V437.41H427.17V437.17H426.95V436.92H426.72V436.8H426.61V436.68H426.5V436.43H426.27V436.31H426.16V436.19H426.05V436.06H425.94V435.81H425.71V435.69H425.6V435.57H425.49V435.44H425.38V435.32H425.26V435.2H425.15V435.07H425.04V434.83H424.81V434.58H424.59V434.46H424.48V434.34H424.37V434.22H424.25V433.97H424.03V433.85H423.92V433.62H423.69V433.38H423.47V433.15H423.24V433.03H423.13V432.8H422.91V432.69H422.8V432.46H422.57V432.35H422.46V432.24H422.35V432.03H422.12V431.82H421.9V431.71H421.79V431.61H421.67V431.51H421.56V431.36H421.39V431.21H421.23V430.96H420.95V430.82H420.78V430.58H420.5V430.44H420.33V430.3H420.16V430.07H419.88V429.84H419.6V429.7H419.43V429.48H419.15V429.26H418.87V429.13H418.7V428.99H418.53V428.86H418.37V428.74H418.2V428.52H417.92V428.39H417.75V428.18H417.47V428.06H417.3V427.93H417.13V427.73H416.85V427.52H416.57V427.31H416.29V427.19H416.12V427.07H415.95V426.95H415.79V426.74H415.51V426.54H415.23V426.42H415.06V426.22H414.78V426.09H414.61V425.89H414.33V425.77H414.16V425.57H413.88V425.44H413.71V425.32H413.54V425.12H413.26V424.99H413.09V424.87H412.93V424.74H412.76V424.62H412.59V424.49H412.42V424.37H412.25V424.16H411.97V423.94H411.69V423.82H411.52V423.69H411.36V423.56H411.19V423.43H411.02V423.3H410.85V423.17H410.68V422.95H410.4V422.82H410.23V422.6H409.95V422.47H409.79V422.34H409.62V422.12H409.34V421.98H409.17V421.85H409V421.72H408.83V421.59H408.66V421.46H408.5V421.32H408.33V421.19H408.16V421.06H407.99V420.93H407.82V420.79H407.65V420.57H407.37V420.44H407.21V420.31H407.04V420.17H406.87V419.95H406.59V419.82H406.42V419.69H406.25V419.55H406.08V419.42H405.92V419.2H405.64V419.06H405.47V418.93H405.3V418.8H405.13V418.67H404.96V418.53H404.79V418.31H404.51V418.18H404.35V417.96H404.07V417.83H403.9V417.61H403.62V417.39H403.34V417.25H403.17V417.12H403V416.9H402.72V416.68H402.44V416.46H402.16V416.25H401.88V416.11H401.71V415.98H401.54V415.85H401.37V415.72H401.21V415.59H401.04V415.46H400.87V415.33H400.7V415.12H400.42V414.99H400.25V414.86H400.08V414.73H399.92V414.52H399.63V414.39H399.47V414.26H399.3V414.05H399.02V413.92H398.85V413.79H398.68V413.67H398.51V413.54H398.35V413.41H398.18V413.28H398.01V413.07H397.73V412.94H397.56V412.82H397.39V412.69H397.22V412.56H397.06V412.43H396.89V412.31H396.72V412.18H396.55V411.97H396.27V411.84H396.1V411.71H395.93V411.59H395.77V411.46H395.6V411.33H395.43V411.2H395.26V410.99H394.98V410.78H394.7V410.65H394.53V410.44H394.25V410.31H394.08V410.19H393.91V409.97H393.63V409.76H393.35V409.64H393.19V409.51H393.02V409.38H392.85V409.25H392.68V409.13H392.51V409H392.34V408.87H392.18V408.66H391.9V408.44H391.62V408.19H391.28V408.06H391.11V407.93H390.94V407.8H390.77V407.54H390.44V407.29H390.1V407.03H389.76V406.76H389.43V406.63H389.26V406.5H389.09V406.37H388.92V406.24H388.76V406.1H388.59V405.97H388.42V405.7H388.08V405.42H387.75V405.14H387.41V405H387.24V404.86H387.07V404.71H386.9V404.57H386.74V404.46H386.57V403.8H386.4Z" fill="#0a4b94" fill-opacity="0.3"/>
<path d="M386.4 403.8H387.41V404.06H389.15V405.53H390.77V407.56H392.23V409.8H393.52V412.25H394.81V414.86H395.54V416.25H396.27V417.58H397.78V420.31H398.57V421.78H399.97V424.57H400.7V426.05H401.43V427.58H402.1V429.02H402.78V430.5H403.45V432.02H404.12V433.59H404.74V435.08H405.36V436.62H406.53V439.69H407.65V442.76H408.22V444.44H409.17V447.55H409.67V449.27H410.18V450.99H410.68V452.66H411.19V454.26H412.37V457.47H413.15V459.06H414.1V460.65H416.51V463.86H418.87V467.12H419.88V468.74H421.79V472.02H422.57V473.67H423.24V475.32H423.81V477.16H424.53V480.47H424.87V482.19H425.54V485.65H426.33V489.14H426.89V490.83H427.67V492.62H428.57V494.39H429.58V496.09H430.76V497.82H432.05V499.58H433.28V501.3H434.63V503.08H436.09V504.84H437.66V506.63H439.23V508.37H442.54V511.87H444.27V513.64H446.07V515.43H447.92V517.24H451.62V520.8H453.53V522.62H457.29V526.24H459.19V528.07H463.29V531.7H468.11V535.37H470.69V537.2H476.3V540.98H479.32V542.86H482.52V544.75H485.77V546.63H489.03V548.52H492.39V550.39H501.76V554.14H511.63V555.53H520.54V559.25H523.18V562.79H523.8V562.8H523.8V563.61H524.64V564.79H535.57V573.89H543.7V576.62H552.96V580.61H558.85V586.61H591.37V588.25H610.16V589.89H680.26V589.8L680.26 610.28V610.27H610.16V608.19H591.37V605.58H558.85V602H552.96V599.24H543.7V597.2H535.57V590.58H524.64V589.74H523.8V589.15H523.8V589.15H523.18V586.56H520.54V583.91H511.63V583.06H501.76V580.35H492.39V578.95H489.03V577.52H485.77V576.09H482.52V574.65H479.32V573.18H476.3V570.21H470.69V568.68H468.11V565.57H463.29V562.44H459.19V560.85H457.29V557.66H453.53V556.04H451.62V552.84H447.92V551.2H446.07V549.56H444.27V547.93H442.54V544.68H439.23V543.05H437.66V541.36H436.09V539.69H434.63V537.99H433.28V536.33H432.05V534.63H430.76V532.95H429.58V531.28H428.57V529.54H427.67V527.76H426.89V526.08H426.33V522.57H425.54V519.05H424.87V517.28H424.53V513.84H423.81V511.92H423.24V510.18H422.57V508.43H421.79V504.92H419.88V503.16H418.87V499.61H416.51V496.06H414.1V494.29H413.15V492.5H412.37V488.85H411.19V487.02H410.68V485.08H410.18V483.08H409.67V481.05H409.17V477.34H408.22V475.31H407.65V471.55H406.53V467.73H405.36V465.78H404.74V463.87H404.12V461.83H403.45V459.83H402.78V457.87H402.1V455.93H401.43V453.85H400.7V451.79H399.97V447.85H398.57V445.7H397.78V441.62H396.27V439.56H395.54V437.35H394.81V433.01H393.52V428.62H392.23V424.2H390.77V419.54H389.15V415.76H387.41V403.8H386.4Z" fill="#cc1f2a" fill-opacity="0.35"/>
<path d="M386.4 403.8H387.24V404.62H388.03V406.15H388.42V407.03H388.81V407.98H389.2V408.97H389.6V410.01H389.99V411.09H390.77V413.39H391.17V414.57H391.95V416.97H392.34V418.16H393.19V420.61H394.14V423.08H394.64V424.38H395.15V425.76H395.6V427.12H395.99V428.45H396.33V429.78H396.89V432.63H397.17V434.21H397.67V437.06H397.95V438.5H398.63V441.21H399.07V442.67H399.58V444.13H400.59V446.9H401.49V449.71H401.88V451.18H402.27V452.76H402.61V454.17H402.94V455.58H403.34V457.19H404.12V460.04H404.57V461.5H405.07V463.09H405.58V464.62H406.08V466.06H407.26V469H408.83V471.92H409.84V473.44H410.91V474.93H411.97V476.48H413.82V479.53H415.34V482.57H415.9V484.28H416.35V486.02H416.74V487.67H417.13V489.33H417.58V491.07H418.03V492.66H418.98V495.96H419.49V497.65H419.99V499.28H420.55V501.01H421.11V502.63H421.79V504.3H422.52V505.96H423.13V507.59H423.64V509.36H424.42V512.88H424.76V514.58H425.1V516.33H425.77V519.86H426.1V521.56H426.5V523.41H427.39V526.79H428.29V528.56H429.58V530.27H431.32V531.98H433.73V533.7H436.26V535.43H439.51V538.92H440.69V540.7H441.81V542.58H443.83V546.21H444.84V548.06H446.97V551.79H448.2V553.7H451.62V557.51H456.22V561.34H459.08V563.31H466.2V567.24H471.19V569.24H481.06V572.89H488.69V577.27H492.78V579.55H497.55V581.89H507.42V585.66H509.78V585.6H509.78V586.04H523.8V586.65H573.99V588.8H582.12V596.4H614.08V585.65L614.08 612.2V611.58H582.12V609.19H573.99V607.22H523.8V606.54H509.78V606.32H509.78V606.29H507.42V604.07H497.55V602.63H492.78V601.17H488.69V598.24H481.06V595.55H471.19V594.03H466.2V591.05H459.08V589.54H456.22V586.57H451.62V583.56H448.2V582.05H446.97V579.05H444.84V577.54H443.83V574.52H441.81V572.94H440.69V571.42H439.51V568.36H436.26V566.8H433.73V565.23H431.32V563.69H429.58V562.15H428.29V560.56H427.39V557.54H426.5V555.87H426.1V554.34H425.77V551.11H425.1V549.49H424.76V547.91H424.42V544.6H423.64V542.92H423.13V541.35H422.52V539.74H421.79V538.12H421.11V536.54H420.55V534.84H419.99V533.24H419.49V531.56H418.98V528.26H418.03V526.67H417.58V524.91H417.13V523.23H416.74V521.54H416.35V519.74H415.9V517.97H415.34V514.77H413.82V511.51H411.97V509.84H410.91V508.21H409.84V506.55H408.83V503.36H407.26V500.13H406.08V498.53H405.58V496.83H405.07V495.05H404.57V493.41H404.12V490.19H403.34V488.35H402.94V486.73H402.61V485.11H402.27V483.27H401.88V481.55H401.49V478.22H400.59V474.88H399.58V473.1H399.07V471.32H398.63V467.97H397.95V466.17H397.67V462.57H397.17V460.54H396.89V456.82H396.33V455.06H395.99V453.26H395.6V451.41H395.15V449.51H394.64V447.69H394.14V444.14H393.19V440.53H392.34V438.73H391.95V434.99H391.17V433.07H390.77V429.19H389.99V427.25H389.6V425.32H389.2V423.39H388.81V421.44H388.42V419.48H388.03V415.62H387.24V403.8H386.4Z" fill="#4bc641" fill-opacity="0.3"/>
<path d="M386.4 508.1H542.86" stroke="#2a2a2a" stroke-width="0.95" stroke-dasharray="3 2" fill="none"/>
<path d="M417.24 508.1V612.4" stroke="#2a2a2a" stroke-width="0.95" stroke-dasharray="3 2" fill="none"/>
<path d="M426.78 508.1V612.4" stroke="#2a2a2a" stroke-width="0.95" stroke-dasharray="3 2" fill="none"/>
<path d="M542.86 508.1V612.4" stroke="#2a2a2a" stroke-width="0.95" stroke-dasharray="3 2" fill="none"/>
<line x1="372.5" y1="393.3" x2="372.5" y2="624" stroke="#3a3a3a" stroke-width="1" />
<line x1="372" y1="623.5" x2="680.7" y2="623.5" stroke="#3a3a3a" stroke-width="1" />
<line x1="370.3" y1="612.4" x2="372.5" y2="612.4" stroke="#3a3a3a" stroke-width="0.8" />
<text x="368.9" y="615.1" font-size="6.9" text-anchor="end" fill="#333" stroke="#333" stroke-width="0.22" >0.00</text>
<line x1="370.3" y1="560.25" x2="372.5" y2="560.25" stroke="#3a3a3a" stroke-width="0.8" />
<text x="368.9" y="562.95" font-size="6.9" text-anchor="end" fill="#333" stroke="#333" stroke-width="0.22" >0.25</text>
<line x1="370.3" y1="508.1" x2="372.5" y2="508.1" stroke="#3a3a3a" stroke-width="0.8" />
<text x="368.9" y="510.8" font-size="6.9" text-anchor="end" fill="#333" stroke="#333" stroke-width="0.22" >0.50</text>
<line x1="370.3" y1="455.95" x2="372.5" y2="455.95" stroke="#3a3a3a" stroke-width="0.8" />
<text x="368.9" y="458.65" font-size="6.9" text-anchor="end" fill="#333" stroke="#333" stroke-width="0.22" >0.75</text>
<line x1="370.3" y1="403.8" x2="372.5" y2="403.8" stroke="#3a3a3a" stroke-width="0.8" />
<text x="368.9" y="406.5" font-size="6.9" text-anchor="end" fill="#333" stroke="#333" stroke-width="0.22" >1.00</text>
<line x1="386.4" y1="623.5" x2="386.4" y2="625.7" stroke="#3a3a3a" stroke-width="0.8" />
<text x="386.4" y="632.1" font-size="7.2" text-anchor="middle" fill="#333" stroke="#333" stroke-width="0.22" >0</text>
<line x1="414.44" y1="623.5" x2="414.44" y2="625.7" stroke="#3a3a3a" stroke-width="0.8" />
<text x="414.44" y="632.1" font-size="7.2" text-anchor="middle" fill="#333" stroke="#333" stroke-width="0.22" >1</text>
<line x1="442.48" y1="623.5" x2="442.48" y2="625.7" stroke="#3a3a3a" stroke-width="0.8" />
<text x="442.48" y="632.1" font-size="7.2" text-anchor="middle" fill="#333" stroke="#333" stroke-width="0.22" >2</text>
<line x1="470.52" y1="623.5" x2="470.52" y2="625.7" stroke="#3a3a3a" stroke-width="0.8" />
<text x="470.52" y="632.1" font-size="7.2" text-anchor="middle" fill="#333" stroke="#333" stroke-width="0.22" >3</text>
<line x1="498.56" y1="623.5" x2="498.56" y2="625.7" stroke="#3a3a3a" stroke-width="0.8" />
<text x="498.56" y="632.1" font-size="7.2" text-anchor="middle" fill="#333" stroke="#333" stroke-width="0.22" >4</text>
<line x1="526.6" y1="623.5" x2="526.6" y2="625.7" stroke="#3a3a3a" stroke-width="0.8" />
<text x="526.6" y="632.1" font-size="7.2" text-anchor="middle" fill="#333" stroke="#333" stroke-width="0.22" >5</text>
<line x1="554.64" y1="623.5" x2="554.64" y2="625.7" stroke="#3a3a3a" stroke-width="0.8" />
<text x="554.64" y="632.1" font-size="7.2" text-anchor="middle" fill="#333" stroke="#333" stroke-width="0.22" >6</text>
<line x1="582.68" y1="623.5" x2="582.68" y2="625.7" stroke="#3a3a3a" stroke-width="0.8" />
<text x="582.68" y="632.1" font-size="7.2" text-anchor="middle" fill="#333" stroke="#333" stroke-width="0.22" >7</text>
<line x1="610.72" y1="623.5" x2="610.72" y2="625.7" stroke="#3a3a3a" stroke-width="0.8" />
<text x="610.72" y="632.1" font-size="7.2" text-anchor="middle" fill="#333" stroke="#333" stroke-width="0.22" >8</text>
<line x1="638.76" y1="623.5" x2="638.76" y2="625.7" stroke="#3a3a3a" stroke-width="0.8" />
<text x="638.76" y="632.1" font-size="7.2" text-anchor="middle" fill="#333" stroke="#333" stroke-width="0.22" >9</text>
<line x1="666.8" y1="623.5" x2="666.8" y2="625.7" stroke="#3a3a3a" stroke-width="0.8" />
<text x="666.8" y="632.1" font-size="7.2" text-anchor="middle" fill="#333" stroke="#333" stroke-width="0.22" >10</text>
<text x="526.6" y="640.5" font-size="8.3" text-anchor="middle" fill="#1a1a1a" stroke="#1a1a1a" stroke-width="0.22" >Time (years)</text>
<text x="0" y="0" font-size="8.3" text-anchor="middle" fill="#1a1a1a" stroke="#1a1a1a" stroke-width="0.22" transform="translate(351.8 508.4) rotate(-90)">Overall Survival</text>
<text x="498.6" y="449" font-size="8.1" text-anchor="start" fill="#1a1a1a" stroke="#1a1a1a" stroke-width="0.22" >p &lt; 0.0001</text>
<text x="590.8" y="425.3" font-size="5.95" text-anchor="start" fill="#1a1a1a" stroke="#1a1a1a" stroke-width="0.22" >toileting ability of ADL</text>
<rect x="591.1" y="429.5" width="9.3" height="9" fill="#0a4b94" fill-opacity="0.3"/>
<path d="M591.1 434h9.3M595.75 431.5v5" stroke="#1f4a94" stroke-width="1.0" fill="none"/>
<text x="604.2" y="436.1" font-size="5.95" text-anchor="start" fill="#1a1a1a" stroke="#1a1a1a" stroke-width="0.22" >ADL_toileting=0</text>
<rect x="591.1" y="439.6" width="9.3" height="9" fill="#cc1f2a" fill-opacity="0.35"/>
<path d="M591.1 444.1h9.3M595.75 441.6v5" stroke="#ec2424" stroke-width="1.0" fill="none"/>
<text x="604.2" y="446.2" font-size="5.95" text-anchor="start" fill="#1a1a1a" stroke="#1a1a1a" stroke-width="0.22" >ADL_toileting=1</text>
<rect x="591.1" y="450.1" width="9.3" height="9" fill="#4bc641" fill-opacity="0.3"/>
<path d="M591.1 454.6h9.3M595.75 452.1v5" stroke="#44bf3c" stroke-width="1.0" fill="none"/>
<text x="604.2" y="456.7" font-size="5.95" text-anchor="start" fill="#1a1a1a" stroke="#1a1a1a" stroke-width="0.22" >ADL_toileting=2</text>
<line x1="409" y1="662.5" x2="409" y2="709" stroke="#3a3a3a" stroke-width="1" />
<line x1="408.5" y1="708.5" x2="680.7" y2="708.5" stroke="#3a3a3a" stroke-width="1" />
<line x1="406.8" y1="670.7" x2="409" y2="670.7" stroke="#3a3a3a" stroke-width="0.8" />
<text x="406" y="673.2" font-size="7.05" text-anchor="end" fill="#3557a2" stroke="#3557a2" stroke-width="0.22" >ADL_toileting=0</text>
<text x="421.2" y="673.4" font-size="7.5" text-anchor="middle" fill="#1a1a1a" stroke="#1a1a1a" stroke-width="0.22" >2277</text>
<text x="445.92" y="673.4" font-size="7.5" text-anchor="middle" fill="#1a1a1a" stroke="#1a1a1a" stroke-width="0.22" >2061</text>
<text x="470.64" y="673.4" font-size="7.5" text-anchor="middle" fill="#1a1a1a" stroke="#1a1a1a" stroke-width="0.22" >1807</text>
<text x="495.36" y="673.4" font-size="7.5" text-anchor="middle" fill="#1a1a1a" stroke="#1a1a1a" stroke-width="0.22" >1462</text>
<text x="520.08" y="673.4" font-size="7.5" text-anchor="middle" fill="#1a1a1a" stroke="#1a1a1a" stroke-width="0.22" >1124</text>
<text x="544.8" y="673.4" font-size="7.5" text-anchor="middle" fill="#1a1a1a" stroke="#1a1a1a" stroke-width="0.22" >914</text>
<text x="569.52" y="673.4" font-size="7.5" text-anchor="middle" fill="#1a1a1a" stroke="#1a1a1a" stroke-width="0.22" >691</text>
<text x="594.24" y="673.4" font-size="7.5" text-anchor="middle" fill="#1a1a1a" stroke="#1a1a1a" stroke-width="0.22" >523</text>
<text x="618.96" y="673.4" font-size="7.5" text-anchor="middle" fill="#1a1a1a" stroke="#1a1a1a" stroke-width="0.22" >395</text>
<text x="643.68" y="673.4" font-size="7.5" text-anchor="middle" fill="#1a1a1a" stroke="#1a1a1a" stroke-width="0.22" >313</text>
<text x="668.4" y="673.4" font-size="7.5" text-anchor="middle" fill="#1a1a1a" stroke="#1a1a1a" stroke-width="0.22" >190</text>
<line x1="406.8" y1="685.5" x2="409" y2="685.5" stroke="#3a3a3a" stroke-width="0.8" />
<text x="406" y="688" font-size="7.05" text-anchor="end" fill="#ec2a2a" stroke="#ec2a2a" stroke-width="0.22" >ADL_toileting=1</text>
<text x="421.2" y="688.2" font-size="7.5" text-anchor="middle" fill="#1a1a1a" stroke="#1a1a1a" stroke-width="0.22" >186</text>
<text x="445.92" y="688.2" font-size="7.5" text-anchor="middle" fill="#1a1a1a" stroke="#1a1a1a" stroke-width="0.22" >122</text>
<text x="470.64" y="688.2" font-size="7.5" text-anchor="middle" fill="#1a1a1a" stroke="#1a1a1a" stroke-width="0.22" >77</text>
<text x="495.36" y="688.2" font-size="7.5" text-anchor="middle" fill="#1a1a1a" stroke="#1a1a1a" stroke-width="0.22" >47</text>
<text x="520.08" y="688.2" font-size="7.5" text-anchor="middle" fill="#1a1a1a" stroke="#1a1a1a" stroke-width="0.22" >31</text>
<text x="544.8" y="688.2" font-size="7.5" text-anchor="middle" fill="#1a1a1a" stroke="#1a1a1a" stroke-width="0.22" >23</text>
<text x="569.52" y="688.2" font-size="7.5" text-anchor="middle" fill="#1a1a1a" stroke="#1a1a1a" stroke-width="0.22" >8</text>
<text x="594.24" y="688.2" font-size="7.5" text-anchor="middle" fill="#1a1a1a" stroke="#1a1a1a" stroke-width="0.22" >5</text>
<text x="618.96" y="688.2" font-size="7.5" text-anchor="middle" fill="#1a1a1a" stroke="#1a1a1a" stroke-width="0.22" >3</text>
<text x="643.68" y="688.2" font-size="7.5" text-anchor="middle" fill="#1a1a1a" stroke="#1a1a1a" stroke-width="0.22" >3</text>
<text x="668.4" y="688.2" font-size="7.5" text-anchor="middle" fill="#1a1a1a" stroke="#1a1a1a" stroke-width="0.22" >2</text>
<line x1="406.8" y1="700" x2="409" y2="700" stroke="#3a3a3a" stroke-width="0.8" />
<text x="406" y="702.5" font-size="7.05" text-anchor="end" fill="#4fc046" stroke="#4fc046" stroke-width="0.22" >ADL_toileting=2</text>
<text x="421.2" y="702.7" font-size="7.5" text-anchor="middle" fill="#1a1a1a" stroke="#1a1a1a" stroke-width="0.22" >141</text>
<text x="445.92" y="702.7" font-size="7.5" text-anchor="middle" fill="#1a1a1a" stroke="#1a1a1a" stroke-width="0.22" >77</text>
<text x="470.64" y="702.7" font-size="7.5" text-anchor="middle" fill="#1a1a1a" stroke="#1a1a1a" stroke-width="0.22" >36</text>
<text x="495.36" y="702.7" font-size="7.5" text-anchor="middle" fill="#1a1a1a" stroke="#1a1a1a" stroke-width="0.22" >16</text>
<text x="520.08" y="702.7" font-size="7.5" text-anchor="middle" fill="#1a1a1a" stroke="#1a1a1a" stroke-width="0.22" >9</text>
<text x="544.8" y="702.7" font-size="7.5" text-anchor="middle" fill="#1a1a1a" stroke="#1a1a1a" stroke-width="0.22" >7</text>
<text x="569.52" y="702.7" font-size="7.5" text-anchor="middle" fill="#1a1a1a" stroke="#1a1a1a" stroke-width="0.22" >4</text>
<text x="594.24" y="702.7" font-size="7.5" text-anchor="middle" fill="#1a1a1a" stroke="#1a1a1a" stroke-width="0.22" >2</text>
<text x="618.96" y="702.7" font-size="7.5" text-anchor="middle" fill="#1a1a1a" stroke="#1a1a1a" stroke-width="0.22" >1</text>
<text x="643.68" y="702.7" font-size="7.5" text-anchor="middle" fill="#1a1a1a" stroke="#1a1a1a" stroke-width="0.22" >0</text>
<text x="668.4" y="702.7" font-size="7.5" text-anchor="middle" fill="#1a1a1a" stroke="#1a1a1a" stroke-width="0.22" >0</text>
<line x1="421.2" y1="708.5" x2="421.2" y2="710.7" stroke="#3a3a3a" stroke-width="0.8" />
<text x="421.2" y="716.9" font-size="7.2" text-anchor="middle" fill="#333" stroke="#333" stroke-width="0.22" >0</text>
<line x1="445.92" y1="708.5" x2="445.92" y2="710.7" stroke="#3a3a3a" stroke-width="0.8" />
<text x="445.92" y="716.9" font-size="7.2" text-anchor="middle" fill="#333" stroke="#333" stroke-width="0.22" >1</text>
<line x1="470.64" y1="708.5" x2="470.64" y2="710.7" stroke="#3a3a3a" stroke-width="0.8" />
<text x="470.64" y="716.9" font-size="7.2" text-anchor="middle" fill="#333" stroke="#333" stroke-width="0.22" >2</text>
<line x1="495.36" y1="708.5" x2="495.36" y2="710.7" stroke="#3a3a3a" stroke-width="0.8" />
<text x="495.36" y="716.9" font-size="7.2" text-anchor="middle" fill="#333" stroke="#333" stroke-width="0.22" >3</text>
<line x1="520.08" y1="708.5" x2="520.08" y2="710.7" stroke="#3a3a3a" stroke-width="0.8" />
<text x="520.08" y="716.9" font-size="7.2" text-anchor="middle" fill="#333" stroke="#333" stroke-width="0.22" >4</text>
<line x1="544.8" y1="708.5" x2="544.8" y2="710.7" stroke="#3a3a3a" stroke-width="0.8" />
<text x="544.8" y="716.9" font-size="7.2" text-anchor="middle" fill="#333" stroke="#333" stroke-width="0.22" >5</text>
<line x1="569.52" y1="708.5" x2="569.52" y2="710.7" stroke="#3a3a3a" stroke-width="0.8" />
<text x="569.52" y="716.9" font-size="7.2" text-anchor="middle" fill="#333" stroke="#333" stroke-width="0.22" >6</text>
<line x1="594.24" y1="708.5" x2="594.24" y2="710.7" stroke="#3a3a3a" stroke-width="0.8" />
<text x="594.24" y="716.9" font-size="7.2" text-anchor="middle" fill="#333" stroke="#333" stroke-width="0.22" >7</text>
<line x1="618.96" y1="708.5" x2="618.96" y2="710.7" stroke="#3a3a3a" stroke-width="0.8" />
<text x="618.96" y="716.9" font-size="7.2" text-anchor="middle" fill="#333" stroke="#333" stroke-width="0.22" >8</text>
<line x1="643.68" y1="708.5" x2="643.68" y2="710.7" stroke="#3a3a3a" stroke-width="0.8" />
<text x="643.68" y="716.9" font-size="7.2" text-anchor="middle" fill="#333" stroke="#333" stroke-width="0.22" >9</text>
<line x1="668.4" y1="708.5" x2="668.4" y2="710.7" stroke="#3a3a3a" stroke-width="0.8" />
<text x="668.4" y="716.9" font-size="7.2" text-anchor="middle" fill="#333" stroke="#333" stroke-width="0.22" >10</text>
<text x="544.85" y="725.5" font-size="8.3" text-anchor="middle" fill="#1a1a1a" stroke="#1a1a1a" stroke-width="0.22" >Time (years)</text>
<text x="0" y="0" font-size="8.3" text-anchor="middle" fill="#1a1a1a" stroke="#1a1a1a" stroke-width="0.22" transform="translate(352 685.5) rotate(-90)">toileting ability of ADL</text>
<text x="0" y="0" font-size="24.6" font-weight="bold" fill="#555555" transform="translate(1.38 759.2) scale(0.94 1)">E</text>
<text x="25.9" y="768" font-size="7.7" text-anchor="start" fill="#1a1a1a" stroke="#1a1a1a" stroke-width="0.22" >Brier score loss after permutations with loss of full model subtracted</text>
<path d="M40.3 1058 L49.1 1057.4 L52.6 1056.6 L60 1056.4 L77.5 1055.4 L87 1056.4 L95 1054.2 L106.7 1054.2 L114 1052.5 L122.8 1052 L133 1053.5 L147.7 1053.5 L151.2 1051.7 L156.3 1052.8 L164.9 1051.1 L178.6 1051.1 L195.8 1049 L211.2 1048.3 L226.6 1050 L243.8 1053.5 L260.9 1050 L274.7 1052.8 L288.4 1050 L302.1 1050 L324.4 1066.2" fill="none" stroke="#5ab3c4" stroke-width="0.95" stroke-linejoin="round"/>
<path d="M40.3 1058 L45.6 1056.2 L60 1044.7 L73.1 1035.3 L77.5 1028.7 L84.8 1028.7 L89.2 1027.7 L92.8 1027.2 L98 1024.6 L106.7 1028.4 L115.5 1030.9 L122.8 1032 L133 1034.2 L144.3 1035.3 L151.2 1039.7 L164.9 1041.5 L182 1041.5 L195.8 1039.1 L202.6 1040.4 L209.5 1039.7 L216.3 1041.5 L223.2 1040.4 L236.9 1040.8 L260.9 1044.2 L288.4 1043.5 L302.1 1046.6 L324.4 1056.9" fill="none" stroke="#ef5350" stroke-width="0.95" stroke-linejoin="round"/>
<path d="M40.3 1058 L49.9 1057.1 L59.6 1049.2 L64.4 1046.9 L73.1 1038.9 L78.2 1031.6 L83.4 1029.4 L88.5 1028.2 L92.8 1027.2 L98.7 1021.1 L102.3 1019.9 L107.4 1015.1 L112.6 1013.4 L122.8 1014.5 L131.5 1014.5 L137.4 1012.3 L149.5 1014 L156.3 1017.4 L161.5 1016.4 L164.9 1017.4 L168.3 1015 L175.2 1016.4 L182 1014 L190.6 1009.6 L197.5 1008.9 L204.3 1006.1 L211.2 1006.5 L218.1 1009.6 L226.6 1012.3 L243.8 1019.2 L254.1 1018.1 L260.9 1020.2 L274.7 1015.7 L288.4 1017.4 L302.1 1019.2 L324.4 1020.2" fill="none" stroke="#4a66ab" stroke-width="0.95" stroke-linejoin="round"/>
<path d="M40.3 1058 L49.9 1052.7 L59.6 1033.4 L65.7 1028.2 L70.2 1017 L75.3 1003.1 L81.1 981.9 L86.9 966.6 L92.8 959.3 L97.9 939.6 L105.9 924.2 L112.5 904.5 L118.3 897.2 L122.7 885.5 L127.8 879 L132.9 880.9 L137.6 871.9 L142.9 865.9 L150.1 857.6 L155.4 846.9 L162.6 830.8 L166.2 827.2 L173.3 820.1 L184 804 L195.9 787.2 L201.9 786.1 L210.9 789.7 L225.2 794.3 L235.9 792.2 L244.8 796.1 L253.8 793.6 L262.7 799.3 L275.3 803.3 L291.3 803.3 L303.9 795 L324.6 832.6" fill="none" stroke="#7dd36c" stroke-width="0.95" stroke-linejoin="round"/>
<rect x="26.5" y="772.5" width="313" height="308" fill="none" stroke="#5e5e5e" stroke-width="1.05"/>
<line x1="24.7" y1="1057.8" x2="26.5" y2="1057.8" stroke="#555" stroke-width="0.7" />
<text x="23" y="1059.6" font-size="5.3" text-anchor="end" fill="#555" stroke="#555" stroke-width="0.1" >0.00</text>
<line x1="24.7" y1="988.55" x2="26.5" y2="988.55" stroke="#555" stroke-width="0.7" />
<text x="23" y="990.35" font-size="5.3" text-anchor="end" fill="#555" stroke="#555" stroke-width="0.1" >0.02</text>
<line x1="24.7" y1="919.3" x2="26.5" y2="919.3" stroke="#555" stroke-width="0.7" />
<text x="23" y="921.1" font-size="5.3" text-anchor="end" fill="#555" stroke="#555" stroke-width="0.1" >0.04</text>
<line x1="24.7" y1="850.05" x2="26.5" y2="850.05" stroke="#555" stroke-width="0.7" />
<text x="23" y="851.85" font-size="5.3" text-anchor="end" fill="#555" stroke="#555" stroke-width="0.1" >0.06</text>
<line x1="24.7" y1="780.8" x2="26.5" y2="780.8" stroke="#555" stroke-width="0.7" />
<text x="23" y="782.6" font-size="5.3" text-anchor="end" fill="#555" stroke="#555" stroke-width="0.1" >0.08</text>
<line x1="66.5" y1="1080.5" x2="66.5" y2="1082.3" stroke="#555" stroke-width="0.7" />
<text x="66.5" y="1088.1" font-size="5.3" text-anchor="middle" fill="#555" stroke="#555" stroke-width="0.1" >1</text>
<line x1="172.5" y1="1080.5" x2="172.5" y2="1082.3" stroke="#555" stroke-width="0.7" />
<text x="172.5" y="1088.1" font-size="5.3" text-anchor="middle" fill="#555" stroke="#555" stroke-width="0.1" >5</text>
<line x1="305" y1="1080.5" x2="305" y2="1082.3" stroke="#555" stroke-width="0.7" />
<text x="305" y="1088.1" font-size="5.3" text-anchor="middle" fill="#555" stroke="#555" stroke-width="0.1" >10</text>
<text x="183" y="1095.2" font-size="6.5" text-anchor="middle" fill="#1a1a1a" stroke="#1a1a1a" stroke-width="0.22" >time (Years)</text>
<text x="0" y="0" font-size="6.5" text-anchor="middle" fill="#1a1a1a" stroke="#1a1a1a" stroke-width="0.22" transform="translate(10 926.5) rotate(-90)">loss function</text>
<text x="252.8" y="907.8" font-size="8.6" text-anchor="start" fill="#1a1a1a" stroke="#1a1a1a" stroke-width="0.22" >Features</text>
<line x1="253.1" y1="917.5" x2="261.8" y2="917.5" stroke="#4a66ab" stroke-width="1" />
<text x="265.9" y="919.7" font-size="5.9" text-anchor="start" fill="#1a1a1a" stroke="#1a1a1a" stroke-width="0.22" >ADL_cooking</text>
<line x1="253.1" y1="927.5" x2="261.8" y2="927.5" stroke="#ef5350" stroke-width="1" />
<text x="265.9" y="929.7" font-size="5.9" text-anchor="start" fill="#1a1a1a" stroke="#1a1a1a" stroke-width="0.22" >ADL_toileting</text>
<line x1="253.1" y1="937.5" x2="261.8" y2="937.5" stroke="#7dd36c" stroke-width="1" />
<text x="265.9" y="939.7" font-size="5.9" text-anchor="start" fill="#1a1a1a" stroke="#1a1a1a" stroke-width="0.22" >Age</text>
<line x1="253.1" y1="947.5" x2="261.8" y2="947.5" stroke="#5ab3c4" stroke-width="1" />
<text x="265.9" y="949.7" font-size="5.9" text-anchor="start" fill="#1a1a1a" stroke="#1a1a1a" stroke-width="0.22" >BMI</text>
<text x="0" y="0" font-size="24.6" font-weight="bold" fill="#555555" transform="translate(340.77 759.2) scale(0.93 1)">F</text>
<text x="365.6" y="768" font-size="7.7" text-anchor="start" fill="#1a1a1a" stroke="#1a1a1a" stroke-width="0.22" >1 &#8722; AUC loss after permutations with loss of full model subtracted</text>
<path d="M383.3 1044.3 L386.4 1046.9 L390.8 1044.8 L395.2 1041.7 L406.6 1042.2 L415.3 1042.5 L418.8 1043.6 L431.1 1043.6 L441.6 1044.5 L453.9 1044.5 L463.7 1044.9 L477.4 1047.3 L491.2 1045.9 L501.5 1047.3 L518.6 1047.3 L535.8 1048.3 L546.1 1045.9 L563.2 1046.6 L587.2 1049 L600.9 1047.6 L618.1 1048.3 L633.5 1045.6 L647.3 1046.6 L668.9 1068.9" fill="none" stroke="#5ab3c4" stroke-width="0.95" stroke-linejoin="round"/>
<path d="M383.3 1022 L385.9 1028.2 L389 1027 L392.6 1028.2 L396.9 1027.3 L400.4 1028.2 L404.8 1025.9 L411.8 1026.4 L415.3 1025.2 L420.6 1027 L425.8 1029.1 L438.1 1030.5 L452.1 1033.1 L467.2 1034.6 L479.2 1036.3 L491.2 1036.3 L503.2 1038 L528.9 1039.1 L546.1 1038.7 L559.8 1039.1 L580.4 1037.3 L600.9 1037 L618.1 1036.3 L647.3 1037.3 L668.9 1040.8" fill="none" stroke="#ef5350" stroke-width="0.95" stroke-linejoin="round"/>
<path d="M383.3 1008 L385.9 1017.7 L391.2 1022 L394.3 1018.9 L399.6 1022.6 L406.6 1025.2 L413.6 1025.6 L422.3 1025.9 L425 1027.3 L427.6 1024.7 L435.5 1023.4 L444.2 1018.2 L460 1017.1 L467.2 1018.5 L475.7 1016.4 L487.7 1017.1 L498 1020.9 L508.3 1023.3 L516.9 1023.6 L530.6 1020.9 L538.5 1022.6 L544.3 1018.1 L552.9 1018.5 L570.1 1022.6 L587.2 1026.7 L595.8 1025.3 L604.4 1025.3 L618.1 1024.3 L631.8 1025.3 L647.3 1027.7 L668.9 1044.9" fill="none" stroke="#4a66ab" stroke-width="0.95" stroke-linejoin="round"/>
<path d="M383.1 934.3 L385.8 906.3 L388.4 916.8 L391 936.4 L394.5 931.7 L397.2 921.2 L400.7 921.5 L405 917.7 L411.2 913.3 L413.8 908 L417.3 903.7 L421.7 897.5 L424.3 896.6 L427.8 892.3 L432.2 890.9 L436.2 885.6 L439.2 886.1 L443.6 882.1 L448 880.9 L453.2 876.6 L459.7 884.4 L463.2 885.2 L474 904.1 L479.3 904.5 L486.5 902.3 L491.9 898 L497.2 890.9 L502.6 888.7 L506.2 886.2 L509.7 885.2 L516.9 878 L524 873.7 L536.6 869.4 L544.4 875.5 L550.9 875.9 L558 874.8 L567.7 877.3 L586.6 871.9 L597.4 866.6 L606.3 861.2 L622.4 849.4 L633.8 840.8 L646.7 814.7 L668.9 787.2" fill="none" stroke="#7dd36c" stroke-width="0.95" stroke-linejoin="round"/>
<rect x="365.5" y="773.5" width="318" height="310" fill="none" stroke="#5e5e5e" stroke-width="1.05"/>
<line x1="363.7" y1="1047.8" x2="365.5" y2="1047.8" stroke="#555" stroke-width="0.7" />
<text x="362.2" y="1049.6" font-size="5.3" text-anchor="end" fill="#555" stroke="#555" stroke-width="0.1" >0.0</text>
<line x1="363.7" y1="943.65" x2="365.5" y2="943.65" stroke="#555" stroke-width="0.7" />
<text x="362.2" y="945.45" font-size="5.3" text-anchor="end" fill="#555" stroke="#555" stroke-width="0.1" >0.1</text>
<line x1="363.7" y1="839.5" x2="365.5" y2="839.5" stroke="#555" stroke-width="0.7" />
<text x="362.2" y="841.3" font-size="5.3" text-anchor="end" fill="#555" stroke="#555" stroke-width="0.1" >0.2</text>
<line x1="406.2" y1="1083.5" x2="406.2" y2="1085.3" stroke="#555" stroke-width="0.7" />
<text x="406.2" y="1091.1" font-size="5.3" text-anchor="middle" fill="#555" stroke="#555" stroke-width="0.1" >1</text>
<line x1="514" y1="1083.5" x2="514" y2="1085.3" stroke="#555" stroke-width="0.7" />
<text x="514" y="1091.1" font-size="5.3" text-anchor="middle" fill="#555" stroke="#555" stroke-width="0.1" >5</text>
<line x1="648.75" y1="1083.5" x2="648.75" y2="1085.3" stroke="#555" stroke-width="0.7" />
<text x="648.75" y="1091.1" font-size="5.3" text-anchor="middle" fill="#555" stroke="#555" stroke-width="0.1" >10</text>
<text x="524.5" y="1097.6" font-size="6.5" text-anchor="middle" fill="#1a1a1a" stroke="#1a1a1a" stroke-width="0.22" >time (Years)</text>
<text x="0" y="0" font-size="6.5" text-anchor="middle" fill="#1a1a1a" stroke="#1a1a1a" stroke-width="0.22" transform="translate(349.5 928.5) rotate(-90)">loss function</text>
<text x="595.6" y="909.4" font-size="8.6" text-anchor="start" fill="#1a1a1a" stroke="#1a1a1a" stroke-width="0.22" >Features</text>
<line x1="595.9" y1="918.5" x2="604.6" y2="918.5" stroke="#4a66ab" stroke-width="1" />
<text x="608.7" y="921.3" font-size="5.9" text-anchor="start" fill="#1a1a1a" stroke="#1a1a1a" stroke-width="0.22" >ADL_cooking</text>
<line x1="595.9" y1="928.5" x2="604.6" y2="928.5" stroke="#ef5350" stroke-width="1" />
<text x="608.7" y="931.3" font-size="5.9" text-anchor="start" fill="#1a1a1a" stroke="#1a1a1a" stroke-width="0.22" >ADL_toileting</text>
<line x1="595.9" y1="938.5" x2="604.6" y2="938.5" stroke="#7dd36c" stroke-width="1" />
<text x="608.7" y="941.3" font-size="5.9" text-anchor="start" fill="#1a1a1a" stroke="#1a1a1a" stroke-width="0.22" >Age</text>
<line x1="595.9" y1="948.5" x2="604.6" y2="948.5" stroke="#5ab3c4" stroke-width="1" />
<text x="608.7" y="951.3" font-size="5.9" text-anchor="start" fill="#1a1a1a" stroke="#1a1a1a" stroke-width="0.22" >BMI</text>
</svg>
</body></html>
